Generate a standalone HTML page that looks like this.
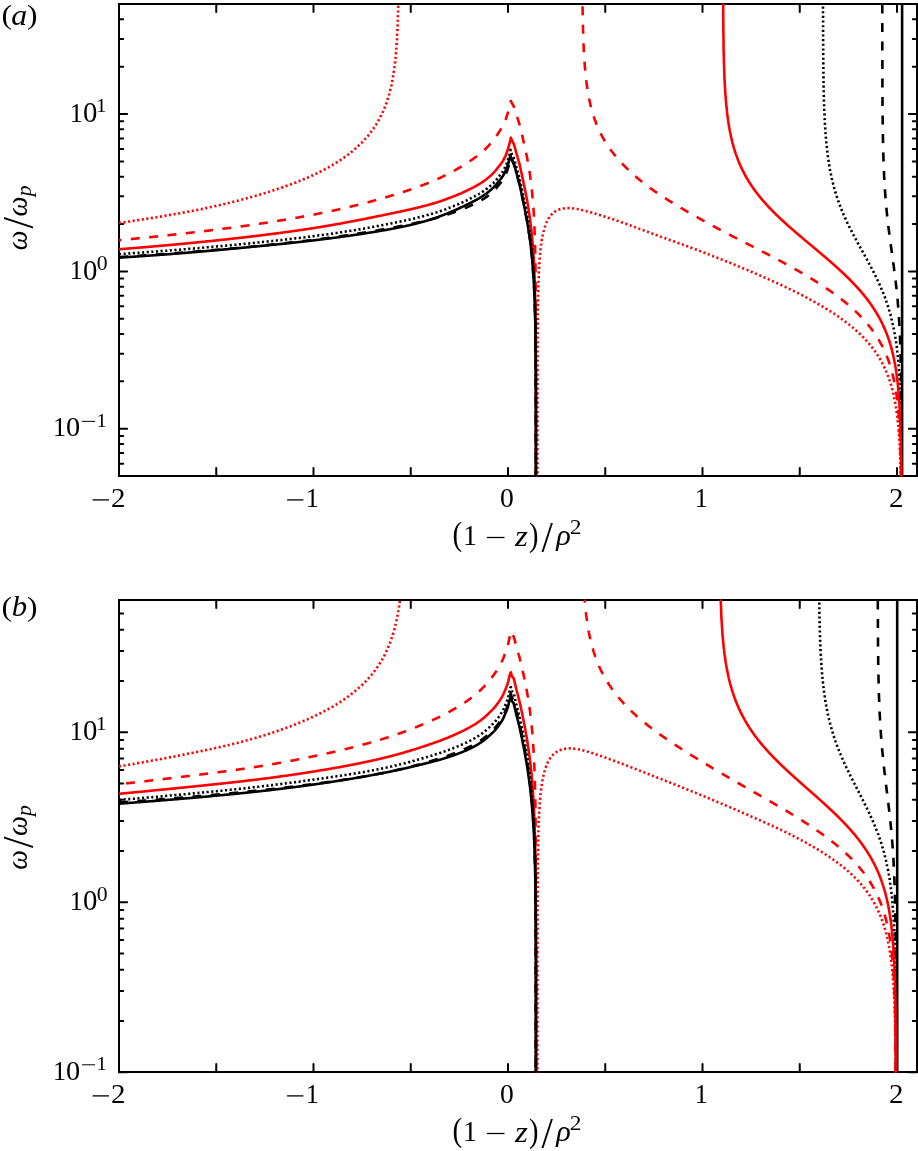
<!DOCTYPE html>
<html><head><meta charset="utf-8"><style>
html,body{margin:0;padding:0;background:#fff;}
svg{display:block;}
.g{font-family:"Liberation Serif",serif;font-size:100px;fill:#000;}
svg text{filter:grayscale(1);}
</style></head><body>
<svg width="918" height="1151" viewBox="0 0 918 1151">
<rect width="918" height="1151" fill="#fff"/>
<path d="M119.00,476v-8.1 M119.00,4v8.1 M216.25,476v-8.1 M216.25,4v8.1 M313.50,476v-8.1 M313.50,4v8.1 M410.75,476v-8.1 M410.75,4v8.1 M508.00,476v-8.1 M508.00,4v8.1 M605.25,476v-8.1 M605.25,4v8.1 M702.50,476v-8.1 M702.50,4v8.1 M799.75,476v-8.1 M799.75,4v8.1 M897.00,476v-8.1 M897.00,4v8.1 M119,476.09h4.2 M917,476.09h-4.2 M119,463.63h4.2 M917,463.63h-4.2 M119,453.10h4.2 M917,453.10h-4.2 M119,443.98h4.2 M917,443.98h-4.2 M119,435.93h4.2 M917,435.93h-4.2 M119,428.73h8.1 M917,428.73h-8.1 M119,381.37h4.2 M917,381.37h-4.2 M119,353.66h4.2 M917,353.66h-4.2 M119,334.01h4.2 M917,334.01h-4.2 M119,318.76h4.2 M917,318.76h-4.2 M119,306.30h4.2 M917,306.30h-4.2 M119,295.77h4.2 M917,295.77h-4.2 M119,286.65h4.2 M917,286.65h-4.2 M119,278.60h4.2 M917,278.60h-4.2 M119,271.40h8.1 M917,271.40h-8.1 M119,224.04h4.2 M917,224.04h-4.2 M119,196.33h4.2 M917,196.33h-4.2 M119,176.68h4.2 M917,176.68h-4.2 M119,161.43h4.2 M917,161.43h-4.2 M119,148.97h4.2 M917,148.97h-4.2 M119,138.44h4.2 M917,138.44h-4.2 M119,129.32h4.2 M917,129.32h-4.2 M119,121.27h4.2 M917,121.27h-4.2 M119,114.07h8.1 M917,114.07h-8.1 M119,66.71h4.2 M917,66.71h-4.2 M119,39.00h4.2 M917,39.00h-4.2 M119,19.35h4.2 M917,19.35h-4.2 M119,4.10h4.2 M917,4.10h-4.2" stroke="#000" stroke-width="2" stroke-linecap="round" fill="none"/>
<rect x="119" y="4" width="798" height="472" fill="none" stroke="#000" stroke-width="2"/>
<clipPath id="clipa"><rect x="119" y="3.6" width="798" height="472.8"/></clipPath>
<g clip-path="url(#clipa)" fill="none" stroke-linejoin="round">
<path d="M119.0,249.2 119.3,249.2 119.7,249.2 120.0,249.2 120.6,249.1 121.1,249.1 121.5,249.0 122.0,249.0 122.5,249.0 123.2,248.9 123.7,248.9 124.2,248.8 124.7,248.8 125.3,248.7 125.8,248.7 126.3,248.7 126.8,248.6 127.3,248.6 127.9,248.5 128.4,248.5 128.9,248.5 129.4,248.4 130.0,248.4 130.5,248.3 131.0,248.3 131.5,248.3 132.0,248.2 132.6,248.2 133.1,248.1 133.6,248.1 134.1,248.0 134.5,248.0 135.2,248.0 135.7,247.9 136.2,247.9 136.7,247.8 137.3,247.8 137.8,247.8 138.3,247.7 138.8,247.7 139.4,247.6 139.9,247.6 140.4,247.5 140.9,247.5 141.4,247.5 142.0,247.4 142.5,247.4 143.0,247.3 143.5,247.3 144.0,247.2 144.5,247.2 145.1,247.1 145.6,247.1 146.1,247.1 146.7,247.0 147.2,247.0 147.7,246.9 148.2,246.9 148.7,246.8 149.3,246.8 149.8,246.8 150.3,246.7 150.8,246.7 151.4,246.6 151.9,246.6 152.4,246.5 152.9,246.5 153.4,246.4 154.0,246.4 154.4,246.4 155.0,246.3 155.5,246.3 156.1,246.2 156.6,246.2 157.1,246.1 157.6,246.1 158.1,246.0 158.7,246.0 159.2,245.9 159.7,245.9 160.2,245.9 160.7,245.8 161.3,245.8 161.8,245.7 162.3,245.7 162.8,245.6 163.4,245.6 163.9,245.5 164.4,245.5 164.9,245.4 165.4,245.4 166.0,245.3 166.5,245.3 167.0,245.2 167.5,245.2 168.1,245.2 168.6,245.1 169.1,245.1 169.6,245.0 170.1,245.0 170.7,244.9 171.2,244.9 171.7,244.8 172.2,244.8 172.7,244.7 173.3,244.7 173.8,244.6 174.3,244.6 174.8,244.5 175.4,244.5 175.9,244.4 176.4,244.4 176.9,244.3 177.4,244.3 178.0,244.2 178.5,244.2 179.0,244.1 179.5,244.1 180.1,244.1 180.6,244.0 181.1,244.0 181.6,243.9 182.1,243.9 182.7,243.8 183.2,243.8 183.7,243.7 184.2,243.7 184.8,243.6 185.3,243.6 185.8,243.5 186.3,243.5 186.8,243.4 187.3,243.4 187.9,243.3 188.4,243.3 188.9,243.2 189.4,243.2 190.0,243.1 190.5,243.1 191.0,243.0 191.5,243.0 192.1,242.9 192.6,242.9 193.1,242.8 193.6,242.7 194.1,242.7 194.7,242.6 195.2,242.6 195.7,242.5 196.2,242.5 196.8,242.4 197.3,242.4 197.8,242.3 198.3,242.3 198.8,242.2 199.4,242.2 199.9,242.1 200.4,242.1 200.9,242.0 201.5,242.0 202.0,241.9 202.5,241.9 203.0,241.8 203.5,241.8 204.1,241.7 204.6,241.7 205.1,241.6 205.6,241.5 206.1,241.5 206.7,241.4 207.2,241.4 207.7,241.3 208.2,241.3 208.8,241.2 209.3,241.2 209.8,241.1 210.3,241.1 210.8,241.0 211.4,241.0 211.9,240.9 212.4,240.8 212.9,240.8 213.5,240.7 213.9,240.7 214.5,240.6 215.0,240.6 215.5,240.5 216.1,240.5 216.6,240.4 217.1,240.4 217.6,240.3 218.1,240.2 218.7,240.2 219.2,240.1 219.7,240.1 220.2,240.0 220.8,240.0 221.3,239.9 221.8,239.9 222.3,239.8 222.8,239.7 223.4,239.7 223.9,239.6 224.4,239.6 224.9,239.5 225.5,239.5 226.0,239.4 226.5,239.3 227.0,239.3 227.5,239.2 228.1,239.2 228.6,239.1 229.1,239.1 229.6,239.0 230.2,238.9 230.7,238.9 231.2,238.8 231.7,238.8 232.2,238.7 232.8,238.6 233.3,238.6 233.8,238.5 234.3,238.5 234.8,238.4 235.4,238.4 235.9,238.3 236.4,238.2 236.9,238.2 237.5,238.1 238.0,238.1 238.5,238.0 239.0,237.9 239.5,237.9 240.1,237.8 240.6,237.8 241.1,237.7 241.6,237.6 242.2,237.6 242.7,237.5 243.2,237.5 243.7,237.4 244.2,237.3 244.8,237.3 245.3,237.2 245.8,237.2 246.3,237.1 246.9,237.0 247.4,237.0 247.9,236.9 248.4,236.9 248.9,236.8 249.5,236.7 250.0,236.7 250.5,236.6 250.9,236.6 251.5,236.5 252.1,236.4 252.6,236.4 253.1,236.3 253.6,236.2 254.2,236.2 254.7,236.1 255.2,236.0 255.7,236.0 256.2,235.9 256.8,235.9 257.3,235.8 257.8,235.7 258.3,235.7 258.9,235.6 259.4,235.5 259.9,235.5 260.4,235.4 260.9,235.3 261.5,235.3 262.0,235.2 262.5,235.2 263.0,235.1 263.5,235.0 264.1,235.0 264.6,234.9 265.1,234.8 265.6,234.8 266.2,234.7 266.7,234.6 267.2,234.6 267.7,234.5 268.2,234.4 268.8,234.4 269.3,234.3 269.8,234.2 270.3,234.2 270.9,234.1 271.4,234.0 271.9,234.0 272.4,233.9 272.9,233.8 273.5,233.8 274.0,233.7 274.5,233.6 275.0,233.6 275.6,233.5 276.1,233.4 276.6,233.4 277.1,233.3 277.6,233.2 278.2,233.2 278.7,233.1 279.2,233.0 279.7,233.0 280.2,232.9 280.8,232.8 281.3,232.7 281.8,232.7 282.3,232.6 282.9,232.5 283.4,232.5 283.9,232.4 284.4,232.3 284.9,232.3 285.5,232.2 286.0,232.1 286.5,232.0 287.0,232.0 287.6,231.9 288.1,231.8 288.6,231.8 289.1,231.7 289.6,231.6 290.2,231.5 290.7,231.5 291.2,231.4 291.7,231.3 292.3,231.2 292.8,231.2 293.3,231.1 293.8,231.0 294.3,231.0 294.9,230.9 295.4,230.8 295.9,230.7 296.4,230.7 296.9,230.6 297.5,230.5 298.0,230.4 298.5,230.4 299.0,230.3 299.6,230.2 300.1,230.1 300.6,230.0 301.1,230.0 301.6,229.9 302.2,229.8 302.7,229.7 303.2,229.7 303.7,229.6 304.3,229.5 304.8,229.4 305.3,229.4 305.8,229.3 306.3,229.2 306.9,229.1 307.4,229.0 307.9,229.0 308.4,228.9 308.9,228.8 309.5,228.7 310.0,228.6 310.5,228.6 311.0,228.5 311.6,228.4 312.1,228.3 312.6,228.2 313.1,228.2 313.6,228.1 314.2,228.0 314.7,227.9 315.2,227.8 315.7,227.7 316.3,227.7 316.8,227.6 317.3,227.5 317.8,227.4 318.3,227.3 318.9,227.2 319.4,227.2 319.9,227.1 320.4,227.0 321.0,226.9 321.5,226.8 322.0,226.7 322.5,226.6 323.0,226.6 323.6,226.5 324.1,226.4 324.6,226.3 325.1,226.2 325.6,226.1 326.2,226.0 326.7,225.9 327.2,225.9 327.7,225.8 328.3,225.7 328.8,225.6 329.3,225.5 329.8,225.4 330.3,225.3 330.9,225.2 331.4,225.1 331.9,225.1 332.4,225.0 333.0,224.9 333.5,224.8 334.0,224.7 334.5,224.6 335.0,224.5 335.6,224.4 336.1,224.3 336.6,224.2 337.1,224.1 337.7,224.0 338.2,223.9 338.7,223.9 339.2,223.8 339.7,223.7 340.3,223.6 340.8,223.5 341.3,223.4 341.8,223.3 342.3,223.2 342.9,223.1 343.4,223.0 343.9,222.9 344.4,222.8 345.0,222.7 345.5,222.6 346.0,222.5 346.5,222.4 347.0,222.3 347.6,222.2 348.1,222.1 348.6,222.0 349.1,221.9 349.7,221.8 350.2,221.7 350.7,221.6 351.2,221.5 351.7,221.4 352.3,221.3 352.8,221.2 353.3,221.1 353.8,221.0 354.3,220.9 354.9,220.8 355.4,220.7 355.9,220.6 356.4,220.5 357.0,220.4 357.5,220.3 358.0,220.2 358.5,220.1 359.0,220.0 359.6,219.9 360.1,219.8 360.6,219.7 361.1,219.6 361.7,219.5 362.2,219.4 362.7,219.3 363.2,219.2 363.7,219.1 364.3,219.0 364.8,218.9 365.3,218.8 365.8,218.7 366.4,218.6 366.9,218.5 367.4,218.3 367.9,218.2 368.4,218.1 369.0,218.0 369.5,217.9 370.0,217.8 370.5,217.7 371.0,217.6 371.6,217.5 372.1,217.4 372.6,217.3 373.1,217.2 373.7,217.1 374.2,217.0 374.7,216.9 375.2,216.8 375.7,216.7 376.3,216.5 376.8,216.4 377.3,216.3 377.8,216.2 378.4,216.1 378.9,216.0 379.4,215.9 379.9,215.8 380.4,215.7 381.0,215.6 381.5,215.5 382.0,215.4 382.5,215.3 383.1,215.2 383.6,215.1 384.1,214.9 384.6,214.8 385.1,214.7 385.7,214.6 386.2,214.5 386.7,214.4 387.2,214.3 387.7,214.2 388.3,214.1 388.8,214.0 389.3,213.9 389.8,213.8 390.4,213.6 390.9,213.5 391.4,213.4 391.9,213.3 392.4,213.2 393.0,213.1 393.5,213.0 394.0,212.9 394.5,212.8 395.1,212.7 395.6,212.6 396.1,212.4 396.6,212.3 397.1,212.2 397.7,212.1 398.2,212.0 398.7,211.9 399.2,211.8 399.7,211.7 400.3,211.6 400.8,211.4 401.3,211.3 401.8,211.2 402.4,211.1 402.9,211.0 403.4,210.9 403.9,210.8 404.4,210.7 405.0,210.5 405.5,210.4 406.0,210.3 406.5,210.2 407.1,210.1 407.6,210.0 408.1,209.8 408.6,209.7 409.1,209.6 409.7,209.5 410.2,209.4 410.7,209.3 411.2,209.1 411.8,209.0 412.3,208.9 412.8,208.8 413.3,208.7 413.8,208.5 414.4,208.4 414.9,208.3 415.4,208.2 415.9,208.0 416.4,207.9 417.0,207.8 417.5,207.7 418.0,207.5 418.5,207.4 419.1,207.3 419.6,207.2 420.1,207.0 420.6,206.9 421.1,206.8 421.7,206.6 422.2,206.5 422.7,206.4 423.2,206.2 423.8,206.1 424.1,206.0 424.8,205.8 425.3,205.7 425.8,205.6 426.4,205.4 426.9,205.3 427.4,205.1 427.9,205.0 428.5,204.8 429.0,204.7 429.5,204.6 430.0,204.4 430.5,204.3 431.1,204.1 431.6,204.0 432.1,203.8 432.6,203.7 433.1,203.5 433.7,203.4 434.2,203.2 434.7,203.0 435.2,202.9 435.8,202.7 436.3,202.6 436.8,202.4 437.3,202.2 437.8,202.1 438.4,201.9 438.9,201.7 439.4,201.6 439.9,201.4 440.5,201.2 441.0,201.0 441.5,200.9 442.0,200.7 442.5,200.5 443.1,200.3 443.6,200.1 444.1,200.0 444.6,199.8 445.1,199.6 445.7,199.4 446.2,199.2 446.7,199.0 447.2,198.8 447.8,198.6 448.3,198.4 448.8,198.2 449.3,198.0 449.8,197.8 450.4,197.6 450.9,197.4 451.4,197.2 451.9,197.0 452.5,196.8 453.0,196.6 453.5,196.4 454.0,196.2 454.5,196.0 455.1,195.8 455.4,195.6 456.1,195.4 456.6,195.2 457.2,194.9 457.7,194.7 458.2,194.5 458.7,194.3 459.2,194.1 459.8,193.8 460.3,193.6 460.8,193.4 461.3,193.2 461.8,192.9 462.4,192.7 462.9,192.5 463.4,192.2 463.9,192.0 464.5,191.7 465.0,191.5 465.5,191.3 466.0,191.0 466.5,190.8 467.1,190.5 467.6,190.3 468.1,190.0 468.6,189.7 469.2,189.5 469.7,189.2 470.2,189.0 470.7,188.7 471.2,188.4 471.8,188.2 472.3,187.9 472.8,187.6 473.3,187.4 473.9,187.1 474.4,186.8 474.9,186.5 475.4,186.3 475.9,186.0 476.5,185.7 477.0,185.4 477.5,185.1 478.0,184.8 478.5,184.5 479.1,184.2 479.6,183.9 480.1,183.6 480.6,183.2 481.2,182.9 481.7,182.6 482.2,182.2 482.7,181.9 483.2,181.5 483.8,181.2 484.3,180.8 484.8,180.4 485.3,180.0 485.9,179.6 486.4,179.2 486.8,178.9 487.4,178.4 487.9,177.9 488.5,177.5 489.0,177.1 489.5,176.6 490.0,176.2 490.5,175.7 491.1,175.2 491.6,174.7 492.1,174.3 492.6,173.8 493.2,173.2 493.7,172.7 494.2,172.1 494.7,171.6 495.2,171.0 495.8,170.3 496.3,169.7 496.8,169.0 497.3,168.4 497.9,167.7 498.4,167.0 498.9,166.4 499.4,165.7 499.9,165.0 500.5,164.4 501.0,163.7 501.5,163.0 502.0,162.2 502.6,161.5 503.1,160.6 503.6,159.7 504.1,158.7 504.6,157.7 505.2,156.6 505.7,155.4 505.9,154.8 506.2,154.1 506.7,152.8 507.2,151.4 507.8,149.8 508.3,148.0 508.8,146.2 509.3,144.2 509.9,142.2 510.4,139.8 510.5,139.2 510.9,137.7 511.4,139.0 511.9,140.2 512.5,141.3 513.0,142.3 513.5,143.3 514.0,144.7 514.4,145.8 514.6,146.5 515.1,148.3 515.6,150.2 516.1,152.1 516.6,153.9 517.2,155.7 517.6,157.3 518.2,159.3 518.7,161.3 519.3,163.3 519.8,165.5 520.3,167.7 520.4,168.2 520.8,170.0 521.3,172.4 521.9,174.8 522.4,177.2 522.8,179.0 522.9,179.6 523.4,182.1 523.9,184.6 524.5,187.1 524.8,188.5 525.0,189.6 525.5,192.3 526.0,194.9 526.5,197.2 526.6,197.7 527.1,200.5 527.6,203.5 527.9,205.2 528.1,206.5 528.6,209.7 529.1,212.8 529.2,213.1 529.7,216.7 530.2,220.2 530.2,220.6 530.7,224.7 531.0,227.3 531.3,229.2 531.8,234.1 532.3,239.6 532.4,240.9 532.8,245.7 532.9,247.4 533.3,252.9 533.4,253.8 533.8,260.1 533.9,261.4 534.1,266.3 534.4,272.1 534.6,278.4 534.8,284.4 534.9,286.9 535.0,290.3 535.1,296.1 535.3,302.0 535.4,307.8 535.4,311.4 535.5,313.5 535.5,319.3 535.6,325.0 535.6,330.7 535.7,336.4 535.7,342.1 535.8,347.7 535.8,353.4 535.8,359.1 535.8,364.7 535.9,370.4 535.9,376.0 535.9,381.6 535.9,387.3 535.9,392.9 535.9,398.5 535.9,404.2 535.9,409.8 535.9,415.4 535.9,421.1 535.9,426.7 535.9,432.3 535.9,437.9 535.9,443.5 535.9,449.2 535.9,454.8 535.9,460.4 535.9,466.0 535.9,471.7 535.9,477.3 535.9,482.9 535.9,488.5 535.9,494.1 535.9,499.8 535.9,505.4 535.9,506.0" stroke="#ff0000" stroke-width="2.6" stroke-linecap="round"/>
<path d="M119.0,240.2 119.3,240.2 119.7,240.1 120.0,240.1 120.6,240.1 121.1,240.0 121.5,240.0 122.0,239.9 122.5,239.9 123.2,239.8 123.7,239.8 124.2,239.7 124.7,239.7 125.3,239.6 125.8,239.6 126.3,239.5 126.8,239.5 127.3,239.4 127.9,239.4 128.4,239.3 128.9,239.3 129.4,239.2 130.0,239.2 130.5,239.1 131.0,239.1 131.5,239.0 132.0,239.0 132.6,238.9 133.1,238.9 133.6,238.8 134.1,238.8 134.5,238.7 135.2,238.7 135.7,238.6 136.2,238.5 136.7,238.5 137.3,238.4 137.8,238.4 138.3,238.3 138.8,238.3 139.4,238.2 139.9,238.2 140.4,238.1 140.9,238.1 141.4,238.0 142.0,238.0 142.5,237.9 143.0,237.9 143.5,237.8 144.0,237.8 144.5,237.7 145.1,237.7 145.6,237.6 146.1,237.5 146.7,237.5 147.2,237.4 147.7,237.4 148.2,237.3 148.7,237.3 149.3,237.2 149.8,237.2 150.3,237.1 150.8,237.1 151.4,237.0 151.9,237.0 152.4,236.9 152.9,236.8 153.4,236.8 154.0,236.7 154.4,236.7 155.0,236.6 155.5,236.6 156.1,236.5 156.6,236.5 157.1,236.4 157.6,236.4 158.1,236.3 158.7,236.2 159.2,236.2 159.7,236.1 160.2,236.1 160.7,236.0 161.3,236.0 161.8,235.9 162.3,235.9 162.8,235.8 163.4,235.7 163.9,235.7 164.4,235.6 164.9,235.6 165.4,235.5 166.0,235.5 166.5,235.4 167.0,235.3 167.5,235.3 168.1,235.2 168.6,235.2 169.1,235.1 169.6,235.1 170.1,235.0 170.7,234.9 171.2,234.9 171.7,234.8 172.2,234.8 172.7,234.7 173.3,234.7 173.8,234.6 174.3,234.5 174.8,234.5 175.4,234.4 175.9,234.4 176.4,234.3 176.9,234.3 177.4,234.2 178.0,234.1 178.5,234.1 179.0,234.0 179.5,234.0 180.1,233.9 180.6,233.8 181.1,233.8 181.6,233.7 182.1,233.7 182.7,233.6 183.2,233.5 183.7,233.5 184.2,233.4 184.8,233.4 185.3,233.3 185.8,233.3 186.3,233.2 186.8,233.1 187.3,233.1 187.9,233.0 188.4,233.0 188.9,232.9 189.4,232.8 190.0,232.8 190.5,232.7 191.0,232.7 191.5,232.6 192.1,232.5 192.6,232.5 193.1,232.4 193.6,232.3 194.1,232.3 194.7,232.2 195.2,232.2 195.7,232.1 196.2,232.0 196.8,232.0 197.3,231.9 197.8,231.9 198.3,231.8 198.8,231.7 199.4,231.7 199.9,231.6 200.4,231.6 200.9,231.5 201.5,231.4 202.0,231.4 202.5,231.3 203.0,231.2 203.5,231.2 204.1,231.1 204.6,231.1 205.1,231.0 205.6,230.9 206.1,230.9 206.7,230.8 207.2,230.7 207.7,230.7 208.2,230.6 208.8,230.6 209.3,230.5 209.8,230.4 210.3,230.4 210.8,230.3 211.4,230.2 211.9,230.2 212.4,230.1 212.9,230.0 213.5,230.0 213.9,229.9 214.5,229.8 215.0,229.8 215.5,229.7 216.1,229.7 216.6,229.6 217.1,229.5 217.6,229.5 218.1,229.4 218.7,229.3 219.2,229.3 219.7,229.2 220.2,229.1 220.8,229.1 221.3,229.0 221.8,228.9 222.3,228.9 222.8,228.8 223.4,228.7 223.9,228.7 224.4,228.6 224.9,228.5 225.5,228.5 226.0,228.4 226.5,228.3 227.0,228.3 227.5,228.2 228.1,228.1 228.6,228.1 229.1,228.0 229.6,227.9 230.2,227.9 230.7,227.8 231.2,227.7 231.7,227.6 232.2,227.6 232.8,227.5 233.3,227.4 233.8,227.4 234.3,227.3 234.8,227.2 235.4,227.2 235.9,227.1 236.4,227.0 236.9,227.0 237.5,226.9 238.0,226.8 238.5,226.7 239.0,226.7 239.5,226.6 240.1,226.5 240.6,226.5 241.1,226.4 241.6,226.3 242.2,226.2 242.7,226.2 243.2,226.1 243.7,226.0 244.2,226.0 244.8,225.9 245.3,225.8 245.8,225.7 246.3,225.7 246.9,225.6 247.4,225.5 247.9,225.4 248.4,225.4 248.9,225.3 249.5,225.2 250.0,225.1 250.5,225.1 250.9,225.0 251.5,224.9 252.1,224.8 252.6,224.8 253.1,224.7 253.6,224.6 254.2,224.5 254.7,224.5 255.2,224.4 255.7,224.3 256.2,224.2 256.8,224.2 257.3,224.1 257.8,224.0 258.3,223.9 258.9,223.8 259.4,223.8 259.9,223.7 260.4,223.6 260.9,223.5 261.5,223.5 262.0,223.4 262.5,223.3 263.0,223.2 263.5,223.1 264.1,223.1 264.6,223.0 265.1,222.9 265.6,222.8 266.2,222.7 266.7,222.7 267.2,222.6 267.7,222.5 268.2,222.4 268.8,222.3 269.3,222.3 269.8,222.2 270.3,222.1 270.9,222.0 271.4,221.9 271.9,221.8 272.4,221.8 272.9,221.7 273.5,221.6 274.0,221.5 274.5,221.4 275.0,221.4 275.6,221.3 276.1,221.2 276.6,221.1 277.1,221.0 277.6,220.9 278.2,220.8 278.7,220.8 279.2,220.7 279.7,220.6 280.2,220.5 280.8,220.4 281.3,220.3 281.8,220.2 282.3,220.2 282.9,220.1 283.4,220.0 283.9,219.9 284.4,219.8 284.9,219.7 285.5,219.6 286.0,219.5 286.5,219.5 287.0,219.4 287.6,219.3 288.1,219.2 288.6,219.1 289.1,219.0 289.6,218.9 290.2,218.8 290.7,218.7 291.2,218.7 291.7,218.6 292.3,218.5 292.8,218.4 293.3,218.3 293.8,218.2 294.3,218.1 294.9,218.0 295.4,217.9 295.9,217.8 296.4,217.7 296.9,217.7 297.5,217.6 298.0,217.5 298.5,217.4 299.0,217.3 299.6,217.2 300.1,217.1 300.6,217.0 301.1,216.9 301.6,216.8 302.2,216.7 302.7,216.6 303.2,216.5 303.7,216.4 304.3,216.3 304.8,216.2 305.3,216.1 305.8,216.0 306.3,215.9 306.9,215.9 307.4,215.8 307.9,215.7 308.4,215.6 308.9,215.5 309.5,215.4 310.0,215.3 310.5,215.2 311.0,215.1 311.6,215.0 312.1,214.9 312.6,214.8 313.1,214.7 313.6,214.6 314.2,214.5 314.7,214.4 315.2,214.3 315.7,214.2 316.3,214.1 316.8,214.0 317.3,213.9 317.8,213.8 318.3,213.6 318.9,213.5 319.4,213.4 319.9,213.3 320.4,213.2 321.0,213.1 321.5,213.0 322.0,212.9 322.5,212.8 323.0,212.7 323.6,212.6 324.1,212.5 324.6,212.4 325.1,212.3 325.6,212.2 326.2,212.1 326.7,212.0 327.2,211.9 327.7,211.7 328.3,211.6 328.8,211.5 329.3,211.4 329.8,211.3 330.3,211.2 330.9,211.1 331.4,211.0 331.9,210.9 332.4,210.7 333.0,210.6 333.5,210.5 334.0,210.4 334.5,210.3 335.0,210.2 335.6,210.1 336.1,210.0 336.6,209.8 337.1,209.7 337.7,209.6 338.2,209.5 338.7,209.4 339.2,209.3 339.7,209.1 340.3,209.0 340.8,208.9 341.3,208.8 341.8,208.7 342.3,208.6 342.9,208.4 343.4,208.3 343.9,208.2 344.4,208.1 345.0,208.0 345.5,207.8 346.0,207.7 346.5,207.6 347.0,207.5 347.6,207.4 348.1,207.2 348.6,207.1 349.1,207.0 349.7,206.9 350.2,206.7 350.7,206.6 351.2,206.5 351.7,206.4 352.3,206.2 352.8,206.1 353.3,206.0 353.8,205.9 354.3,205.7 354.9,205.6 355.4,205.5 355.9,205.3 356.4,205.2 357.0,205.1 357.5,205.0 358.0,204.8 358.5,204.7 359.0,204.6 359.6,204.4 360.1,204.3 360.6,204.2 361.1,204.0 361.7,203.9 362.2,203.8 362.7,203.6 363.2,203.5 363.7,203.4 364.3,203.2 364.8,203.1 365.3,203.0 365.8,202.8 366.4,202.7 366.9,202.5 367.4,202.4 367.9,202.3 368.4,202.1 369.0,202.0 369.5,201.9 370.0,201.7 370.5,201.6 371.0,201.4 371.6,201.3 372.1,201.2 372.6,201.0 373.1,200.9 373.7,200.7 374.2,200.6 374.7,200.4 375.2,200.3 375.7,200.2 376.3,200.0 376.8,199.9 377.3,199.7 377.8,199.6 378.4,199.4 378.9,199.3 379.4,199.1 379.9,199.0 380.4,198.8 381.0,198.7 381.5,198.5 382.0,198.4 382.5,198.2 383.1,198.1 383.6,197.9 384.1,197.8 384.6,197.6 385.1,197.5 385.7,197.3 386.2,197.2 386.7,197.0 387.2,196.9 387.7,196.7 388.3,196.6 388.8,196.4 389.3,196.3 389.8,196.1 390.4,195.9 390.9,195.8 391.4,195.6 391.9,195.5 392.4,195.3 393.0,195.2 393.5,195.0 394.0,194.8 394.5,194.7 395.1,194.5 395.6,194.4 396.1,194.2 396.6,194.0 397.1,193.9 397.7,193.7 398.2,193.5 398.7,193.4 399.2,193.2 399.7,193.1 400.3,192.9 400.8,192.7 401.3,192.6 401.8,192.4 402.4,192.2 402.9,192.1 403.4,191.9 403.9,191.7 404.4,191.5 405.0,191.4 405.5,191.2 406.0,191.0 406.5,190.9 407.1,190.7 407.6,190.5 408.1,190.3 408.6,190.2 409.1,190.0 409.7,189.8 410.2,189.6 410.7,189.4 411.2,189.3 411.8,189.1 412.3,188.9 412.8,188.7 413.3,188.5 413.8,188.4 414.4,188.2 414.9,188.0 415.4,187.8 415.9,187.6 416.4,187.4 417.0,187.2 417.5,187.1 418.0,186.9 418.5,186.7 419.1,186.5 419.6,186.3 420.1,186.1 420.6,185.9 421.1,185.7 421.7,185.5 422.2,185.3 422.7,185.1 423.2,184.9 423.8,184.7 424.1,184.6 424.8,184.3 425.3,184.1 425.8,183.9 426.4,183.7 426.9,183.5 427.4,183.3 427.9,183.1 428.5,182.9 429.0,182.7 429.5,182.5 430.0,182.2 430.5,182.0 431.1,181.8 431.6,181.6 432.1,181.4 432.6,181.2 433.1,180.9 433.7,180.7 434.2,180.5 434.7,180.3 435.2,180.0 435.8,179.8 436.3,179.6 436.8,179.3 437.3,179.1 437.8,178.9 438.4,178.6 438.9,178.4 439.4,178.1 439.9,177.9 440.5,177.7 441.0,177.4 441.5,177.2 442.0,176.9 442.5,176.7 443.1,176.4 443.6,176.2 444.1,175.9 444.6,175.6 445.1,175.4 445.7,175.1 446.2,174.9 446.7,174.6 447.2,174.3 447.8,174.1 448.3,173.8 448.8,173.5 449.3,173.3 449.8,173.0 450.4,172.7 450.9,172.4 451.4,172.2 451.9,171.9 452.5,171.6 453.0,171.3 453.5,171.0 454.0,170.7 454.5,170.5 455.1,170.2 455.4,170.0 456.1,169.6 456.6,169.3 457.2,169.0 457.7,168.7 458.2,168.4 458.7,168.1 459.2,167.8 459.8,167.5 460.3,167.2 460.8,166.9 461.3,166.6 461.8,166.2 462.4,165.9 462.9,165.6 463.4,165.3 463.9,165.0 464.5,164.6 465.0,164.3 465.5,164.0 466.0,163.6 466.5,163.3 467.1,163.0 467.6,162.6 468.1,162.3 468.6,161.9 469.2,161.6 469.7,161.2 470.2,160.9 470.7,160.5 471.2,160.2 471.8,159.8 472.3,159.5 472.8,159.1 473.3,158.7 473.9,158.4 474.4,158.0 474.9,157.6 475.4,157.2 475.9,156.9 476.5,156.5 477.0,156.1 477.5,155.7 478.0,155.3 478.5,154.9 479.1,154.5 479.6,154.1 480.1,153.7 480.6,153.2 481.2,152.8 481.7,152.4 482.2,151.9 482.7,151.5 483.2,151.0 483.8,150.5 484.3,150.0 484.8,149.5 485.3,149.0 485.9,148.5 486.4,148.0 486.8,147.6 487.4,147.0 487.9,146.4 488.5,145.9 489.0,145.3 489.5,144.7 490.0,144.2 490.5,143.6 491.1,143.0 491.6,142.4 492.1,141.8 492.6,141.2 493.2,140.5 493.7,139.9 494.2,139.2 494.7,138.5 495.2,137.8 495.8,137.0 496.3,136.2 496.8,135.4 497.3,134.7 497.9,133.8 498.4,133.0 498.9,132.2 499.4,131.4 499.9,130.6 500.5,129.8 501.0,129.0 501.5,128.2 502.0,127.3 502.6,126.3 503.1,125.4 503.6,124.3 504.1,123.2 504.6,122.0 505.2,120.8 505.7,119.4 505.9,118.7 506.2,118.0 506.7,116.5 507.2,114.9 507.8,113.2 508.3,111.2 508.8,109.2 509.3,107.2 509.9,105.0 510.4,102.4 510.5,101.7 510.9,101.0 511.4,102.1 511.9,103.1 512.5,104.1 513.0,105.0 513.5,105.8 514.0,107.0 514.4,108.0 514.6,108.6 515.1,110.3 515.6,112.0 516.1,113.6 516.6,115.3 517.2,116.9 517.6,118.4 518.2,120.2 518.7,121.9 519.3,123.8 519.8,125.7 520.3,127.8 520.4,128.2 520.8,129.9 521.3,132.1 521.9,134.2 522.4,136.4 522.8,138.1 522.9,138.7 523.4,140.9 523.9,143.2 524.5,145.5 524.8,146.8 525.0,147.8 525.5,150.2 526.0,152.7 526.5,154.7 526.6,155.2 527.1,157.8 527.6,160.5 527.9,162.1 528.1,163.3 528.6,166.3 529.1,169.2 529.7,172.8 530.2,176.0 530.2,176.4 530.7,180.3 531.0,182.7 531.3,184.5 531.8,189.1 532.3,194.3 532.4,195.6 532.8,200.3 532.9,201.9 533.3,207.1 533.4,208.0 533.8,214.1 533.9,215.4 534.1,220.1 534.4,225.8 534.6,232.0 534.8,237.8 534.9,240.3 535.0,243.6 535.1,249.4 535.3,255.2 535.4,260.9 535.4,264.6 535.5,266.6 535.5,272.3 535.6,278.0 535.6,283.7 535.7,289.4 535.7,295.0 535.8,300.7 535.8,306.3 535.8,312.0 535.8,317.6 535.9,323.3 535.9,328.9 535.9,334.5 535.9,340.2 535.9,345.8 535.9,351.4 535.9,357.0 535.9,362.7 535.9,368.3 535.9,373.9 535.9,379.5 535.9,385.2 535.9,390.8 535.9,396.4 535.9,402.0 535.9,407.6 535.9,413.3 535.9,418.9 535.9,424.5 535.9,430.1 535.9,435.7 535.9,441.4 535.9,447.0 535.9,452.6 535.9,458.2 535.9,463.8 535.9,469.5 535.9,475.1 535.9,480.7 535.9,486.3 535.9,491.9 535.9,497.6 535.9,503.2 535.9,506.0" stroke="#ff0000" stroke-width="2.6" stroke-dasharray="9 9.5" stroke-dashoffset="6.54"/>
<path d="M119.0,223.0 119.3,222.9 119.6,222.9 120.0,222.8 120.4,222.8 120.7,222.7 121.0,222.7 121.4,222.6 121.8,222.6 122.2,222.5 122.5,222.5 122.9,222.4 123.2,222.4 123.6,222.3 123.9,222.3 124.3,222.2 124.6,222.2 125.0,222.1 125.3,222.1 125.7,222.0 126.0,222.0 126.4,221.9 126.7,221.9 127.1,221.8 127.4,221.8 127.8,221.7 128.1,221.7 128.5,221.6 128.8,221.6 129.2,221.5 129.5,221.5 129.9,221.4 130.2,221.3 130.6,221.3 130.9,221.2 131.3,221.2 131.6,221.1 132.0,221.1 132.3,221.0 132.7,221.0 133.0,220.9 133.4,220.9 133.7,220.8 134.1,220.8 134.4,220.7 134.8,220.7 135.1,220.6 135.5,220.6 135.8,220.5 136.2,220.5 136.5,220.4 136.9,220.3 137.2,220.3 137.6,220.2 137.9,220.2 138.3,220.1 138.6,220.1 139.0,220.0 139.3,220.0 139.7,219.9 140.0,219.9 140.4,219.8 140.7,219.8 141.1,219.7 141.4,219.7 141.8,219.6 142.1,219.5 142.5,219.5 142.8,219.4 143.2,219.4 143.5,219.3 143.9,219.3 144.2,219.2 144.6,219.2 144.9,219.1 145.3,219.1 145.6,219.0 146.0,218.9 146.3,218.9 146.7,218.8 147.0,218.8 147.4,218.7 147.7,218.7 148.1,218.6 148.4,218.6 148.8,218.5 149.1,218.4 149.5,218.4 149.8,218.3 150.2,218.3 150.5,218.2 150.9,218.2 151.2,218.1 151.6,218.0 151.9,218.0 152.3,217.9 152.6,217.9 153.0,217.8 153.3,217.8 153.7,217.7 154.0,217.7 154.4,217.6 154.7,217.5 155.1,217.5 155.4,217.4 155.8,217.4 156.1,217.3 156.5,217.3 156.8,217.2 157.2,217.1 157.5,217.1 157.9,217.0 158.2,217.0 158.6,216.9 158.9,216.8 159.3,216.8 159.6,216.7 160.0,216.7 160.3,216.6 160.7,216.6 161.0,216.5 161.4,216.4 161.8,216.4 162.1,216.3 162.5,216.3 162.8,216.2 163.2,216.1 163.5,216.1 163.9,216.0 164.2,216.0 164.6,215.9 164.9,215.9 165.3,215.8 165.6,215.7 166.0,215.7 166.3,215.6 166.7,215.6 167.0,215.5 167.4,215.4 167.7,215.4 168.1,215.3 168.4,215.3 168.8,215.2 169.1,215.1 169.5,215.1 169.8,215.0 170.2,214.9 170.5,214.9 170.9,214.8 171.2,214.8 171.6,214.7 171.9,214.6 172.3,214.6 172.6,214.5 173.0,214.5 173.3,214.4 173.7,214.3 174.0,214.3 174.4,214.2 174.7,214.1 175.1,214.1 175.4,214.0 175.8,214.0 176.1,213.9 176.5,213.8 176.8,213.8 177.2,213.7 177.5,213.6 177.9,213.6 178.2,213.5 178.6,213.5 178.9,213.4 179.3,213.3 179.6,213.3 180.0,213.2 180.3,213.1 180.7,213.1 181.0,213.0 181.4,212.9 181.7,212.9 182.1,212.8 182.4,212.8 182.8,212.7 183.1,212.6 183.5,212.6 183.8,212.5 184.2,212.4 184.5,212.4 184.9,212.3 185.2,212.2 185.6,212.2 185.9,212.1 186.3,212.0 186.6,212.0 187.0,211.9 187.3,211.8 187.7,211.8 188.0,211.7 188.4,211.6 188.7,211.6 189.1,211.5 189.4,211.4 189.8,211.4 190.1,211.3 190.5,211.2 190.8,211.2 191.2,211.1 191.5,211.0 191.9,211.0 192.2,210.9 192.6,210.8 192.9,210.8 193.3,210.7 193.6,210.6 194.0,210.6 194.3,210.5 194.7,210.4 195.0,210.3 195.4,210.3 195.7,210.2 196.1,210.1 196.4,210.1 196.8,210.0 197.1,209.9 197.5,209.9 197.8,209.8 198.2,209.7 198.5,209.6 198.9,209.6 199.2,209.5 199.6,209.4 199.9,209.4 200.3,209.3 200.6,209.2 201.0,209.2 201.3,209.1 201.7,209.0 202.0,208.9 202.4,208.9 202.7,208.8 203.1,208.7 203.4,208.6 203.8,208.6 204.2,208.5 204.5,208.4 204.9,208.4 205.2,208.3 205.6,208.2 205.9,208.1 206.3,208.1 206.6,208.0 207.0,207.9 207.3,207.8 207.7,207.8 208.0,207.7 208.4,207.6 208.7,207.5 209.1,207.5 209.4,207.4 209.8,207.3 210.1,207.2 210.5,207.2 210.8,207.1 211.2,207.0 211.5,206.9 211.9,206.9 212.2,206.8 212.6,206.7 212.9,206.6 213.3,206.5 213.6,206.5 214.0,206.4 214.3,206.3 214.7,206.2 215.0,206.2 215.4,206.1 215.7,206.0 216.1,205.9 216.4,205.8 216.8,205.8 217.1,205.7 217.5,205.6 217.8,205.5 218.2,205.4 218.5,205.4 218.9,205.3 219.2,205.2 219.6,205.1 219.9,205.0 220.3,205.0 220.6,204.9 221.0,204.8 221.3,204.7 221.7,204.6 222.0,204.6 222.4,204.5 222.7,204.4 223.1,204.3 223.4,204.2 223.8,204.1 224.1,204.1 224.5,204.0 224.8,203.9 225.2,203.8 225.5,203.7 225.9,203.6 226.2,203.6 226.6,203.5 226.9,203.4 227.3,203.3 227.6,203.2 228.0,203.1 228.3,203.1 228.7,203.0 229.0,202.9 229.4,202.8 229.7,202.7 230.1,202.6 230.4,202.5 230.8,202.5 231.1,202.4 231.5,202.3 231.8,202.2 232.2,202.1 232.5,202.0 232.9,201.9 233.2,201.8 233.6,201.8 233.9,201.7 234.3,201.6 234.6,201.5 235.0,201.4 235.3,201.3 235.7,201.2 236.0,201.1 236.4,201.0 236.7,201.0 237.1,200.9 237.4,200.8 237.8,200.7 238.1,200.6 238.5,200.5 238.8,200.4 239.2,200.3 239.5,200.2 239.9,200.1 240.2,200.0 240.6,199.9 240.9,199.9 241.3,199.8 241.6,199.7 242.0,199.6 242.3,199.5 242.7,199.4 243.0,199.3 243.4,199.2 243.7,199.1 244.1,199.0 244.4,198.9 244.8,198.8 245.1,198.7 245.5,198.6 245.8,198.5 246.2,198.4 246.6,198.3 246.9,198.3 247.3,198.2 247.6,198.1 248.0,198.0 248.3,197.9 248.7,197.8 249.0,197.7 249.4,197.6 249.7,197.5 250.1,197.4 250.4,197.3 250.8,197.2 251.1,197.1 251.5,197.0 251.8,196.9 252.2,196.8 252.5,196.7 252.9,196.6 253.2,196.5 253.6,196.4 253.9,196.3 254.3,196.2 254.6,196.1 255.0,196.0 255.3,195.9 255.7,195.8 256.0,195.7 256.4,195.6 256.7,195.5 257.1,195.4 257.4,195.3 257.8,195.2 258.1,195.1 258.5,195.0 258.8,194.9 259.2,194.8 259.5,194.7 259.9,194.6 260.2,194.5 260.6,194.3 260.9,194.2 261.3,194.1 261.6,194.0 262.0,193.9 262.3,193.8 262.7,193.7 263.0,193.6 263.4,193.5 263.7,193.4 264.1,193.3 264.4,193.2 264.8,193.1 265.1,193.0 265.5,192.9 265.8,192.8 266.2,192.6 266.5,192.5 266.9,192.4 267.2,192.3 267.6,192.2 267.9,192.1 268.3,192.0 268.6,191.9 269.0,191.8 269.3,191.7 269.7,191.5 270.0,191.4 270.4,191.3 270.7,191.2 271.1,191.1 271.4,191.0 271.8,190.9 272.1,190.8 272.5,190.7 272.8,190.5 273.2,190.4 273.5,190.3 273.9,190.2 274.2,190.1 274.6,190.0 274.9,189.9 275.3,189.7 275.6,189.6 276.0,189.5 276.3,189.4 276.7,189.3 277.0,189.2 277.4,189.0 277.7,188.9 278.1,188.8 278.4,188.7 278.8,188.6 279.1,188.5 279.5,188.3 279.8,188.2 280.2,188.1 280.5,188.0 280.9,187.9 281.2,187.7 281.6,187.6 281.9,187.5 282.3,187.4 282.6,187.3 283.0,187.1 283.3,187.0 283.7,186.9 284.0,186.8 284.4,186.6 284.7,186.5 285.1,186.4 285.4,186.3 285.8,186.1 286.1,186.0 286.5,185.9 286.8,185.8 287.2,185.6 287.5,185.5 287.9,185.4 288.2,185.3 288.6,185.1 289.0,185.0 289.3,184.9 289.7,184.7 290.0,184.6 290.4,184.5 290.7,184.4 291.1,184.2 291.4,184.1 291.8,184.0 292.1,183.8 292.5,183.7 292.8,183.6 293.2,183.4 293.5,183.3 293.9,183.2 294.2,183.0 294.6,182.9 294.9,182.8 295.3,182.6 295.6,182.5 296.0,182.4 296.3,182.2 296.7,182.1 297.0,182.0 297.4,181.8 297.7,181.7 298.1,181.5 298.4,181.4 298.8,181.3 299.1,181.1 299.5,181.0 299.8,180.8 300.2,180.7 300.5,180.6 300.9,180.4 301.2,180.3 301.6,180.1 301.9,180.0 302.3,179.8 302.6,179.7 303.0,179.5 303.3,179.4 303.7,179.3 304.0,179.1 304.4,179.0 304.7,178.8 305.1,178.7 305.4,178.5 305.8,178.4 306.1,178.2 306.5,178.1 306.8,177.9 307.2,177.8 307.5,177.6 307.9,177.5 308.2,177.3 308.6,177.1 308.9,177.0 309.3,176.8 309.6,176.7 310.0,176.5 310.3,176.4 310.7,176.2 311.0,176.1 311.4,175.9 311.7,175.7 312.1,175.6 312.4,175.4 312.8,175.3 313.1,175.1 313.5,174.9 313.8,174.8 314.2,174.6 314.5,174.4 314.9,174.3 315.2,174.1 315.6,173.9 315.9,173.8 316.3,173.6 316.6,173.4 317.0,173.3 317.3,173.1 317.7,172.9 318.0,172.8 318.4,172.6 318.7,172.4 319.1,172.2 319.4,172.1 319.8,171.9 320.1,171.7 320.5,171.5 320.8,171.4 321.2,171.2 321.5,171.0 321.9,170.8 322.2,170.6 322.6,170.5 322.9,170.3 323.3,170.1 323.6,169.9 324.0,169.7 324.3,169.5 324.7,169.4 325.0,169.2 325.4,169.0 325.7,168.8 326.1,168.6 326.4,168.4 326.8,168.2 327.1,168.0 327.5,167.8 327.8,167.7 328.2,167.5 328.5,167.3 328.9,167.1 329.2,166.9 329.6,166.7 329.9,166.5 330.3,166.3 330.6,166.1 331.0,165.9 331.4,165.7 331.7,165.5 332.1,165.3 332.4,165.1 332.8,164.8 333.1,164.6 333.5,164.4 333.8,164.2 334.2,164.0 334.5,163.8 334.9,163.6 335.2,163.4 335.6,163.1 335.9,162.9 336.3,162.7 336.6,162.5 337.0,162.3 337.3,162.1 337.7,161.8 338.0,161.6 338.4,161.4 338.7,161.2 339.1,160.9 339.4,160.7 339.8,160.5 340.1,160.2 340.5,160.0 340.8,159.8 341.2,159.5 341.5,159.3 341.9,159.1 342.2,158.8 342.6,158.6 342.9,158.3 343.3,158.1 343.6,157.8 344.0,157.6 344.3,157.4 344.7,157.1 344.9,156.9 345.4,156.6 345.7,156.3 346.1,156.1 346.4,155.8 346.8,155.6 347.1,155.3 347.5,155.0 347.8,154.8 348.2,154.5 348.5,154.3 348.9,154.0 349.2,153.7 349.6,153.4 349.9,153.2 350.3,152.9 350.6,152.6 351.0,152.3 351.3,152.0 351.7,151.8 352.0,151.5 352.4,151.2 352.7,150.9 353.1,150.6 353.4,150.3 353.8,150.0 354.1,149.7 354.5,149.4 354.8,149.1 355.2,148.8 355.5,148.5 355.9,148.2 356.2,147.9 356.6,147.6 356.9,147.2 357.3,146.9 357.6,146.6 358.0,146.3 358.3,146.0 358.7,145.6 359.0,145.3 359.4,145.0 359.7,144.6 360.1,144.3 360.4,143.9 360.8,143.6 361.1,143.2 361.5,142.9 361.8,142.5 362.2,142.2 362.5,141.8 362.9,141.4 363.2,141.1 363.6,140.7 363.9,140.3 364.3,140.0 364.6,139.6 365.0,139.2 365.3,138.8 365.7,138.4 366.0,138.1 366.4,137.6 366.7,137.2 367.1,136.8 367.4,136.4 367.8,136.0 368.1,135.5 368.5,135.1 368.8,134.7 369.2,134.2 369.5,133.8 369.9,133.4 370.2,132.9 370.6,132.4 370.9,132.0 371.3,131.5 371.6,131.0 372.0,130.6 372.3,130.1 372.7,129.6 373.0,129.1 373.4,128.6 373.8,128.1 374.1,127.6 374.5,127.0 374.8,126.5 375.2,126.0 375.5,125.4 375.9,124.9 376.2,124.3 376.6,123.8 376.9,123.2 377.3,122.6 377.6,122.0 378.0,121.4 378.3,120.8 378.7,120.2 378.8,119.8 379.0,119.5 379.4,118.9 379.7,118.2 380.1,117.6 380.4,116.9 380.8,116.2 381.1,115.5 381.5,114.8 381.8,114.0 382.2,113.3 382.5,112.5 382.9,111.8 383.2,111.0 383.6,110.2 383.9,109.3 384.3,108.5 384.5,108.0 384.6,107.6 385.0,106.8 385.3,105.9 385.7,104.9 386.0,104.0 386.4,103.0 386.7,102.1 387.1,101.0 387.4,99.9 387.8,98.8 388.1,97.7 388.5,96.5 388.8,95.3 389.2,94.1 389.5,92.8 389.9,91.5 390.1,90.5 390.2,90.1 390.6,88.7 390.9,87.2 391.3,85.6 391.5,84.7 391.6,84.0 392.0,82.3 392.3,80.5 392.6,78.9 392.7,78.6 393.0,76.6 393.4,74.5 393.6,73.2 393.7,72.2 394.1,69.8 394.4,67.5 394.8,64.5 395.1,61.8 395.1,61.5 395.5,58.2 395.7,56.1 395.8,54.5 396.2,50.4 396.5,45.8 396.6,44.7 396.9,40.5 397.0,39.1 397.2,34.3 397.3,33.4 397.5,27.8 397.6,26.6 397.8,22.1 397.9,16.7 398.1,10.8 398.2,5.2 398.3,2.8 398.3,-0.4 398.4,-6.1 398.5,-11.7 398.6,-17.3 398.6,-20.9 398.7,-22.9 398.7,-26.0" stroke="#ff0000" stroke-width="2.6" stroke-dasharray="2.1 2.55"/>
<path d="M537.4,506.0 537.4,502.5 537.4,496.9 537.4,491.3 537.4,485.6 537.4,480.0 537.4,474.4 537.4,468.8 537.4,463.2 537.4,457.6 537.4,451.9 537.4,446.3 537.4,440.7 537.4,435.1 537.4,429.5 537.4,423.9 537.4,418.2 537.4,412.6 537.4,407.0 537.4,401.4 537.4,395.8 537.5,390.2 537.5,384.6 537.5,379.0 537.5,373.4 537.5,367.8 537.5,362.2 537.5,356.6 537.5,351.0 537.6,345.5 537.6,339.9 537.6,334.4 537.7,328.8 537.7,323.3 537.8,317.8 537.8,312.3 537.9,310.3 537.9,306.8 538.0,301.4 538.1,296.0 538.2,290.6 538.3,287.5 538.4,285.3 538.6,280.0 538.8,274.8 539.0,269.6 539.2,265.6 539.3,264.5 539.6,259.5 539.7,258.8 540.0,254.6 540.1,253.4 540.5,249.8 540.6,248.9 541.0,245.2 541.5,241.9 541.7,240.7 542.0,239.1 542.4,236.6 542.9,234.4 543.3,232.4 543.8,230.6 544.2,228.9 544.4,228.2 544.7,227.4 545.2,226.0 545.6,224.7 546.1,223.6 546.5,222.5 547.0,221.5 547.2,221.1 547.4,220.5 547.9,219.7 548.3,218.9 548.8,218.1 549.3,217.4 549.7,216.7 550.2,216.1 550.6,215.5 551.0,215.1 551.5,214.5 552.0,214.0 552.4,213.6 552.9,213.2 553.4,212.8 553.8,212.4 554.3,212.1 554.7,211.7 555.2,211.4 555.6,211.2 556.1,210.9 556.5,210.6 557.0,210.4 557.5,210.2 557.9,210.0 558.4,209.8 558.8,209.6 559.3,209.5 559.6,209.3 560.2,209.2 560.6,209.0 561.1,208.9 561.6,208.8 562.0,208.7 562.5,208.6 562.9,208.5 563.4,208.5 563.8,208.4 564.3,208.3 564.7,208.3 565.2,208.2 565.7,208.2 566.1,208.2 566.6,208.1 567.0,208.1 567.5,208.1 567.9,208.1 568.3,208.1 568.8,208.1 569.3,208.1 569.8,208.2 570.2,208.2 570.7,208.2 571.1,208.2 571.6,208.3 572.0,208.3 572.5,208.4 572.9,208.4 573.4,208.5 573.8,208.5 574.3,208.6 574.8,208.7 575.2,208.7 575.7,208.8 576.1,208.9 576.6,209.0 577.1,209.0 577.5,209.1 578.0,209.2 578.4,209.3 578.9,209.4 579.3,209.5 579.8,209.6 580.2,209.7 580.7,209.8 581.2,209.9 581.6,210.0 582.1,210.1 582.5,210.2 583.0,210.3 583.4,210.4 583.9,210.5 584.3,210.6 584.8,210.7 585.3,210.9 585.7,211.0 586.2,211.1 586.6,211.2 587.1,211.3 587.5,211.5 588.0,211.6 588.4,211.7 588.9,211.8 589.4,212.0 589.8,212.1 590.3,212.2 590.7,212.3 591.2,212.5 591.6,212.6 592.1,212.7 592.5,212.9 593.0,213.0 593.5,213.1 593.9,213.3 594.4,213.4 594.8,213.5 595.3,213.7 595.7,213.8 596.2,213.9 596.6,214.1 597.0,214.2 597.6,214.3 598.0,214.5 598.5,214.6 598.9,214.8 599.4,214.9 599.8,215.0 600.3,215.2 600.7,215.3 601.2,215.5 601.7,215.6 602.1,215.8 602.6,215.9 603.0,216.0 603.5,216.2 603.9,216.3 604.4,216.5 604.8,216.6 605.3,216.8 605.8,216.9 606.2,217.1 606.7,217.2 607.1,217.4 607.6,217.5 608.0,217.7 608.5,217.8 608.9,218.0 609.4,218.1 609.9,218.3 610.3,218.4 610.8,218.6 611.2,218.7 611.7,218.9 612.1,219.0 612.6,219.2 613.0,219.3 613.5,219.5 614.0,219.6 614.4,219.8 614.9,219.9 615.3,220.1 615.8,220.3 616.2,220.4 616.7,220.6 617.1,220.7 617.6,220.9 618.1,221.1 618.5,221.2 619.0,221.4 619.4,221.5 619.9,221.7 620.3,221.8 620.8,222.0 621.2,222.2 621.7,222.3 622.2,222.5 622.6,222.7 623.1,222.8 623.5,223.0 624.0,223.2 624.4,223.3 624.9,223.5 625.3,223.7 625.8,223.8 626.3,224.0 626.7,224.2 627.2,224.3 627.6,224.5 628.1,224.7 628.5,224.8 629.0,225.0 629.4,225.2 629.9,225.3 630.4,225.5 630.8,225.7 631.3,225.8 631.7,226.0 632.2,226.2 632.6,226.3 633.1,226.5 633.6,226.7 634.0,226.9 634.5,227.0 634.9,227.2 635.4,227.4 635.8,227.5 636.3,227.7 636.7,227.9 637.2,228.0 637.7,228.2 638.1,228.4 638.6,228.5 639.0,228.7 639.5,228.9 639.9,229.1 640.4,229.2 640.8,229.4 641.3,229.6 641.8,229.7 642.2,229.9 642.7,230.1 643.1,230.2 643.6,230.4 644.0,230.6 644.5,230.7 644.9,230.9 645.4,231.1 645.9,231.2 646.3,231.4 646.8,231.6 647.2,231.7 647.7,231.9 648.1,232.1 648.6,232.2 649.0,232.4 649.5,232.6 650.0,232.7 650.4,232.9 650.9,233.1 651.3,233.3 651.8,233.4 652.2,233.6 652.5,233.7 653.1,233.9 653.6,234.1 654.1,234.2 654.5,234.4 655.0,234.6 655.4,234.7 655.9,234.9 656.3,235.1 656.8,235.2 657.2,235.4 657.7,235.6 658.2,235.7 658.6,235.9 659.1,236.1 659.5,236.2 660.0,236.4 660.4,236.6 660.9,236.7 661.3,236.9 661.8,237.1 662.3,237.2 662.7,237.4 663.2,237.5 663.6,237.7 664.1,237.9 664.5,238.0 665.0,238.2 665.4,238.4 665.9,238.5 666.4,238.7 666.8,238.9 667.3,239.0 667.7,239.2 668.2,239.4 668.6,239.5 669.1,239.7 669.5,239.8 670.0,240.0 670.5,240.2 670.9,240.3 671.4,240.5 671.8,240.7 672.3,240.8 672.7,241.0 673.2,241.2 673.6,241.3 674.1,241.5 674.6,241.6 675.0,241.8 675.5,242.0 675.9,242.1 676.4,242.3 676.8,242.5 677.3,242.6 677.7,242.8 678.2,243.0 678.7,243.1 679.1,243.3 679.6,243.4 680.0,243.6 680.5,243.8 680.9,243.9 681.4,244.1 681.8,244.3 682.3,244.4 682.8,244.6 683.2,244.8 683.7,244.9 684.1,245.1 684.6,245.3 685.0,245.4 685.5,245.6 686.0,245.8 686.4,245.9 686.9,246.1 687.3,246.3 687.8,246.4 688.2,246.6 688.7,246.8 689.1,246.9 689.6,247.1 690.1,247.3 690.5,247.5 691.0,247.6 691.4,247.8 691.9,248.0 692.3,248.1 692.8,248.3 693.2,248.5 693.7,248.6 694.2,248.8 694.6,249.0 695.1,249.2 695.5,249.3 696.0,249.5 696.4,249.7 696.9,249.8 697.3,250.0 697.8,250.2 698.3,250.4 698.7,250.5 699.2,250.7 699.6,250.9 700.1,251.1 700.5,251.2 701.0,251.4 701.4,251.6 701.9,251.8 702.4,251.9 702.8,252.1 703.3,252.3 703.7,252.5 704.2,252.6 704.6,252.8 705.1,253.0 705.5,253.2 706.0,253.3 706.5,253.5 706.9,253.7 707.4,253.9 707.8,254.0 708.3,254.2 708.7,254.4 709.2,254.6 709.6,254.7 710.1,254.9 710.6,255.1 711.0,255.3 711.5,255.5 711.9,255.6 712.4,255.8 712.8,256.0 713.3,256.2 713.7,256.4 714.2,256.5 714.7,256.7 715.1,256.9 715.6,257.1 716.0,257.3 716.5,257.4 716.9,257.6 717.4,257.8 717.8,258.0 718.3,258.2 718.8,258.3 719.2,258.5 719.7,258.7 720.1,258.9 720.6,259.1 721.0,259.3 721.5,259.4 721.9,259.6 722.4,259.8 722.9,260.0 723.3,260.2 723.8,260.4 724.2,260.5 724.7,260.7 725.1,260.9 725.6,261.1 726.0,261.3 726.5,261.5 727.0,261.6 727.4,261.8 727.9,262.0 728.3,262.2 728.8,262.4 729.2,262.6 729.7,262.7 730.1,262.9 730.6,263.1 731.1,263.3 731.5,263.5 732.0,263.7 732.4,263.9 732.9,264.1 733.3,264.2 733.8,264.4 734.2,264.6 734.7,264.8 735.2,265.0 735.6,265.2 736.1,265.4 736.5,265.6 737.0,265.7 737.4,265.9 737.9,266.1 738.4,266.3 738.8,266.5 739.3,266.7 739.7,266.9 740.2,267.1 740.6,267.3 741.1,267.4 741.5,267.6 742.0,267.8 742.5,268.0 742.9,268.2 743.4,268.4 743.8,268.6 744.3,268.8 744.7,269.0 745.2,269.2 745.6,269.4 746.1,269.6 746.6,269.7 747.0,269.9 747.5,270.1 747.9,270.3 748.4,270.5 748.8,270.7 749.3,270.9 749.7,271.1 750.2,271.3 750.7,271.5 751.1,271.7 751.6,271.9 752.0,272.1 752.5,272.3 752.9,272.5 753.4,272.7 753.8,272.9 754.3,273.0 754.8,273.2 755.2,273.4 755.7,273.6 756.1,273.8 756.6,274.0 757.0,274.2 757.5,274.4 757.9,274.6 758.4,274.8 758.9,275.0 759.3,275.2 759.8,275.4 760.2,275.6 760.7,275.8 761.1,276.0 761.6,276.2 762.0,276.4 762.5,276.6 763.0,276.8 763.4,277.0 763.9,277.2 764.3,277.4 764.8,277.6 765.2,277.8 765.7,278.0 766.1,278.2 766.6,278.4 767.1,278.6 767.5,278.8 768.0,279.0 768.4,279.2 768.9,279.4 769.3,279.6 769.8,279.8 770.2,280.0 770.7,280.2 771.2,280.4 771.6,280.7 772.1,280.9 772.5,281.1 773.0,281.3 773.4,281.5 773.9,281.7 774.3,281.9 774.8,282.1 775.3,282.3 775.7,282.5 776.2,282.7 776.6,282.9 777.1,283.1 777.5,283.3 778.0,283.6 778.4,283.8 778.9,284.0 779.4,284.2 779.8,284.4 780.3,284.6 780.7,284.8 781.2,285.0 781.6,285.2 782.1,285.5 782.5,285.7 783.0,285.9 783.5,286.1 783.9,286.3 784.4,286.5 784.8,286.7 785.3,287.0 785.7,287.2 786.2,287.4 786.6,287.6 787.1,287.8 787.6,288.0 788.0,288.3 788.5,288.5 788.9,288.7 789.4,288.9 789.8,289.1 790.3,289.4 790.8,289.6 791.2,289.8 791.7,290.0 792.1,290.2 792.6,290.5 793.0,290.7 793.5,290.9 793.9,291.1 794.4,291.4 794.9,291.6 795.3,291.8 795.8,292.0 796.2,292.3 796.7,292.5 797.1,292.7 797.6,292.9 798.0,293.2 798.5,293.4 799.0,293.6 799.4,293.9 799.9,294.1 800.3,294.3 800.8,294.6 801.2,294.8 801.7,295.0 802.1,295.3 802.6,295.5 803.1,295.7 803.5,296.0 803.8,296.1 804.4,296.4 804.9,296.7 805.3,296.9 805.8,297.2 806.2,297.4 806.7,297.6 807.2,297.9 807.6,298.1 808.1,298.4 808.5,298.6 809.0,298.9 809.4,299.1 809.9,299.4 810.3,299.6 810.8,299.8 811.3,300.1 811.7,300.3 812.2,300.6 812.6,300.8 813.1,301.1 813.5,301.4 814.0,301.6 814.4,301.9 814.9,302.1 815.4,302.4 815.8,302.6 816.3,302.9 816.7,303.1 817.2,303.4 817.6,303.7 818.1,303.9 818.5,304.2 819.0,304.4 819.5,304.7 819.9,305.0 820.4,305.2 820.8,305.5 821.3,305.8 821.7,306.0 822.2,306.3 822.6,306.6 823.1,306.8 823.6,307.1 824.0,307.4 824.5,307.7 824.9,307.9 825.4,308.2 825.8,308.5 826.3,308.8 826.7,309.1 827.2,309.3 827.7,309.6 828.1,309.9 828.6,310.2 829.0,310.5 829.5,310.8 829.9,311.0 830.4,311.3 830.8,311.6 831.2,311.8 831.8,312.2 832.2,312.5 832.7,312.8 833.1,313.1 833.6,313.4 834.0,313.7 834.5,314.0 834.9,314.3 835.4,314.6 835.9,314.9 836.3,315.2 836.8,315.5 837.2,315.8 837.7,316.1 838.1,316.5 838.6,316.8 839.0,317.1 839.5,317.4 840.0,317.7 840.4,318.1 840.9,318.4 841.3,318.7 841.8,319.0 842.2,319.4 842.7,319.7 843.2,320.0 843.6,320.4 844.1,320.7 844.5,321.0 845.0,321.4 845.4,321.7 845.9,322.1 846.3,322.4 846.8,322.8 847.3,323.1 847.7,323.5 848.2,323.8 848.6,324.2 849.1,324.5 849.5,324.9 850.0,325.3 850.4,325.6 850.9,326.0 851.4,326.4 851.8,326.7 852.3,327.1 852.7,327.5 853.2,327.9 853.6,328.3 854.1,328.7 854.5,329.1 855.0,329.5 855.5,329.9 855.9,330.3 856.4,330.7 856.8,331.1 857.3,331.5 857.7,331.9 858.2,332.3 858.6,332.7 859.1,333.2 859.6,333.6 860.0,334.0 860.5,334.5 860.9,334.9 861.4,335.4 861.8,335.8 862.3,336.3 862.7,336.7 863.2,337.2 863.7,337.7 864.1,338.1 864.6,338.6 865.0,339.1 865.5,339.6 865.9,340.1 866.4,340.6 866.8,341.1 867.3,341.6 867.8,342.1 868.2,342.6 868.7,343.2 869.1,343.7 869.6,344.3 870.0,344.8 870.5,345.4 870.9,345.9 871.4,346.5 871.9,347.1 872.3,347.7 872.8,348.3 873.2,348.9 873.7,349.5 874.1,350.1 874.6,350.7 875.0,351.4 875.3,351.7 875.5,352.0 876.0,352.7 876.4,353.3 876.9,354.0 877.3,354.7 877.8,355.4 878.2,356.2 878.7,356.9 879.1,357.6 879.6,358.4 880.1,359.2 880.5,360.0 881.0,360.8 881.4,361.6 881.9,362.4 882.3,363.3 882.6,363.8 882.8,364.2 883.2,365.1 883.7,366.0 884.2,366.9 884.6,367.9 885.1,368.9 885.5,369.8 886.0,370.9 886.4,372.0 886.9,373.1 887.3,374.2 887.8,375.4 888.3,376.6 888.7,377.9 889.2,379.2 889.6,380.5 890.0,381.5 890.1,381.9 890.5,383.4 891.0,384.9 891.4,386.4 891.7,387.4 891.9,388.1 892.4,389.8 892.8,391.6 893.2,393.2 893.3,393.5 893.7,395.5 894.2,397.6 894.4,398.9 894.6,399.9 895.1,402.3 895.5,404.7 896.0,407.7 896.4,410.4 896.5,410.7 896.9,414.0 897.2,416.1 897.4,417.7 897.8,421.7 898.3,426.3 898.4,427.5 898.7,431.7 898.9,433.1 899.2,437.9 899.3,438.8 899.6,444.5 899.7,445.6 899.9,450.1 900.1,455.5 900.3,461.4 900.5,467.0 900.6,469.4 900.6,472.7 900.8,478.3 900.9,483.9 901.0,489.6 901.0,493.1 901.0,495.2 901.1,500.8 901.2,506.0" stroke="#ff0000" stroke-width="2.6" stroke-dasharray="2.1 2.55"/>
<path d="M119.0,257.6 119.3,257.6 119.7,257.6 120.0,257.6 120.6,257.5 121.1,257.5 121.5,257.5 122.0,257.5 122.5,257.4 123.2,257.4 123.7,257.3 124.2,257.3 124.7,257.3 125.3,257.2 125.8,257.2 126.3,257.2 126.8,257.1 127.3,257.1 127.9,257.1 128.4,257.0 128.9,257.0 129.4,257.0 130.0,256.9 130.5,256.9 131.0,256.9 131.5,256.8 132.0,256.8 132.6,256.8 133.1,256.7 133.6,256.7 134.1,256.7 134.5,256.6 135.2,256.6 135.7,256.6 136.2,256.5 136.7,256.5 137.3,256.5 137.8,256.4 138.3,256.4 138.8,256.3 139.4,256.3 139.9,256.3 140.4,256.2 140.9,256.2 141.4,256.2 142.0,256.1 142.5,256.1 143.0,256.1 143.5,256.0 144.0,256.0 144.5,256.0 145.1,255.9 145.6,255.9 146.1,255.8 146.7,255.8 147.2,255.8 147.7,255.7 148.2,255.7 148.7,255.7 149.3,255.6 149.8,255.6 150.3,255.5 150.8,255.5 151.4,255.5 151.9,255.4 152.4,255.4 152.9,255.4 153.4,255.3 154.0,255.3 154.4,255.3 155.0,255.2 155.5,255.2 156.1,255.1 156.6,255.1 157.1,255.1 157.6,255.0 158.1,255.0 158.7,254.9 159.2,254.9 159.7,254.9 160.2,254.8 160.7,254.8 161.3,254.8 161.8,254.7 162.3,254.7 162.8,254.6 163.4,254.6 163.9,254.6 164.4,254.5 164.9,254.5 165.4,254.4 166.0,254.4 166.5,254.4 167.0,254.3 167.5,254.3 168.1,254.2 168.6,254.2 169.1,254.2 169.6,254.1 170.1,254.1 170.7,254.0 171.2,254.0 171.7,254.0 172.2,253.9 172.7,253.9 173.3,253.8 173.8,253.8 174.3,253.8 174.8,253.7 175.4,253.7 175.9,253.6 176.4,253.6 176.9,253.5 177.4,253.5 178.0,253.5 178.5,253.4 179.0,253.4 179.5,253.3 180.1,253.3 180.6,253.2 181.1,253.2 181.6,253.2 182.1,253.1 182.7,253.1 183.2,253.0 183.7,253.0 184.2,252.9 184.8,252.9 185.3,252.9 185.8,252.8 186.3,252.8 186.8,252.7 187.3,252.7 187.9,252.6 188.4,252.6 188.9,252.6 189.4,252.5 190.0,252.5 190.5,252.4 191.0,252.4 191.5,252.3 192.1,252.3 192.6,252.3 193.1,252.2 193.6,252.2 194.1,252.1 194.7,252.1 195.2,252.0 195.7,252.0 196.2,251.9 196.8,251.9 197.3,251.9 197.8,251.8 198.3,251.8 198.8,251.7 199.4,251.7 199.9,251.6 200.4,251.6 200.9,251.5 201.5,251.5 202.0,251.4 202.5,251.4 203.0,251.4 203.5,251.3 204.1,251.3 204.6,251.2 205.1,251.2 205.6,251.1 206.1,251.1 206.7,251.0 207.2,251.0 207.7,250.9 208.2,250.9 208.8,250.9 209.3,250.8 209.8,250.8 210.3,250.7 210.8,250.7 211.4,250.6 211.9,250.6 212.4,250.5 212.9,250.5 213.5,250.4 213.9,250.4 214.5,250.3 215.0,250.3 215.5,250.3 216.1,250.2 216.6,250.2 217.1,250.1 217.6,250.1 218.1,250.0 218.7,250.0 219.2,249.9 219.7,249.9 220.2,249.8 220.8,249.8 221.3,249.7 221.8,249.7 222.3,249.6 222.8,249.6 223.4,249.5 223.9,249.5 224.4,249.4 224.9,249.4 225.5,249.4 226.0,249.3 226.5,249.3 227.0,249.2 227.5,249.2 228.1,249.1 228.6,249.1 229.1,249.0 229.6,249.0 230.2,248.9 230.7,248.9 231.2,248.8 231.7,248.8 232.2,248.7 232.8,248.7 233.3,248.6 233.8,248.6 234.3,248.5 234.8,248.5 235.4,248.4 235.9,248.4 236.4,248.3 236.9,248.3 237.5,248.2 238.0,248.2 238.5,248.1 239.0,248.1 239.5,248.0 240.1,248.0 240.6,247.9 241.1,247.9 241.6,247.8 242.2,247.8 242.7,247.7 243.2,247.7 243.7,247.6 244.2,247.6 244.8,247.5 245.3,247.5 245.8,247.4 246.3,247.4 246.9,247.3 247.4,247.3 247.9,247.2 248.4,247.2 248.9,247.1 249.5,247.1 250.0,247.0 250.5,247.0 250.9,247.0 251.5,246.9 252.1,246.8 252.6,246.8 253.1,246.7 253.6,246.7 254.2,246.6 254.7,246.6 255.2,246.5 255.7,246.5 256.2,246.4 256.8,246.4 257.3,246.3 257.8,246.3 258.3,246.2 258.9,246.2 259.4,246.1 259.9,246.1 260.4,246.0 260.9,246.0 261.5,245.9 262.0,245.9 262.5,245.8 263.0,245.8 263.5,245.7 264.1,245.7 264.6,245.6 265.1,245.6 265.6,245.5 266.2,245.5 266.7,245.4 267.2,245.4 267.7,245.3 268.2,245.3 268.8,245.2 269.3,245.2 269.8,245.1 270.3,245.0 270.9,245.0 271.4,244.9 271.9,244.9 272.4,244.8 272.9,244.8 273.5,244.7 274.0,244.7 274.5,244.6 275.0,244.6 275.6,244.5 276.1,244.5 276.6,244.4 277.1,244.4 277.6,244.3 278.2,244.3 278.7,244.2 279.2,244.1 279.7,244.1 280.2,244.0 280.8,244.0 281.3,243.9 281.8,243.9 282.3,243.8 282.9,243.8 283.4,243.7 283.9,243.7 284.4,243.6 284.9,243.6 285.5,243.5 286.0,243.4 286.5,243.4 287.0,243.3 287.6,243.3 288.1,243.2 288.6,243.2 289.1,243.1 289.6,243.1 290.2,243.0 290.7,242.9 291.2,242.9 291.7,242.8 292.3,242.8 292.8,242.7 293.3,242.7 293.8,242.6 294.3,242.5 294.9,242.5 295.4,242.4 295.9,242.4 296.4,242.3 296.9,242.3 297.5,242.2 298.0,242.2 298.5,242.1 299.0,242.0 299.6,242.0 300.1,241.9 300.6,241.9 301.1,241.8 301.6,241.7 302.2,241.7 302.7,241.6 303.2,241.6 303.7,241.5 304.3,241.5 304.8,241.4 305.3,241.3 305.8,241.3 306.3,241.2 306.9,241.2 307.4,241.1 307.9,241.0 308.4,241.0 308.9,240.9 309.5,240.9 310.0,240.8 310.5,240.7 311.0,240.7 311.6,240.6 312.1,240.5 312.6,240.5 313.1,240.4 313.6,240.4 314.2,240.3 314.7,240.2 315.2,240.2 315.7,240.1 316.3,240.1 316.8,240.0 317.3,239.9 317.8,239.9 318.3,239.8 318.9,239.7 319.4,239.7 319.9,239.6 320.4,239.5 321.0,239.5 321.5,239.4 322.0,239.4 322.5,239.3 323.0,239.2 323.6,239.2 324.1,239.1 324.6,239.0 325.1,239.0 325.6,238.9 326.2,238.8 326.7,238.8 327.2,238.7 327.7,238.6 328.3,238.6 328.8,238.5 329.3,238.4 329.8,238.4 330.3,238.3 330.9,238.2 331.4,238.2 331.9,238.1 332.4,238.0 333.0,238.0 333.5,237.9 334.0,237.8 334.5,237.7 335.0,237.7 335.6,237.6 336.1,237.5 336.6,237.5 337.1,237.4 337.7,237.3 338.2,237.3 338.7,237.2 339.2,237.1 339.7,237.1 340.3,237.0 340.8,236.9 341.3,236.8 341.8,236.8 342.3,236.7 342.9,236.6 343.4,236.5 343.9,236.5 344.4,236.4 345.0,236.3 345.5,236.3 346.0,236.2 346.5,236.1 347.0,236.0 347.6,236.0 348.1,235.9 348.6,235.8 349.1,235.7 349.7,235.7 350.2,235.6 350.7,235.5 351.2,235.4 351.7,235.4 352.3,235.3 352.8,235.2 353.3,235.1 353.8,235.1 354.3,235.0 354.9,234.9 355.4,234.8 355.9,234.8 356.4,234.7 357.0,234.6 357.5,234.5 358.0,234.4 358.5,234.4 359.0,234.3 359.6,234.2 360.1,234.1 360.6,234.1 361.1,234.0 361.7,233.9 362.2,233.8 362.7,233.7 363.2,233.7 363.7,233.6 364.3,233.5 364.8,233.4 365.3,233.3 365.8,233.3 366.4,233.2 366.9,233.1 367.4,233.0 367.9,232.9 368.4,232.8 369.0,232.8 369.5,232.7 370.0,232.6 370.5,232.5 371.0,232.4 371.6,232.3 372.1,232.3 372.6,232.2 373.1,232.1 373.7,232.0 374.2,231.9 374.7,231.8 375.2,231.7 375.7,231.7 376.3,231.6 376.8,231.5 377.3,231.4 377.8,231.3 378.4,231.2 378.9,231.1 379.4,231.0 379.9,231.0 380.4,230.9 381.0,230.8 381.5,230.7 382.0,230.6 382.5,230.5 383.1,230.4 383.6,230.3 384.1,230.2 384.6,230.1 385.1,230.1 385.7,230.0 386.2,229.9 386.7,229.8 387.2,229.7 387.7,229.6 388.3,229.5 388.8,229.4 389.3,229.3 389.8,229.2 390.4,229.1 390.9,229.0 391.4,228.9 391.9,228.8 392.4,228.7 393.0,228.6 393.5,228.5 394.0,228.4 394.5,228.3 395.1,228.2 395.6,228.1 396.1,228.0 396.6,227.9 397.1,227.8 397.7,227.7 398.2,227.6 398.7,227.5 399.2,227.4 399.7,227.3 400.3,227.2 400.8,227.1 401.3,227.0 401.8,226.8 402.4,226.7 402.9,226.6 403.4,226.5 403.9,226.4 404.4,226.3 405.0,226.2 405.5,226.1 406.0,226.0 406.5,225.8 407.1,225.7 407.6,225.6 408.1,225.5 408.6,225.4 409.1,225.3 409.7,225.1 410.2,225.0 410.7,224.9 411.2,224.8 411.8,224.6 412.3,224.5 412.8,224.4 413.3,224.3 413.8,224.1 414.4,224.0 414.9,223.9 415.4,223.8 415.9,223.6 416.4,223.5 417.0,223.4 417.5,223.2 418.0,223.1 418.5,223.0 419.1,222.8 419.6,222.7 420.1,222.6 420.6,222.4 421.1,222.3 421.7,222.1 422.2,222.0 422.7,221.8 423.2,221.7 423.8,221.6 424.1,221.5 424.8,221.3 425.3,221.1 425.8,221.0 426.4,220.8 426.9,220.6 427.4,220.5 427.9,220.3 428.5,220.2 429.0,220.0 429.5,219.9 430.0,219.7 430.5,219.5 431.1,219.4 431.6,219.2 432.1,219.0 432.6,218.9 433.1,218.7 433.7,218.5 434.2,218.3 434.7,218.2 435.2,218.0 435.8,217.8 436.3,217.6 436.8,217.4 437.3,217.2 437.8,217.1 438.4,216.9 438.9,216.7 439.4,216.5 439.9,216.3 440.5,216.1 441.0,215.9 441.5,215.7 442.0,215.5 442.5,215.3 443.1,215.1 443.6,214.9 444.1,214.7 444.6,214.5 445.1,214.3 445.7,214.1 446.2,213.9 446.7,213.7 447.2,213.5 447.8,213.2 448.3,213.0 448.8,212.8 449.3,212.6 449.8,212.4 450.4,212.2 450.9,211.9 451.4,211.7 451.9,211.5 452.5,211.3 453.0,211.0 453.5,210.8 454.0,210.6 454.5,210.4 455.1,210.1 455.4,210.0 456.1,209.7 456.6,209.5 457.2,209.2 457.7,209.0 458.2,208.8 458.7,208.5 459.2,208.3 459.8,208.0 460.3,207.8 460.8,207.6 461.3,207.3 461.8,207.1 462.4,206.8 462.9,206.6 463.4,206.3 463.9,206.1 464.5,205.8 465.0,205.6 465.5,205.3 466.0,205.1 466.5,204.8 467.1,204.6 467.6,204.3 468.1,204.1 468.6,203.8 469.2,203.5 469.7,203.3 470.2,203.0 470.7,202.8 471.2,202.5 471.8,202.2 472.3,202.0 472.8,201.7 473.3,201.4 473.9,201.1 474.4,200.9 474.9,200.6 475.4,200.3 475.9,200.1 476.5,199.8 477.0,199.5 477.5,199.2 478.0,198.9 478.5,198.6 479.1,198.3 479.6,198.0 480.1,197.7 480.6,197.4 481.2,197.1 481.7,196.7 482.2,196.4 482.7,196.1 483.2,195.7 483.8,195.4 484.3,195.0 484.8,194.6 485.3,194.3 485.9,193.9 486.4,193.5 486.8,193.2 487.4,192.7 487.9,192.3 488.5,191.9 489.0,191.4 489.5,191.0 490.0,190.6 490.5,190.1 491.1,189.7 491.6,189.2 492.1,188.8 492.6,188.3 493.2,187.8 493.7,187.3 494.2,186.7 494.7,186.2 495.2,185.6 495.8,185.0 496.3,184.4 496.8,183.8 497.3,183.1 497.9,182.5 498.4,181.8 498.9,181.2 499.4,180.6 499.9,179.9 500.5,179.3 501.0,178.7 501.5,178.0 502.0,177.3 502.6,176.5 503.1,175.7 503.6,174.8 504.1,173.9 504.6,172.9 505.2,171.8 505.7,170.6 505.9,170.0 506.2,169.4 506.7,168.1 507.2,166.7 507.8,165.1 508.3,163.4 508.8,161.6 509.3,159.7 509.9,157.7 510.4,155.3 510.5,154.7 510.9,157.0 511.4,158.3 511.9,159.6 512.5,160.8 513.0,161.8 513.5,162.9 514.0,164.3 514.4,165.4 514.6,166.1 515.1,168.0 515.6,169.9 516.1,171.8 516.6,173.7 517.2,175.5 517.6,177.2 518.2,179.3 518.7,181.2 519.3,183.3 519.8,185.5 520.3,187.8 520.4,188.3 520.8,190.2 521.3,192.6 521.9,195.0 522.4,197.5 522.8,199.3 522.9,200.0 523.4,202.4 523.9,205.0 524.5,207.5 524.8,209.0 525.0,210.2 525.5,212.8 526.0,215.6 526.5,217.8 526.6,218.4 527.1,221.2 527.6,224.2 527.9,226.0 528.1,227.3 528.6,230.6 529.1,233.7 529.2,234.0 529.7,237.7 530.2,241.2 530.2,241.6 530.7,245.7 531.0,248.3 531.3,250.3 531.8,255.2 532.3,260.8 532.4,262.1 532.8,267.0 532.9,268.7 533.3,274.2 533.4,275.1 533.8,281.4 533.9,282.7 534.1,287.6 534.4,293.5 534.6,299.8 534.8,305.8 534.9,308.3 535.0,311.7 535.1,317.6 535.3,323.4 535.4,329.2 535.4,332.9 535.5,335.0 535.5,340.8 535.6,346.5 535.6,352.2 535.7,357.9 535.7,363.6 535.8,369.3 535.8,374.9 535.8,380.6 535.8,386.3 535.9,391.9 535.9,397.5 535.9,403.2 535.9,408.8 535.9,414.5 535.9,420.1 535.9,425.7 535.9,431.3 535.9,437.0 535.9,442.6 535.9,448.2 535.9,453.8 535.9,459.5 535.9,465.1 535.9,470.7 535.9,476.3 535.9,482.0 535.9,487.6 535.9,493.2 535.9,498.8 535.9,504.4 535.9,506.0" stroke="#000" stroke-width="2.6" stroke-linecap="round"/>
<path d="M902.1,-26.0 902.1,506.0" stroke="#000" stroke-width="2.6" stroke-linecap="round"/>
<path d="M119.0,257.1 119.3,257.1 119.7,257.1 120.0,257.0 120.6,257.0 121.1,257.0 121.5,256.9 122.0,256.9 122.5,256.9 123.2,256.8 123.7,256.8 124.2,256.8 124.7,256.7 125.3,256.7 125.8,256.7 126.3,256.6 126.8,256.6 127.3,256.6 127.9,256.5 128.4,256.5 128.9,256.5 129.4,256.4 130.0,256.4 130.5,256.3 131.0,256.3 131.5,256.3 132.0,256.2 132.6,256.2 133.1,256.2 133.6,256.1 134.1,256.1 134.5,256.1 135.2,256.0 135.7,256.0 136.2,256.0 136.7,255.9 137.3,255.9 137.8,255.9 138.3,255.8 138.8,255.8 139.4,255.7 139.9,255.7 140.4,255.7 140.9,255.6 141.4,255.6 142.0,255.6 142.5,255.5 143.0,255.5 143.5,255.5 144.0,255.4 144.5,255.4 145.1,255.4 145.6,255.3 146.1,255.3 146.7,255.2 147.2,255.2 147.7,255.2 148.2,255.1 148.7,255.1 149.3,255.1 149.8,255.0 150.3,255.0 150.8,255.0 151.4,254.9 151.9,254.9 152.4,254.8 152.9,254.8 153.4,254.8 154.0,254.7 154.4,254.7 155.0,254.7 155.5,254.6 156.1,254.6 156.6,254.5 157.1,254.5 157.6,254.5 158.1,254.4 158.7,254.4 159.2,254.4 159.7,254.3 160.2,254.3 160.7,254.2 161.3,254.2 161.8,254.2 162.3,254.1 162.8,254.1 163.4,254.1 163.9,254.0 164.4,254.0 164.9,253.9 165.4,253.9 166.0,253.9 166.5,253.8 167.0,253.8 167.5,253.7 168.1,253.7 168.6,253.7 169.1,253.6 169.6,253.6 170.1,253.6 170.7,253.5 171.2,253.5 171.7,253.4 172.2,253.4 172.7,253.4 173.3,253.3 173.8,253.3 174.3,253.2 174.8,253.2 175.4,253.2 175.9,253.1 176.4,253.1 176.9,253.0 177.4,253.0 178.0,253.0 178.5,252.9 179.0,252.9 179.5,252.8 180.1,252.8 180.6,252.8 181.1,252.7 181.6,252.7 182.1,252.6 182.7,252.6 183.2,252.6 183.7,252.5 184.2,252.5 184.8,252.4 185.3,252.4 185.8,252.4 186.3,252.3 186.8,252.3 187.3,252.2 187.9,252.2 188.4,252.1 188.9,252.1 189.4,252.1 190.0,252.0 190.5,252.0 191.0,251.9 191.5,251.9 192.1,251.9 192.6,251.8 193.1,251.8 193.6,251.7 194.1,251.7 194.7,251.7 195.2,251.6 195.7,251.6 196.2,251.5 196.8,251.5 197.3,251.4 197.8,251.4 198.3,251.4 198.8,251.3 199.4,251.3 199.9,251.2 200.4,251.2 200.9,251.1 201.5,251.1 202.0,251.1 202.5,251.0 203.0,251.0 203.5,250.9 204.1,250.9 204.6,250.8 205.1,250.8 205.6,250.8 206.1,250.7 206.7,250.7 207.2,250.6 207.7,250.6 208.2,250.5 208.8,250.5 209.3,250.4 209.8,250.4 210.3,250.4 210.8,250.3 211.4,250.3 211.9,250.2 212.4,250.2 212.9,250.1 213.5,250.1 213.9,250.1 214.5,250.0 215.0,250.0 215.5,249.9 216.1,249.9 216.6,249.8 217.1,249.8 217.6,249.7 218.1,249.7 218.7,249.6 219.2,249.6 219.7,249.5 220.2,249.5 220.8,249.5 221.3,249.4 221.8,249.4 222.3,249.3 222.8,249.3 223.4,249.2 223.9,249.2 224.4,249.1 224.9,249.1 225.5,249.0 226.0,249.0 226.5,248.9 227.0,248.9 227.5,248.9 228.1,248.8 228.6,248.8 229.1,248.7 229.6,248.7 230.2,248.6 230.7,248.6 231.2,248.5 231.7,248.5 232.2,248.4 232.8,248.4 233.3,248.3 233.8,248.3 234.3,248.2 234.8,248.2 235.4,248.1 235.9,248.1 236.4,248.0 236.9,248.0 237.5,248.0 238.0,247.9 238.5,247.9 239.0,247.8 239.5,247.8 240.1,247.7 240.6,247.7 241.1,247.6 241.6,247.6 242.2,247.5 242.7,247.5 243.2,247.4 243.7,247.4 244.2,247.3 244.8,247.3 245.3,247.2 245.8,247.2 246.3,247.1 246.9,247.1 247.4,247.0 247.9,247.0 248.4,246.9 248.9,246.9 249.5,246.8 250.0,246.8 250.5,246.7 250.9,246.7 251.5,246.6 252.1,246.6 252.6,246.5 253.1,246.5 253.6,246.4 254.2,246.4 254.7,246.3 255.2,246.3 255.7,246.2 256.2,246.2 256.8,246.1 257.3,246.1 257.8,246.0 258.3,245.9 258.9,245.9 259.4,245.8 259.9,245.8 260.4,245.7 260.9,245.7 261.5,245.6 262.0,245.6 262.5,245.5 263.0,245.5 263.5,245.4 264.1,245.4 264.6,245.3 265.1,245.3 265.6,245.2 266.2,245.2 266.7,245.1 267.2,245.0 267.7,245.0 268.2,244.9 268.8,244.9 269.3,244.8 269.8,244.8 270.3,244.7 270.9,244.7 271.4,244.6 271.9,244.6 272.4,244.5 272.9,244.5 273.5,244.4 274.0,244.3 274.5,244.3 275.0,244.2 275.6,244.2 276.1,244.1 276.6,244.1 277.1,244.0 277.6,244.0 278.2,243.9 278.7,243.8 279.2,243.8 279.7,243.7 280.2,243.7 280.8,243.6 281.3,243.6 281.8,243.5 282.3,243.5 282.9,243.4 283.4,243.3 283.9,243.3 284.4,243.2 284.9,243.2 285.5,243.1 286.0,243.1 286.5,243.0 287.0,242.9 287.6,242.9 288.1,242.8 288.6,242.8 289.1,242.7 289.6,242.6 290.2,242.6 290.7,242.5 291.2,242.5 291.7,242.4 292.3,242.4 292.8,242.3 293.3,242.2 293.8,242.2 294.3,242.1 294.9,242.1 295.4,242.0 295.9,241.9 296.4,241.9 296.9,241.8 297.5,241.8 298.0,241.7 298.5,241.6 299.0,241.6 299.6,241.5 300.1,241.5 300.6,241.4 301.1,241.3 301.6,241.3 302.2,241.2 302.7,241.1 303.2,241.1 303.7,241.0 304.3,241.0 304.8,240.9 305.3,240.8 305.8,240.8 306.3,240.7 306.9,240.6 307.4,240.6 307.9,240.5 308.4,240.5 308.9,240.4 309.5,240.3 310.0,240.3 310.5,240.2 311.0,240.1 311.6,240.1 312.1,240.0 312.6,239.9 313.1,239.9 313.6,239.8 314.2,239.8 314.7,239.7 315.2,239.6 315.7,239.6 316.3,239.5 316.8,239.4 317.3,239.4 317.8,239.3 318.3,239.2 318.9,239.2 319.4,239.1 319.9,239.0 320.4,239.0 321.0,238.9 321.5,238.8 322.0,238.8 322.5,238.7 323.0,238.6 323.6,238.6 324.1,238.5 324.6,238.4 325.1,238.3 325.6,238.3 326.2,238.2 326.7,238.1 327.2,238.1 327.7,238.0 328.3,237.9 328.8,237.9 329.3,237.8 329.8,237.7 330.3,237.6 330.9,237.6 331.4,237.5 331.9,237.4 332.4,237.4 333.0,237.3 333.5,237.2 334.0,237.1 334.5,237.1 335.0,237.0 335.6,236.9 336.1,236.9 336.6,236.8 337.1,236.7 337.7,236.6 338.2,236.6 338.7,236.5 339.2,236.4 339.7,236.3 340.3,236.3 340.8,236.2 341.3,236.1 341.8,236.0 342.3,236.0 342.9,235.9 343.4,235.8 343.9,235.7 344.4,235.6 345.0,235.6 345.5,235.5 346.0,235.4 346.5,235.3 347.0,235.3 347.6,235.2 348.1,235.1 348.6,235.0 349.1,234.9 349.7,234.9 350.2,234.8 350.7,234.7 351.2,234.6 351.7,234.5 352.3,234.5 352.8,234.4 353.3,234.3 353.8,234.2 354.3,234.1 354.9,234.1 355.4,234.0 355.9,233.9 356.4,233.8 357.0,233.7 357.5,233.6 358.0,233.6 358.5,233.5 359.0,233.4 359.6,233.3 360.1,233.2 360.6,233.1 361.1,233.1 361.7,233.0 362.2,232.9 362.7,232.8 363.2,232.7 363.7,232.6 364.3,232.5 364.8,232.5 365.3,232.4 365.8,232.3 366.4,232.2 366.9,232.1 367.4,232.0 367.9,231.9 368.4,231.8 369.0,231.8 369.5,231.7 370.0,231.6 370.5,231.5 371.0,231.4 371.6,231.3 372.1,231.2 372.6,231.1 373.1,231.0 373.7,231.0 374.2,230.9 374.7,230.8 375.2,230.7 375.7,230.6 376.3,230.5 376.8,230.4 377.3,230.3 377.8,230.2 378.4,230.1 378.9,230.0 379.4,230.0 379.9,229.9 380.4,229.8 381.0,229.7 381.5,229.6 382.0,229.5 382.5,229.4 383.1,229.3 383.6,229.2 384.1,229.1 384.6,229.0 385.1,228.9 385.7,228.8 386.2,228.7 386.7,228.6 387.2,228.5 387.7,228.5 388.3,228.4 388.8,228.3 389.3,228.2 389.8,228.1 390.4,228.0 390.9,227.9 391.4,227.8 391.9,227.7 392.4,227.6 393.0,227.5 393.5,227.4 394.0,227.3 394.5,227.2 395.1,227.1 395.6,227.0 396.1,226.9 396.6,226.8 397.1,226.7 397.7,226.6 398.2,226.5 398.7,226.4 399.2,226.3 399.7,226.2 400.3,226.1 400.8,226.0 401.3,225.9 401.8,225.8 402.4,225.7 402.9,225.6 403.4,225.5 403.9,225.4 404.4,225.3 405.0,225.2 405.5,225.1 406.0,225.0 406.5,224.9 407.1,224.8 407.6,224.7 408.1,224.5 408.6,224.4 409.1,224.3 409.7,224.2 410.2,224.1 410.7,224.0 411.2,223.9 411.8,223.8 412.3,223.7 412.8,223.6 413.3,223.5 413.8,223.4 414.4,223.2 414.9,223.1 415.4,223.0 415.9,222.9 416.4,222.8 417.0,222.7 417.5,222.6 418.0,222.5 418.5,222.3 419.1,222.2 419.6,222.1 420.1,222.0 420.6,221.9 421.1,221.8 421.7,221.6 422.2,221.5 422.7,221.4 423.2,221.3 423.8,221.2 424.1,221.1 424.8,220.9 425.3,220.8 425.8,220.7 426.4,220.5 426.9,220.4 427.4,220.3 427.9,220.2 428.5,220.0 429.0,219.9 429.5,219.8 430.0,219.6 430.5,219.5 431.1,219.4 431.6,219.2 432.1,219.1 432.6,219.0 433.1,218.8 433.7,218.7 434.2,218.5 434.7,218.4 435.2,218.3 435.8,218.1 436.3,218.0 436.8,217.8 437.3,217.7 437.8,217.5 438.4,217.4 438.9,217.2 439.4,217.1 439.9,216.9 440.5,216.8 441.0,216.6 441.5,216.4 442.0,216.3 442.5,216.1 443.1,216.0 443.6,215.8 444.1,215.6 444.6,215.5 445.1,215.3 445.7,215.1 446.2,215.0 446.7,214.8 447.2,214.6 447.8,214.5 448.3,214.3 448.8,214.1 449.3,213.9 449.8,213.8 450.4,213.6 450.9,213.4 451.4,213.2 451.9,213.0 452.5,212.9 453.0,212.7 453.5,212.5 454.0,212.3 454.5,212.1 455.1,211.9 455.4,211.8 456.1,211.6 456.6,211.4 457.2,211.2 457.7,211.0 458.2,210.8 458.7,210.6 459.2,210.4 459.8,210.2 460.3,210.0 460.8,209.8 461.3,209.6 461.8,209.4 462.4,209.2 462.9,209.0 463.4,208.7 463.9,208.5 464.5,208.3 465.0,208.1 465.5,207.9 466.0,207.7 466.5,207.4 467.1,207.2 467.6,207.0 468.1,206.8 468.6,206.5 469.2,206.3 469.7,206.1 470.2,205.8 470.7,205.6 471.2,205.4 471.8,205.1 472.3,204.9 472.8,204.6 473.3,204.4 473.9,204.2 474.4,203.9 474.9,203.7 475.4,203.4 475.9,203.2 476.5,202.9 477.0,202.6 477.5,202.4 478.0,202.1 478.5,201.8 479.1,201.6 479.6,201.3 480.1,201.0 480.6,200.7 481.2,200.4 481.7,200.1 482.2,199.8 482.7,199.4 483.2,199.1 483.8,198.8 484.3,198.4 484.8,198.1 485.3,197.7 485.9,197.4 486.4,197.0 486.8,196.7 487.4,196.2 487.9,195.8 488.5,195.4 489.0,195.0 489.5,194.6 490.0,194.1 490.5,193.7 491.1,193.3 491.6,192.8 492.1,192.4 492.6,191.9 493.2,191.4 493.7,190.9 494.2,190.4 494.7,189.8 495.2,189.3 495.8,188.7 496.3,188.1 496.8,187.5 497.3,186.8 497.9,186.2 498.4,185.5 498.9,184.9 499.4,184.3 499.9,183.6 500.5,183.0 501.0,182.4 501.5,181.7 502.0,181.0 502.6,180.2 503.1,179.4 503.6,178.5 504.1,177.6 504.6,176.6 505.2,175.5 505.7,174.4 505.9,173.8 506.2,173.2 506.7,171.9 507.2,170.5 507.8,168.9 508.3,167.2 508.8,165.4 509.3,163.5 509.9,161.5 510.4,159.1 510.5,158.5 510.9,157.4 511.4,158.7 511.9,159.9 512.5,161.1 513.0,162.2 513.5,163.2 514.0,164.7 514.4,165.7 514.6,166.4 515.1,168.3 515.6,170.2 516.1,172.1 516.6,174.0 517.2,175.9 517.6,177.5 518.2,179.6 518.7,181.5 519.3,183.6 519.8,185.8 520.3,188.1 520.4,188.6 520.8,190.5 521.3,192.9 521.9,195.3 522.4,197.7 522.8,199.5 522.9,200.2 523.4,202.7 523.9,205.2 524.5,207.8 524.8,209.3 525.0,210.4 525.5,213.1 526.0,215.8 526.5,218.0 526.6,218.6 527.1,221.4 527.6,224.4 527.9,226.2 528.1,227.5 528.6,230.8 529.1,233.9 529.2,234.2 529.7,237.9 530.2,241.3 530.2,241.7 530.7,245.9 531.0,248.5 531.3,250.4 531.8,255.4 532.3,260.9 532.4,262.2 532.8,267.1 532.9,268.8 533.3,274.3 533.4,275.2 533.8,281.6 533.9,282.8 534.1,287.8 534.4,293.6 534.6,299.9 534.8,305.9 534.9,308.4 535.0,311.8 535.1,317.7 535.3,323.5 535.4,329.3 535.4,333.0 535.5,335.1 535.5,340.9 535.6,346.6 535.6,352.3 535.7,358.0 535.7,363.7 535.8,369.4 535.8,375.0 535.8,380.7 535.8,386.3 535.9,392.0 535.9,397.6 535.9,403.3 535.9,408.9 535.9,414.5 535.9,420.2 535.9,425.8 535.9,431.4 535.9,437.1 535.9,442.7 535.9,448.3 535.9,453.9 535.9,459.6 535.9,465.2 535.9,470.8 535.9,476.4 535.9,482.0 535.9,487.7 535.9,493.3 535.9,498.9 535.9,504.5 535.9,506.0" stroke="#000" stroke-width="2.6" stroke-dasharray="9 9.5"/>
<path d="M882.3,-26.0 882.3,-23.2 882.3,-17.5 882.3,-11.9 882.3,-6.3 882.3,-0.7 882.3,4.9 882.3,10.6 882.3,16.2 882.3,21.8 882.3,23.9 882.3,27.4 882.3,33.1 882.3,38.7 882.3,44.3 882.3,47.6 882.3,50.0 882.3,55.6 882.4,61.2 882.4,66.9 882.4,71.4 882.4,72.5 882.4,78.2 882.4,79.0 882.4,83.8 882.4,85.3 882.4,89.5 882.5,90.6 882.5,95.2 882.5,99.3 882.5,100.9 882.5,102.9 882.5,106.2 882.5,106.6 882.6,109.3 882.6,112.0 882.6,114.6 882.6,117.0 882.7,118.0 882.7,119.3 882.7,121.4 882.7,123.4 882.7,123.7 882.7,125.3 882.8,127.1 882.8,128.8 882.8,129.5 882.8,130.4 882.8,132.0 882.9,133.5 882.9,134.9 882.9,135.3 882.9,136.3 882.9,137.6 883.0,138.9 883.0,140.2 883.0,141.1 883.0,142.5 883.1,143.7 883.1,144.8 883.1,145.8 883.1,146.9 883.1,147.9 883.2,148.9 883.2,149.8 883.2,150.8 883.2,151.7 883.3,152.6 883.3,152.9 883.3,153.4 883.3,154.3 883.3,155.1 883.4,155.9 883.4,156.7 883.4,157.5 883.4,158.3 883.5,158.9 883.5,159.8 883.5,160.5 883.5,161.2 883.6,161.9 883.6,162.6 883.6,163.3 883.6,163.9 883.7,164.6 883.7,164.9 883.7,165.2 883.7,165.8 883.7,166.5 883.7,167.1 883.8,167.7 883.8,168.3 883.8,168.9 883.8,169.4 883.9,170.0 883.9,170.6 883.9,171.0 883.9,171.7 884.0,172.2 884.0,172.7 884.0,173.3 884.0,173.8 884.1,174.3 884.1,174.8 884.1,175.3 884.1,175.8 884.2,176.3 884.2,176.8 884.2,177.2 884.2,177.7 884.3,178.2 884.3,178.7 884.3,179.1 884.3,179.6 884.3,180.0 884.4,180.5 884.4,180.9 884.4,181.3 884.4,181.8 884.5,182.2 884.5,182.6 884.5,183.0 884.5,183.5 884.6,183.9 884.6,184.3 884.6,184.7 884.6,185.1 884.7,185.5 884.7,185.9 884.7,186.3 884.7,186.7 884.8,187.0 884.8,187.4 884.8,187.8 884.8,188.2 884.9,188.5 884.9,188.9 884.9,189.3 884.9,189.6 884.9,190.0 885.0,190.4 885.0,190.7 885.0,191.1 885.0,191.4 885.1,191.8 885.1,192.1 885.1,192.4 885.1,192.8 885.2,193.1 885.2,193.5 885.2,193.8 885.2,194.1 885.3,194.5 885.3,194.8 885.3,195.1 885.3,195.4 885.4,195.7 885.4,196.1 885.4,196.4 885.4,196.7 885.5,197.0 885.5,197.3 885.5,197.6 885.5,197.9 885.5,198.2 885.6,198.5 885.6,198.8 885.6,199.1 885.7,199.7 885.7,200.3 885.8,200.9 885.8,201.5 885.9,202.1 885.9,202.6 886.0,203.2 886.0,203.5 886.0,204.0 886.1,204.5 886.1,205.1 886.2,205.6 886.2,206.2 886.3,206.7 886.3,207.2 886.4,207.7 886.4,208.2 886.5,208.7 886.5,209.2 886.6,209.7 886.6,210.2 886.6,210.7 886.7,211.2 886.7,211.7 886.8,212.2 886.8,212.6 886.9,213.1 886.9,213.6 887.0,214.1 887.0,214.5 887.1,215.0 887.1,215.4 887.2,215.9 887.2,216.3 887.3,216.8 887.3,217.2 887.4,217.7 887.4,218.1 887.5,218.6 887.5,219.0 887.6,219.4 887.6,219.9 887.7,220.3 887.7,220.7 887.8,221.1 887.8,221.6 887.9,222.0 887.9,222.4 888.0,222.8 888.0,223.2 888.0,223.6 888.1,224.0 888.1,224.4 888.2,224.9 888.2,225.3 888.3,225.7 888.3,226.1 888.4,226.5 888.4,226.9 888.5,227.2 888.5,227.6 888.6,228.0 888.6,228.4 888.7,228.8 888.7,229.2 888.8,229.6 888.8,230.0 888.9,230.4 888.9,230.7 889.0,231.1 889.0,231.5 889.1,231.9 889.1,232.2 889.2,232.6 889.2,233.0 889.2,233.4 889.3,233.7 889.3,234.1 889.4,234.5 889.4,234.9 889.5,235.2 889.5,235.6 889.6,236.0 889.6,236.3 889.7,236.7 889.7,237.0 889.8,237.4 889.8,237.8 889.9,238.1 889.9,238.5 890.0,238.9 890.0,239.2 890.1,239.6 890.1,239.9 890.2,240.3 890.2,240.6 890.3,241.0 890.3,241.3 890.4,241.7 890.4,242.1 890.4,242.4 890.5,242.8 890.5,243.1 890.6,243.5 890.6,243.8 890.7,244.2 890.7,244.5 890.8,244.9 890.8,245.2 890.9,245.6 890.9,245.9 891.0,246.3 891.0,246.6 891.1,247.0 891.1,247.3 891.2,247.7 891.2,248.0 891.3,248.3 891.3,248.7 891.4,249.0 891.4,249.4 891.5,249.7 891.5,250.1 891.6,250.4 891.6,250.8 891.6,251.1 891.7,251.5 891.7,251.8 891.8,252.1 891.8,252.5 891.9,252.8 891.9,253.2 892.0,253.5 892.0,253.9 892.1,254.2 892.1,254.6 892.2,254.9 892.2,255.3 892.3,255.6 892.3,255.9 892.4,256.3 892.4,256.6 892.5,257.0 892.5,257.3 892.6,257.7 892.6,258.0 892.7,258.4 892.7,258.7 892.8,259.1 892.8,259.4 892.9,259.8 892.9,260.1 892.9,260.5 893.0,260.8 893.0,261.2 893.1,261.5 893.1,261.9 893.2,262.2 893.2,262.6 893.3,262.9 893.3,263.3 893.4,263.6 893.4,264.0 893.5,264.3 893.5,264.7 893.6,265.0 893.6,265.4 893.7,265.8 893.7,266.1 893.8,266.5 893.8,266.8 893.9,267.2 893.9,267.5 894.0,267.9 894.0,268.3 894.1,268.6 894.1,269.0 894.1,269.4 894.2,269.7 894.2,270.1 894.3,270.5 894.3,270.8 894.4,271.2 894.4,271.6 894.5,271.9 894.5,272.3 894.6,272.7 894.6,273.1 894.7,273.4 894.7,273.8 894.8,274.2 894.8,274.6 894.9,275.0 894.9,275.3 895.0,275.7 895.0,276.1 895.1,276.5 895.1,276.9 895.2,277.3 895.2,277.7 895.3,278.1 895.3,278.5 895.3,278.8 895.4,279.2 895.4,279.6 895.5,280.0 895.5,280.4 895.6,280.9 895.6,281.3 895.7,281.7 895.7,282.1 895.8,282.5 895.8,282.9 895.9,283.3 895.9,283.7 896.0,284.2 896.0,284.6 896.1,285.0 896.1,285.4 896.2,285.9 896.2,286.3 896.3,286.7 896.3,287.2 896.4,287.6 896.4,288.0 896.5,288.5 896.5,288.9 896.5,289.4 896.6,289.8 896.6,290.3 896.7,290.7 896.7,291.2 896.8,291.7 896.8,292.1 896.9,292.6 896.9,293.1 897.0,293.6 897.0,294.0 897.1,294.5 897.1,295.0 897.2,295.5 897.2,296.0 897.3,296.5 897.3,297.0 897.4,297.5 897.4,298.0 897.5,298.6 897.5,299.1 897.6,299.6 897.6,300.1 897.7,300.7 897.7,301.2 897.8,301.8 897.8,302.3 897.8,302.9 897.9,303.4 897.9,304.0 898.0,304.6 898.0,305.2 898.1,305.8 898.1,306.3 898.2,306.6 898.2,306.9 898.2,307.3 898.2,307.6 898.3,307.9 898.3,308.2 898.3,308.5 898.3,308.8 898.4,309.1 898.4,309.4 898.4,309.7 898.4,310.1 898.4,310.4 898.5,310.7 898.5,311.0 898.5,311.4 898.5,311.7 898.6,312.0 898.6,312.4 898.6,312.7 898.6,313.0 898.7,313.4 898.7,313.7 898.7,314.1 898.7,314.4 898.8,314.8 898.8,315.1 898.8,315.5 898.8,315.9 898.9,316.2 898.9,316.6 898.9,317.0 898.9,317.3 899.0,317.7 899.0,318.1 899.0,318.5 899.0,318.8 899.0,319.2 899.1,319.6 899.1,320.0 899.1,320.4 899.1,320.8 899.2,321.2 899.2,321.6 899.2,322.0 899.2,322.4 899.3,322.9 899.3,323.3 899.3,323.7 899.3,324.1 899.4,324.6 899.4,325.0 899.4,325.5 899.4,325.9 899.5,326.4 899.5,326.8 899.5,327.3 899.5,327.8 899.6,328.2 899.6,328.7 899.6,329.2 899.6,329.7 899.6,330.2 899.7,330.7 899.7,331.2 899.7,331.7 899.7,332.2 899.8,332.7 899.8,333.3 899.8,333.8 899.8,334.4 899.9,334.9 899.9,335.5 899.9,336.1 899.9,336.6 900.0,337.2 900.0,337.8 900.0,338.4 900.0,339.0 900.1,339.6 900.1,340.3 900.1,340.6 900.1,340.9 900.1,341.6 900.2,342.2 900.2,342.9 900.2,343.6 900.2,344.3 900.2,345.0 900.3,345.7 900.3,346.5 900.3,347.2 900.3,348.0 900.4,348.8 900.4,349.6 900.4,350.4 900.4,351.2 900.5,352.1 900.5,352.6 900.5,352.9 900.5,353.8 900.5,354.7 900.6,355.7 900.6,356.6 900.6,357.6 900.6,358.5 900.7,359.6 900.7,360.7 900.7,361.8 900.7,362.9 900.8,364.1 900.8,365.3 900.8,366.6 900.8,367.8 900.8,369.2 900.9,370.2 900.9,370.6 900.9,372.0 900.9,373.5 900.9,375.1 901.0,376.0 901.0,376.7 901.0,378.4 901.0,380.2 901.0,381.8 901.0,382.1 901.1,384.1 901.1,386.2 901.1,387.5 901.1,388.5 901.1,390.9 901.2,393.2 901.2,396.2 901.2,398.9 901.2,399.2 901.2,402.5 901.2,404.6 901.3,406.2 901.3,410.3 901.3,414.9 901.3,416.0 901.3,420.2 901.3,421.6 901.4,426.5 901.4,427.3 901.4,433.0 901.4,434.1 901.4,438.6 901.4,444.0 901.4,449.9 901.4,455.5 901.4,457.9 901.4,461.1 901.4,466.8 901.4,472.4 901.4,478.0 901.4,481.6 901.5,483.7 901.5,489.3 901.5,494.9 901.5,500.5 901.5,506.0" stroke="#000" stroke-width="2.6" stroke-dasharray="9 9.5" stroke-dashoffset="6.45"/>
<path d="M119.0,254.1 119.3,254.1 119.7,254.1 120.0,254.0 120.6,254.0 121.1,254.0 121.5,253.9 122.0,253.9 122.5,253.9 123.2,253.8 123.7,253.8 124.2,253.8 124.7,253.7 125.3,253.7 125.8,253.6 126.3,253.6 126.8,253.6 127.3,253.5 127.9,253.5 128.4,253.5 128.9,253.4 129.4,253.4 130.0,253.4 130.5,253.3 131.0,253.3 131.5,253.2 132.0,253.2 132.6,253.2 133.1,253.1 133.6,253.1 134.1,253.1 134.5,253.0 135.2,253.0 135.7,253.0 136.2,252.9 136.7,252.9 137.3,252.8 137.8,252.8 138.3,252.8 138.8,252.7 139.4,252.7 139.9,252.7 140.4,252.6 140.9,252.6 141.4,252.5 142.0,252.5 142.5,252.5 143.0,252.4 143.5,252.4 144.0,252.4 144.5,252.3 145.1,252.3 145.6,252.2 146.1,252.2 146.7,252.2 147.2,252.1 147.7,252.1 148.2,252.1 148.7,252.0 149.3,252.0 149.8,251.9 150.3,251.9 150.8,251.9 151.4,251.8 151.9,251.8 152.4,251.8 152.9,251.7 153.4,251.7 154.0,251.6 154.4,251.6 155.0,251.6 155.5,251.5 156.1,251.5 156.6,251.4 157.1,251.4 157.6,251.4 158.1,251.3 158.7,251.3 159.2,251.2 159.7,251.2 160.2,251.2 160.7,251.1 161.3,251.1 161.8,251.0 162.3,251.0 162.8,251.0 163.4,250.9 163.9,250.9 164.4,250.9 164.9,250.8 165.4,250.8 166.0,250.7 166.5,250.7 167.0,250.7 167.5,250.6 168.1,250.6 168.6,250.5 169.1,250.5 169.6,250.5 170.1,250.4 170.7,250.4 171.2,250.3 171.7,250.3 172.2,250.2 172.7,250.2 173.3,250.2 173.8,250.1 174.3,250.1 174.8,250.0 175.4,250.0 175.9,250.0 176.4,249.9 176.9,249.9 177.4,249.8 178.0,249.8 178.5,249.8 179.0,249.7 179.5,249.7 180.1,249.6 180.6,249.6 181.1,249.5 181.6,249.5 182.1,249.5 182.7,249.4 183.2,249.4 183.7,249.3 184.2,249.3 184.8,249.2 185.3,249.2 185.8,249.2 186.3,249.1 186.8,249.1 187.3,249.0 187.9,249.0 188.4,248.9 188.9,248.9 189.4,248.9 190.0,248.8 190.5,248.8 191.0,248.7 191.5,248.7 192.1,248.6 192.6,248.6 193.1,248.6 193.6,248.5 194.1,248.5 194.7,248.4 195.2,248.4 195.7,248.3 196.2,248.3 196.8,248.2 197.3,248.2 197.8,248.2 198.3,248.1 198.8,248.1 199.4,248.0 199.9,248.0 200.4,247.9 200.9,247.9 201.5,247.8 202.0,247.8 202.5,247.7 203.0,247.7 203.5,247.7 204.1,247.6 204.6,247.6 205.1,247.5 205.6,247.5 206.1,247.4 206.7,247.4 207.2,247.3 207.7,247.3 208.2,247.2 208.8,247.2 209.3,247.2 209.8,247.1 210.3,247.1 210.8,247.0 211.4,247.0 211.9,246.9 212.4,246.9 212.9,246.8 213.5,246.8 213.9,246.7 214.5,246.7 215.0,246.6 215.5,246.6 216.1,246.5 216.6,246.5 217.1,246.4 217.6,246.4 218.1,246.4 218.7,246.3 219.2,246.3 219.7,246.2 220.2,246.2 220.8,246.1 221.3,246.1 221.8,246.0 222.3,246.0 222.8,245.9 223.4,245.9 223.9,245.8 224.4,245.8 224.9,245.7 225.5,245.7 226.0,245.6 226.5,245.6 227.0,245.5 227.5,245.5 228.1,245.4 228.6,245.4 229.1,245.3 229.6,245.3 230.2,245.2 230.7,245.2 231.2,245.1 231.7,245.1 232.2,245.0 232.8,245.0 233.3,244.9 233.8,244.9 234.3,244.8 234.8,244.8 235.4,244.7 235.9,244.7 236.4,244.6 236.9,244.6 237.5,244.5 238.0,244.5 238.5,244.4 239.0,244.4 239.5,244.3 240.1,244.3 240.6,244.2 241.1,244.2 241.6,244.1 242.2,244.1 242.7,244.0 243.2,244.0 243.7,243.9 244.2,243.9 244.8,243.8 245.3,243.8 245.8,243.7 246.3,243.7 246.9,243.6 247.4,243.6 247.9,243.5 248.4,243.5 248.9,243.4 249.5,243.4 250.0,243.3 250.5,243.3 250.9,243.2 251.5,243.2 252.1,243.1 252.6,243.0 253.1,243.0 253.6,242.9 254.2,242.9 254.7,242.8 255.2,242.8 255.7,242.7 256.2,242.7 256.8,242.6 257.3,242.6 257.8,242.5 258.3,242.5 258.9,242.4 259.4,242.4 259.9,242.3 260.4,242.2 260.9,242.2 261.5,242.1 262.0,242.1 262.5,242.0 263.0,242.0 263.5,241.9 264.1,241.9 264.6,241.8 265.1,241.8 265.6,241.7 266.2,241.6 266.7,241.6 267.2,241.5 267.7,241.5 268.2,241.4 268.8,241.4 269.3,241.3 269.8,241.3 270.3,241.2 270.9,241.1 271.4,241.1 271.9,241.0 272.4,241.0 272.9,240.9 273.5,240.9 274.0,240.8 274.5,240.8 275.0,240.7 275.6,240.6 276.1,240.6 276.6,240.5 277.1,240.5 277.6,240.4 278.2,240.4 278.7,240.3 279.2,240.2 279.7,240.2 280.2,240.1 280.8,240.1 281.3,240.0 281.8,239.9 282.3,239.9 282.9,239.8 283.4,239.8 283.9,239.7 284.4,239.7 284.9,239.6 285.5,239.5 286.0,239.5 286.5,239.4 287.0,239.4 287.6,239.3 288.1,239.2 288.6,239.2 289.1,239.1 289.6,239.1 290.2,239.0 290.7,238.9 291.2,238.9 291.7,238.8 292.3,238.8 292.8,238.7 293.3,238.6 293.8,238.6 294.3,238.5 294.9,238.4 295.4,238.4 295.9,238.3 296.4,238.3 296.9,238.2 297.5,238.1 298.0,238.1 298.5,238.0 299.0,238.0 299.6,237.9 300.1,237.8 300.6,237.8 301.1,237.7 301.6,237.6 302.2,237.6 302.7,237.5 303.2,237.4 303.7,237.4 304.3,237.3 304.8,237.3 305.3,237.2 305.8,237.1 306.3,237.1 306.9,237.0 307.4,236.9 307.9,236.9 308.4,236.8 308.9,236.7 309.5,236.7 310.0,236.6 310.5,236.5 311.0,236.5 311.6,236.4 312.1,236.3 312.6,236.3 313.1,236.2 313.6,236.1 314.2,236.1 314.7,236.0 315.2,235.9 315.7,235.9 316.3,235.8 316.8,235.7 317.3,235.7 317.8,235.6 318.3,235.5 318.9,235.4 319.4,235.4 319.9,235.3 320.4,235.2 321.0,235.2 321.5,235.1 322.0,235.0 322.5,235.0 323.0,234.9 323.6,234.8 324.1,234.7 324.6,234.7 325.1,234.6 325.6,234.5 326.2,234.4 326.7,234.4 327.2,234.3 327.7,234.2 328.3,234.2 328.8,234.1 329.3,234.0 329.8,233.9 330.3,233.9 330.9,233.8 331.4,233.7 331.9,233.6 332.4,233.6 333.0,233.5 333.5,233.4 334.0,233.3 334.5,233.3 335.0,233.2 335.6,233.1 336.1,233.0 336.6,233.0 337.1,232.9 337.7,232.8 338.2,232.7 338.7,232.6 339.2,232.6 339.7,232.5 340.3,232.4 340.8,232.3 341.3,232.2 341.8,232.2 342.3,232.1 342.9,232.0 343.4,231.9 343.9,231.8 344.4,231.8 345.0,231.7 345.5,231.6 346.0,231.5 346.5,231.4 347.0,231.4 347.6,231.3 348.1,231.2 348.6,231.1 349.1,231.0 349.7,230.9 350.2,230.9 350.7,230.8 351.2,230.7 351.7,230.6 352.3,230.5 352.8,230.4 353.3,230.3 353.8,230.3 354.3,230.2 354.9,230.1 355.4,230.0 355.9,229.9 356.4,229.8 357.0,229.7 357.5,229.6 358.0,229.6 358.5,229.5 359.0,229.4 359.6,229.3 360.1,229.2 360.6,229.1 361.1,229.0 361.7,228.9 362.2,228.8 362.7,228.7 363.2,228.7 363.7,228.6 364.3,228.5 364.8,228.4 365.3,228.3 365.8,228.2 366.4,228.1 366.9,228.0 367.4,227.9 367.9,227.8 368.4,227.7 369.0,227.6 369.5,227.5 370.0,227.4 370.5,227.4 371.0,227.3 371.6,227.2 372.1,227.1 372.6,227.0 373.1,226.9 373.7,226.8 374.2,226.7 374.7,226.6 375.2,226.5 375.7,226.4 376.3,226.3 376.8,226.2 377.3,226.1 377.8,226.0 378.4,225.9 378.9,225.8 379.4,225.7 379.9,225.6 380.4,225.5 381.0,225.4 381.5,225.3 382.0,225.2 382.5,225.1 383.1,225.0 383.6,224.9 384.1,224.8 384.6,224.7 385.1,224.6 385.7,224.5 386.2,224.4 386.7,224.3 387.2,224.2 387.7,224.1 388.3,224.0 388.8,223.9 389.3,223.8 389.8,223.7 390.4,223.6 390.9,223.5 391.4,223.4 391.9,223.3 392.4,223.2 393.0,223.1 393.5,222.9 394.0,222.8 394.5,222.7 395.1,222.6 395.6,222.5 396.1,222.4 396.6,222.3 397.1,222.2 397.7,222.1 398.2,222.0 398.7,221.9 399.2,221.8 399.7,221.7 400.3,221.5 400.8,221.4 401.3,221.3 401.8,221.2 402.4,221.1 402.9,221.0 403.4,220.9 403.9,220.8 404.4,220.7 405.0,220.5 405.5,220.4 406.0,220.3 406.5,220.2 407.1,220.1 407.6,220.0 408.1,219.8 408.6,219.7 409.1,219.6 409.7,219.5 410.2,219.4 410.7,219.3 411.2,219.1 411.8,219.0 412.3,218.9 412.8,218.8 413.3,218.7 413.8,218.5 414.4,218.4 414.9,218.3 415.4,218.2 415.9,218.0 416.4,217.9 417.0,217.8 417.5,217.7 418.0,217.5 418.5,217.4 419.1,217.3 419.6,217.1 420.1,217.0 420.6,216.9 421.1,216.7 421.7,216.6 422.2,216.5 422.7,216.3 423.2,216.2 423.8,216.1 424.1,216.0 424.8,215.8 425.3,215.7 425.8,215.5 426.4,215.4 426.9,215.2 427.4,215.1 427.9,214.9 428.5,214.8 429.0,214.6 429.5,214.5 430.0,214.3 430.5,214.2 431.1,214.0 431.6,213.9 432.1,213.7 432.6,213.6 433.1,213.4 433.7,213.3 434.2,213.1 434.7,212.9 435.2,212.8 435.8,212.6 436.3,212.4 436.8,212.3 437.3,212.1 437.8,211.9 438.4,211.8 438.9,211.6 439.4,211.4 439.9,211.2 440.5,211.1 441.0,210.9 441.5,210.7 442.0,210.5 442.5,210.3 443.1,210.1 443.6,210.0 444.1,209.8 444.6,209.6 445.1,209.4 445.7,209.2 446.2,209.0 446.7,208.8 447.2,208.6 447.8,208.4 448.3,208.2 448.8,208.0 449.3,207.8 449.8,207.6 450.4,207.4 450.9,207.2 451.4,207.0 451.9,206.8 452.5,206.6 453.0,206.4 453.5,206.2 454.0,205.9 454.5,205.7 455.1,205.5 455.4,205.4 456.1,205.1 456.6,204.9 457.2,204.6 457.7,204.4 458.2,204.2 458.7,204.0 459.2,203.7 459.8,203.5 460.3,203.3 460.8,203.1 461.3,202.8 461.8,202.6 462.4,202.4 462.9,202.1 463.4,201.9 463.9,201.6 464.5,201.4 465.0,201.2 465.5,200.9 466.0,200.7 466.5,200.4 467.1,200.2 467.6,199.9 468.1,199.7 468.6,199.4 469.2,199.1 469.7,198.9 470.2,198.6 470.7,198.4 471.2,198.1 471.8,197.8 472.3,197.6 472.8,197.3 473.3,197.0 473.9,196.8 474.4,196.5 474.9,196.2 475.4,196.0 475.9,195.7 476.5,195.4 477.0,195.1 477.5,194.8 478.0,194.5 478.5,194.2 479.1,193.9 479.6,193.6 480.1,193.3 480.6,193.0 481.2,192.7 481.7,192.4 482.2,192.0 482.7,191.7 483.2,191.3 483.8,191.0 484.3,190.6 484.8,190.2 485.3,189.9 485.9,189.5 486.4,189.1 486.8,188.7 487.4,188.3 487.9,187.8 488.5,187.4 489.0,187.0 489.5,186.6 490.0,186.1 490.5,185.7 491.1,185.2 491.6,184.7 492.1,184.3 492.6,183.8 493.2,183.3 493.7,182.8 494.2,182.2 494.7,181.7 495.2,181.1 495.8,180.5 496.3,179.9 496.8,179.2 497.3,178.6 497.9,177.9 498.4,177.2 498.9,176.6 499.4,176.0 499.9,175.3 500.5,174.7 501.0,174.0 501.5,173.3 502.0,172.6 502.6,171.8 503.1,171.0 503.6,170.1 504.1,169.2 504.6,168.2 505.2,167.1 505.7,165.9 505.9,165.3 506.2,164.7 506.7,163.4 507.2,161.9 507.8,160.4 508.3,158.6 508.8,156.8 509.3,154.9 509.9,152.9 510.4,150.5 510.5,149.9 510.9,151.5 511.4,152.7 511.9,154.0 512.5,155.2 513.0,156.2 513.5,157.2 514.0,158.7 514.4,159.7 514.6,160.4 515.1,162.3 515.6,164.2 516.1,166.1 516.6,168.0 517.2,169.8 517.6,171.4 518.2,173.5 518.7,175.4 519.3,177.5 519.8,179.7 520.3,182.0 520.4,182.5 520.8,184.4 521.3,186.7 521.9,189.2 522.4,191.6 522.8,193.4 522.9,194.0 523.4,196.5 523.9,199.0 524.5,201.6 524.8,203.1 525.0,204.2 525.5,206.8 526.0,209.6 526.5,211.8 526.6,212.3 527.1,215.2 527.6,218.2 527.9,219.9 528.1,221.3 528.6,224.5 529.1,227.6 529.2,227.9 529.7,231.6 530.2,235.0 530.2,235.4 530.7,239.6 531.0,242.2 531.3,244.1 531.8,249.1 532.3,254.5 532.4,255.9 532.8,260.8 532.9,262.4 533.3,267.9 533.4,268.9 533.8,275.2 533.9,276.5 534.1,281.4 534.4,287.2 534.6,293.5 534.8,299.5 534.9,302.0 535.0,305.4 535.1,311.3 535.3,317.1 535.4,322.9 535.4,326.6 535.5,328.7 535.5,334.5 535.6,340.2 535.6,345.9 535.7,351.6 535.7,357.3 535.8,363.0 535.8,368.6 535.8,374.3 535.8,379.9 535.9,385.6 535.9,391.2 535.9,396.9 535.9,402.5 535.9,408.1 535.9,413.8 535.9,419.4 535.9,425.0 535.9,430.6 535.9,436.3 535.9,441.9 535.9,447.5 535.9,453.1 535.9,458.8 535.9,464.4 535.9,470.0 535.9,475.6 535.9,481.3 535.9,486.9 535.9,492.5 535.9,498.1 535.9,503.7 535.9,506.0" stroke="#000" stroke-width="2.6" stroke-dasharray="2.1 2.55"/>
<path d="M823.0,-26.0 823.0,-21.3 823.0,-15.7 823.0,-10.1 823.0,-4.5 823.0,1.1 823.0,6.8 823.0,12.4 823.1,18.0 823.1,20.1 823.1,23.6 823.1,29.3 823.1,34.9 823.1,40.5 823.2,43.8 823.2,46.2 823.2,51.8 823.3,57.5 823.3,63.1 823.4,67.6 823.4,68.7 823.4,74.4 823.5,75.3 823.5,80.1 823.5,81.5 823.6,85.7 823.6,86.8 823.7,91.4 823.8,95.5 823.9,97.1 823.9,99.2 824.0,102.5 824.1,102.8 824.1,105.5 824.2,108.3 824.3,110.9 824.4,113.3 824.5,114.3 824.5,115.5 824.6,117.7 824.7,119.7 824.7,120.0 824.8,121.6 824.9,123.4 825.0,125.1 825.1,125.8 825.1,126.7 825.2,128.3 825.3,129.8 825.4,131.2 825.4,131.6 825.5,132.6 825.6,134.0 825.7,135.3 825.8,136.5 825.9,137.5 826.0,138.9 826.1,140.0 826.2,141.1 826.3,142.2 826.4,143.3 826.5,144.3 826.6,145.3 826.7,146.2 826.8,147.2 826.9,148.1 827.0,149.0 827.0,149.3 827.1,149.8 827.2,150.7 827.3,151.5 827.4,152.4 827.5,153.2 827.6,154.0 827.7,154.7 827.8,155.3 827.9,156.2 828.0,157.0 828.1,157.7 828.2,158.4 828.3,159.1 828.4,159.7 828.5,160.4 828.6,161.1 828.6,161.4 828.7,161.7 828.8,162.4 828.9,163.0 829.0,163.6 829.1,164.2 829.2,164.8 829.2,165.4 829.3,166.0 829.4,166.6 829.5,167.1 829.6,167.6 829.7,168.2 829.8,168.8 829.9,169.3 830.0,169.9 830.1,170.4 830.2,170.9 830.3,171.4 830.4,171.9 830.5,172.4 830.6,172.9 830.7,173.4 830.8,173.8 830.9,174.4 831.0,174.8 831.1,175.3 831.2,175.8 831.3,176.2 831.4,176.7 831.5,177.1 831.6,177.6 831.7,178.0 831.8,178.5 831.9,178.9 832.0,179.3 832.1,179.7 832.2,180.2 832.3,180.6 832.4,181.0 832.5,181.4 832.6,181.8 832.7,182.2 832.8,182.6 832.9,183.0 833.0,183.4 833.1,183.8 833.2,184.2 833.3,184.6 833.4,184.9 833.5,185.3 833.6,185.7 833.7,186.1 833.8,186.4 833.9,186.8 834.0,187.2 834.1,187.5 834.2,187.9 834.3,188.2 834.4,188.6 834.5,188.9 834.6,189.3 834.7,189.6 834.8,190.0 834.8,190.3 834.9,190.6 835.0,191.0 835.1,191.3 835.2,191.6 835.3,192.0 835.4,192.3 835.5,192.6 835.6,193.0 835.7,193.3 835.8,193.6 835.9,193.9 836.0,194.2 836.1,194.5 836.2,194.9 836.3,195.2 836.4,195.5 836.5,195.8 836.6,196.1 836.7,196.4 836.8,196.7 836.9,197.0 837.0,197.3 837.1,197.6 837.2,197.9 837.3,198.2 837.4,198.5 837.5,198.8 837.6,199.0 837.7,199.3 837.8,199.6 837.9,199.9 838.0,200.2 838.1,200.5 838.3,201.0 838.5,201.6 838.7,202.1 838.9,202.7 839.1,203.2 839.3,203.8 839.5,204.3 839.7,204.8 839.9,205.3 840.1,205.9 840.3,206.4 840.5,206.9 840.6,207.4 840.8,207.8 840.9,208.1 841.1,208.6 841.3,209.1 841.5,209.6 841.7,210.1 841.9,210.6 842.1,211.1 842.3,211.5 842.5,212.0 842.7,212.5 842.9,212.9 843.1,213.4 843.3,213.9 843.5,214.3 843.7,214.8 843.9,215.2 844.0,215.5 844.2,215.9 844.4,216.3 844.6,216.8 844.8,217.2 845.0,217.7 845.2,218.1 845.4,218.5 845.6,219.0 845.8,219.4 846.0,219.8 846.2,220.2 846.3,220.7 846.5,221.1 846.7,221.5 846.9,221.9 847.1,222.3 847.3,222.8 847.5,223.2 847.7,223.6 847.9,224.0 848.1,224.4 848.3,224.8 848.5,225.2 848.7,225.6 848.9,226.0 849.1,226.4 849.3,226.8 849.5,227.2 849.7,227.6 849.9,228.0 850.1,228.4 850.3,228.8 850.5,229.2 850.7,229.5 850.9,229.9 851.1,230.3 851.3,230.7 851.5,231.1 851.7,231.5 851.8,231.8 852.0,232.2 852.2,232.6 852.4,233.0 852.6,233.4 852.8,233.7 853.0,234.1 853.2,234.5 853.4,234.9 853.6,235.2 853.8,235.6 854.0,236.0 854.2,236.3 854.4,236.7 854.6,237.1 854.8,237.4 855.0,237.8 855.2,238.2 855.4,238.5 855.6,238.9 855.8,239.3 856.0,239.6 856.2,240.0 856.4,240.4 856.6,240.7 856.8,241.1 857.0,241.5 857.2,241.8 857.4,242.2 857.5,242.5 857.7,242.9 857.9,243.3 858.1,243.6 858.3,244.0 858.5,244.3 858.7,244.7 858.9,245.0 859.1,245.4 859.3,245.8 859.5,246.1 859.7,246.5 859.9,246.8 860.1,247.2 860.3,247.5 860.5,247.9 860.7,248.2 860.9,248.6 861.1,249.0 861.3,249.3 861.5,249.7 861.7,250.0 861.9,250.4 862.1,250.7 862.3,251.1 862.5,251.4 862.7,251.8 862.9,252.1 863.1,252.5 863.2,252.9 863.4,253.2 863.6,253.6 863.8,253.9 864.0,254.3 864.2,254.6 864.4,255.0 864.6,255.3 864.8,255.7 865.0,256.1 865.2,256.4 865.4,256.8 865.6,257.1 865.8,257.5 866.0,257.8 866.2,258.2 866.4,258.6 866.6,258.9 866.8,259.3 867.0,259.6 867.2,260.0 867.4,260.4 867.6,260.7 867.8,261.1 868.0,261.4 868.2,261.8 868.4,262.2 868.6,262.5 868.8,262.9 868.9,263.3 869.1,263.6 869.3,264.0 869.5,264.4 869.7,264.7 869.9,265.1 870.1,265.5 870.3,265.8 870.5,266.2 870.7,266.6 870.9,266.9 871.1,267.3 871.3,267.7 871.5,268.1 871.7,268.4 871.9,268.8 872.1,269.2 872.3,269.6 872.5,269.9 872.7,270.3 872.9,270.7 873.1,271.1 873.3,271.5 873.5,271.8 873.7,272.2 873.9,272.6 874.1,273.0 874.3,273.4 874.5,273.8 874.6,274.2 874.8,274.6 875.0,275.0 875.2,275.4 875.4,275.8 875.6,276.2 875.8,276.6 876.0,277.0 876.2,277.4 876.4,277.8 876.6,278.2 876.8,278.6 877.0,279.0 877.2,279.4 877.4,279.8 877.6,280.2 877.8,280.6 878.0,281.1 878.2,281.5 878.4,281.9 878.6,282.3 878.8,282.8 879.0,283.2 879.2,283.6 879.4,284.1 879.6,284.5 879.8,284.9 880.0,285.4 880.1,285.8 880.3,286.3 880.5,286.7 880.7,287.2 880.9,287.6 881.1,288.1 881.3,288.5 881.5,289.0 881.7,289.4 881.9,289.9 882.1,290.4 882.3,290.9 882.5,291.3 882.7,291.8 882.9,292.3 883.1,292.8 883.3,293.3 883.5,293.8 883.6,294.1 883.8,294.5 884.0,295.0 884.2,295.5 884.4,296.0 884.6,296.6 884.8,297.1 885.0,297.6 885.2,298.1 885.4,298.7 885.6,299.2 885.8,299.7 885.9,300.3 886.1,300.8 886.3,301.3 886.4,301.7 886.6,302.2 886.7,302.5 886.8,302.8 886.9,303.1 887.0,303.4 887.1,303.7 887.2,304.0 887.3,304.3 887.4,304.6 887.5,304.9 887.6,305.2 887.7,305.5 887.8,305.8 887.9,306.1 888.0,306.4 888.1,306.7 888.2,307.0 888.3,307.3 888.4,307.6 888.5,307.9 888.6,308.3 888.7,308.6 888.8,308.9 888.9,309.2 889.0,309.5 889.1,309.9 889.2,310.2 889.3,310.5 889.4,310.9 889.5,311.2 889.6,311.5 889.7,311.9 889.8,312.2 889.9,312.6 890.0,312.9 890.1,313.3 890.2,313.6 890.3,314.0 890.4,314.3 890.5,314.7 890.6,315.0 890.7,315.4 890.8,315.8 890.9,316.1 891.0,316.5 891.1,316.9 891.2,317.3 891.3,317.6 891.4,318.0 891.5,318.4 891.5,318.8 891.6,319.2 891.7,319.6 891.8,320.0 891.9,320.4 892.0,320.8 892.1,321.2 892.2,321.6 892.3,322.1 892.4,322.5 892.5,322.9 892.6,323.3 892.7,323.8 892.8,324.2 892.9,324.7 893.0,325.1 893.1,325.6 893.2,326.0 893.3,326.5 893.4,327.0 893.5,327.4 893.6,327.9 893.7,328.4 893.8,328.9 893.9,329.4 894.0,329.9 894.1,330.4 894.2,330.9 894.3,331.4 894.4,331.9 894.5,332.5 894.6,333.0 894.7,333.5 894.8,334.1 894.9,334.7 895.0,335.2 895.1,335.8 895.2,336.4 895.3,337.0 895.4,337.6 895.5,338.2 895.6,338.8 895.7,339.4 895.8,340.0 895.8,340.4 895.9,340.7 896.0,341.3 896.1,342.0 896.2,342.7 896.3,343.4 896.4,344.1 896.5,344.8 896.6,345.5 896.7,346.3 896.8,347.0 896.9,347.8 897.0,348.6 897.1,349.4 897.1,350.2 897.2,351.0 897.3,351.9 897.4,352.4 897.4,352.8 897.5,353.7 897.6,354.6 897.7,355.5 897.8,356.5 897.9,357.5 898.0,358.4 898.1,359.5 898.2,360.6 898.3,361.7 898.4,362.8 898.5,364.0 898.6,365.2 898.7,366.4 898.8,367.7 898.9,369.1 899.0,370.1 899.0,370.5 899.1,371.9 899.2,373.4 899.3,375.0 899.4,375.9 899.4,376.6 899.5,378.3 899.6,380.1 899.7,381.7 899.7,382.0 899.8,384.0 899.9,386.2 900.0,387.4 900.0,388.4 900.1,390.8 900.2,393.2 900.3,396.2 900.4,398.9 900.4,399.2 900.5,402.5 900.5,404.6 900.6,406.2 900.7,410.2 900.8,414.8 900.8,416.0 900.9,420.2 900.9,421.6 901.0,426.4 901.0,427.3 901.1,432.9 901.1,434.1 901.1,438.6 901.2,444.0 901.2,449.9 901.3,455.5 901.3,457.9 901.3,461.1 901.3,466.8 901.3,472.4 901.4,478.0 901.4,481.6 901.4,483.7 901.4,489.3 901.4,494.9 901.4,500.5 901.4,506.0" stroke="#000" stroke-width="2.6" stroke-dasharray="2.1 2.55"/>
<path d="M723.1,-26.0 723.1,-23.8 723.1,-18.2 723.1,-12.6 723.1,-7.0 723.1,-1.3 723.2,4.3 723.2,9.9 723.2,12.0 723.2,15.6 723.3,21.2 723.3,26.8 723.4,32.5 723.4,35.7 723.5,38.1 723.5,43.7 723.6,49.4 723.8,55.0 723.9,59.5 723.9,60.7 724.1,66.4 724.1,67.2 724.3,72.0 724.3,73.5 724.5,77.7 724.5,78.8 724.8,83.4 725.0,87.5 725.1,89.1 725.2,91.2 725.4,94.5 725.5,94.8 725.7,97.5 725.9,100.3 726.1,102.9 726.3,105.3 726.4,106.3 726.6,107.6 726.8,109.7 727.0,111.8 727.0,112.1 727.2,113.7 727.4,115.5 727.7,117.2 727.8,117.9 727.9,118.9 728.1,120.4 728.3,122.0 728.6,123.4 728.6,123.8 728.8,124.8 729.0,126.2 729.2,127.5 729.5,128.7 729.6,129.7 729.9,131.1 730.1,132.3 730.4,133.4 730.6,134.5 730.8,135.5 731.0,136.5 731.2,137.5 731.5,138.5 731.7,139.5 731.9,140.4 732.1,141.3 732.2,141.6 732.4,142.2 732.6,143.1 732.8,143.9 733.0,144.7 733.3,145.5 733.5,146.3 733.7,147.1 733.9,147.7 734.1,148.6 734.4,149.4 734.6,150.1 734.8,150.8 735.0,151.5 735.3,152.2 735.5,152.9 735.7,153.6 735.8,153.9 735.9,154.2 736.2,154.9 736.4,155.5 736.6,156.1 736.8,156.7 737.1,157.3 737.3,157.9 737.5,158.5 737.7,159.1 737.9,159.7 738.1,160.1 738.4,160.8 738.6,161.4 738.8,161.9 739.1,162.5 739.3,163.0 739.5,163.5 739.7,164.1 740.0,164.6 740.2,165.1 740.4,165.6 740.6,166.1 740.8,166.5 741.1,167.1 741.3,167.5 741.5,168.0 741.7,168.5 742.0,169.0 742.2,169.4 742.4,169.9 742.6,170.3 742.9,170.8 743.1,171.2 743.3,171.7 743.5,172.1 743.8,172.5 744.0,173.0 744.2,173.4 744.4,173.8 744.6,174.2 744.9,174.7 745.1,175.1 745.3,175.5 745.5,175.9 745.8,176.3 746.0,176.7 746.2,177.1 746.4,177.5 746.7,177.9 746.9,178.2 747.1,178.6 747.3,179.0 747.6,179.4 747.8,179.7 748.0,180.1 748.2,180.5 748.4,180.9 748.7,181.2 748.9,181.6 749.1,181.9 749.3,182.3 749.6,182.6 749.8,183.0 750.0,183.3 750.2,183.7 750.5,184.0 750.7,184.4 750.9,184.7 751.1,185.1 751.4,185.4 751.6,185.7 751.8,186.1 752.0,186.4 752.2,186.7 752.5,187.0 752.7,187.4 752.9,187.7 753.1,188.0 753.4,188.3 753.6,188.6 753.8,188.9 754.0,189.3 754.3,189.6 754.5,189.9 754.7,190.2 754.9,190.5 755.1,190.8 755.4,191.1 755.6,191.4 755.8,191.7 756.0,192.0 756.3,192.3 756.5,192.6 756.7,192.9 756.9,193.2 757.2,193.5 757.4,193.8 757.6,194.0 757.8,194.3 758.1,194.6 758.3,194.9 758.5,195.2 758.7,195.5 758.9,195.8 759.2,196.0 759.4,196.3 759.6,196.6 759.8,196.9 760.1,197.1 760.3,197.4 760.5,197.7 760.7,198.0 761.0,198.2 761.2,198.5 761.4,198.8 761.6,199.0 761.8,199.3 762.1,199.6 762.3,199.8 762.5,200.1 762.7,200.3 763.0,200.6 763.2,200.9 763.4,201.1 763.6,201.4 763.9,201.6 764.1,201.9 764.3,202.1 764.5,202.4 764.8,202.6 765.0,202.9 765.2,203.2 765.4,203.4 765.6,203.7 765.9,203.9 766.1,204.1 766.3,204.4 766.5,204.6 766.8,204.9 767.0,205.1 767.2,205.4 767.4,205.6 767.7,205.9 767.9,206.1 768.1,206.3 768.3,206.6 768.6,206.8 768.8,207.1 769.0,207.3 769.2,207.5 769.4,207.8 769.7,208.0 769.9,208.2 770.1,208.5 770.3,208.7 770.6,208.9 770.8,209.2 771.0,209.4 771.2,209.6 771.5,209.9 771.7,210.1 771.9,210.3 772.1,210.6 772.3,210.8 772.6,211.0 772.8,211.2 773.0,211.5 773.2,211.7 773.5,211.9 773.7,212.1 773.9,212.4 774.1,212.6 774.4,212.8 774.6,213.0 774.8,213.2 775.0,213.5 775.3,213.7 775.5,213.9 775.7,214.1 775.9,214.3 776.1,214.6 776.4,214.8 776.6,215.0 776.8,215.2 777.0,215.4 777.3,215.6 777.5,215.9 777.7,216.1 777.9,216.3 778.2,216.5 778.4,216.7 778.6,216.9 778.8,217.1 779.1,217.4 779.3,217.6 779.5,217.8 779.7,218.0 779.9,218.2 780.2,218.4 780.4,218.6 780.6,218.8 780.8,219.0 781.1,219.3 781.3,219.5 781.5,219.7 781.7,219.9 782.0,220.1 782.2,220.3 782.4,220.5 782.6,220.7 782.8,220.9 783.1,221.1 783.3,221.3 783.5,221.5 783.7,221.7 784.0,221.9 784.2,222.1 784.4,222.3 784.6,222.5 784.9,222.7 785.1,223.0 785.3,223.2 785.5,223.4 785.8,223.6 786.0,223.8 786.2,224.0 786.4,224.2 786.6,224.4 786.9,224.6 787.3,225.0 787.8,225.4 788.2,225.8 788.7,226.2 789.1,226.6 789.6,226.9 790.0,227.3 790.4,227.7 790.9,228.1 791.3,228.5 791.8,228.9 792.2,229.3 792.7,229.7 793.1,230.1 793.6,230.5 794.0,230.8 794.5,231.2 794.9,231.6 795.4,232.0 795.8,232.4 796.3,232.8 796.7,233.2 797.1,233.5 797.6,233.9 798.0,234.3 798.5,234.7 798.9,235.1 799.4,235.4 799.8,235.8 800.3,236.2 800.7,236.6 801.2,236.9 801.6,237.3 802.1,237.7 802.5,238.1 803.0,238.5 803.4,238.8 803.8,239.2 804.3,239.6 804.7,240.0 805.2,240.3 805.6,240.7 806.1,241.1 806.5,241.5 807.0,241.8 807.4,242.2 807.9,242.6 808.3,242.9 808.8,243.3 809.2,243.7 809.7,244.1 810.1,244.4 810.6,244.8 811.0,245.2 811.4,245.6 811.9,245.9 812.3,246.3 812.8,246.7 813.2,247.1 813.7,247.4 814.1,247.8 814.6,248.2 815.0,248.6 815.5,248.9 815.9,249.3 816.4,249.7 816.8,250.1 817.3,250.4 817.7,250.8 818.1,251.2 818.6,251.6 819.0,251.9 819.5,252.3 819.9,252.7 820.4,253.1 820.8,253.4 821.3,253.8 821.7,254.2 822.2,254.6 822.6,255.0 823.1,255.3 823.5,255.7 824.0,256.1 824.4,256.5 824.8,256.9 825.3,257.2 825.7,257.6 826.2,258.0 826.6,258.4 827.1,258.8 827.5,259.2 828.0,259.5 828.4,259.9 828.9,260.3 829.3,260.7 829.8,261.1 830.2,261.5 830.7,261.9 831.1,262.3 831.6,262.7 832.0,263.0 832.4,263.4 832.9,263.8 833.3,264.2 833.8,264.6 834.2,265.0 834.7,265.4 835.1,265.8 835.6,266.2 835.8,266.4 836.0,266.6 836.2,266.8 836.5,267.0 836.7,267.2 836.9,267.4 837.1,267.6 837.4,267.8 837.6,268.0 837.8,268.2 838.0,268.4 838.3,268.6 838.5,268.8 838.7,269.0 838.9,269.3 839.1,269.5 839.4,269.7 839.6,269.9 839.8,270.1 840.0,270.3 840.3,270.5 840.5,270.7 840.7,270.9 840.9,271.1 841.2,271.3 841.4,271.5 841.6,271.7 841.8,271.9 842.0,272.1 842.3,272.4 842.5,272.6 842.7,272.8 842.9,273.0 843.2,273.2 843.4,273.4 843.6,273.6 843.8,273.8 844.1,274.0 844.3,274.3 844.5,274.5 844.7,274.7 845.0,274.9 845.2,275.1 845.4,275.3 845.6,275.5 845.8,275.8 846.1,276.0 846.3,276.2 846.5,276.4 846.7,276.6 847.0,276.8 847.2,277.1 847.4,277.3 847.6,277.5 847.9,277.7 848.1,277.9 848.3,278.2 848.5,278.4 848.8,278.6 849.0,278.8 849.2,279.0 849.4,279.3 849.6,279.5 849.9,279.7 850.1,279.9 850.3,280.2 850.5,280.4 850.8,280.6 851.0,280.8 851.2,281.1 851.4,281.3 851.7,281.5 851.9,281.8 852.1,282.0 852.3,282.2 852.5,282.5 852.8,282.7 853.0,282.9 853.2,283.1 853.4,283.4 853.7,283.6 853.9,283.9 854.1,284.1 854.3,284.3 854.6,284.6 854.8,284.8 855.0,285.0 855.2,285.3 855.5,285.5 855.7,285.8 855.9,286.0 856.1,286.2 856.3,286.5 856.6,286.7 856.8,287.0 857.0,287.2 857.2,287.5 857.5,287.7 857.7,287.9 857.9,288.2 858.1,288.4 858.4,288.7 858.6,288.9 858.8,289.2 859.0,289.4 859.3,289.7 859.5,290.0 859.7,290.2 859.9,290.5 860.1,290.7 860.4,291.0 860.6,291.2 860.8,291.5 861.0,291.7 861.3,292.0 861.5,292.3 861.7,292.5 861.9,292.8 862.2,293.1 862.4,293.3 862.6,293.6 862.8,293.9 863.0,294.1 863.3,294.4 863.5,294.7 863.7,294.9 863.9,295.2 864.2,295.5 864.4,295.8 864.6,296.0 864.8,296.3 865.1,296.6 865.3,296.9 865.5,297.2 865.7,297.4 866.0,297.7 866.2,298.0 866.4,298.3 866.6,298.6 866.8,298.9 867.1,299.2 867.3,299.5 867.5,299.7 867.7,300.0 868.0,300.3 868.2,300.6 868.4,300.9 868.6,301.2 868.9,301.5 869.1,301.8 869.3,302.1 869.5,302.4 869.8,302.8 870.0,303.1 870.2,303.4 870.4,303.7 870.6,304.0 870.9,304.3 871.1,304.6 871.3,304.9 871.5,305.3 871.8,305.6 872.0,305.9 872.2,306.2 872.4,306.6 872.7,306.9 872.9,307.2 873.1,307.6 873.3,307.9 873.5,308.2 873.8,308.6 874.0,308.9 874.2,309.3 874.4,309.6 874.7,310.0 874.9,310.3 875.1,310.7 875.3,311.0 875.6,311.4 875.8,311.7 876.0,312.1 876.2,312.5 876.5,312.8 876.7,313.2 876.9,313.6 877.1,314.0 877.3,314.3 877.6,314.7 877.8,315.1 878.0,315.5 878.2,315.9 878.5,316.3 878.7,316.7 878.9,317.1 879.1,317.5 879.4,317.9 879.6,318.3 879.8,318.7 880.0,319.1 880.3,319.6 880.4,319.9 880.7,320.4 880.9,320.8 881.1,321.3 881.4,321.7 881.6,322.2 881.8,322.6 882.0,323.1 882.3,323.5 882.5,324.0 882.7,324.5 882.9,324.9 883.2,325.4 883.4,325.9 883.6,326.4 883.8,326.9 884.0,327.4 884.3,327.9 884.5,328.4 884.7,328.9 884.9,329.4 885.2,329.9 885.4,330.5 885.6,331.0 885.8,331.6 886.1,332.1 886.3,332.7 886.5,333.2 886.7,333.8 887.0,334.4 887.2,335.0 887.4,335.6 887.6,336.2 887.8,336.8 888.1,337.4 888.3,338.1 888.5,338.7 888.6,339.0 888.7,339.4 889.0,340.0 889.2,340.7 889.4,341.4 889.6,342.1 889.9,342.8 890.1,343.5 890.3,344.3 890.5,345.0 890.8,345.8 891.0,346.6 891.2,347.4 891.4,348.2 891.6,349.0 891.9,349.8 892.1,350.7 892.2,351.3 892.3,351.6 892.5,352.5 892.8,353.4 893.0,354.4 893.2,355.3 893.4,356.3 893.6,357.2 893.9,358.4 894.1,359.5 894.3,360.6 894.5,361.7 894.8,362.9 895.0,364.1 895.2,365.4 895.4,366.7 895.7,368.0 895.8,369.1 895.9,369.4 896.1,370.9 896.3,372.4 896.6,374.0 896.7,374.9 896.8,375.6 897.0,377.4 897.2,379.2 897.4,380.7 897.5,381.1 897.7,383.1 897.9,385.2 898.0,386.5 898.1,387.5 898.3,389.9 898.5,392.2 898.8,395.3 899.0,398.0 899.0,398.3 899.2,401.6 899.4,403.7 899.5,405.3 899.7,409.4 899.9,414.0 900.0,415.1 900.1,419.3 900.2,420.8 900.4,425.6 900.4,426.4 900.5,432.1 900.6,433.3 900.7,437.7 900.8,443.1 900.9,449.0 901.0,454.7 901.0,457.1 901.1,460.3 901.1,466.0 901.2,471.6 901.2,477.2 901.3,480.8 901.3,482.8 901.3,488.5 901.3,494.1 901.3,499.7 901.4,505.3 901.4,506.0" stroke="#ff0000" stroke-width="2.6" stroke-linecap="round"/>
<path d="M582.3,-26.0 582.3,-24.3 582.3,-18.7 582.4,-13.1 582.4,-7.4 582.5,-1.8 582.5,0.2 582.5,3.8 582.6,9.4 582.7,15.1 582.8,20.7 582.9,23.9 582.9,26.3 583.1,31.9 583.3,37.6 583.5,43.2 583.7,47.7 583.7,48.9 584.0,54.5 584.1,55.3 584.4,60.1 584.5,61.6 584.8,65.8 584.9,66.9 585.3,71.5 585.7,75.6 585.8,77.1 586.1,79.2 586.5,82.5 586.5,82.8 586.9,85.5 587.3,88.3 587.7,90.9 588.1,93.3 588.2,94.2 588.5,95.5 588.9,97.6 589.3,99.6 589.4,100.0 589.7,101.5 590.1,103.3 590.5,105.0 590.7,105.7 590.9,106.7 591.3,108.2 591.7,109.7 592.1,111.2 592.2,111.5 592.5,112.6 592.9,113.9 593.3,115.2 593.7,116.4 594.0,117.4 594.5,118.8 594.9,120.0 595.3,121.1 595.7,122.1 596.1,123.2 596.5,124.2 596.9,125.2 597.3,126.2 597.7,127.1 598.1,128.0 598.5,128.9 598.6,129.3 598.9,129.8 599.3,130.7 599.7,131.5 600.1,132.3 600.5,133.2 600.9,133.9 601.3,134.7 601.6,135.3 602.1,136.2 602.5,137.0 602.9,137.7 603.3,138.4 603.7,139.1 604.1,139.8 604.5,140.5 604.9,141.2 605.1,141.5 605.3,141.8 605.7,142.5 606.1,143.1 606.5,143.7 606.9,144.4 607.3,145.0 607.7,145.6 608.1,146.2 608.5,146.8 608.9,147.3 609.2,147.8 609.7,148.5 610.1,149.1 610.5,149.6 610.9,150.2 611.3,150.7 611.7,151.2 612.1,151.8 612.5,152.3 612.9,152.8 613.3,153.3 613.7,153.8 614.0,154.3 614.5,154.8 614.9,155.3 615.3,155.8 615.7,156.3 616.1,156.8 616.5,157.3 616.9,157.7 617.3,158.2 617.7,158.7 618.1,159.1 618.5,159.6 618.9,160.0 619.3,160.5 619.7,160.9 620.1,161.4 620.5,161.8 620.9,162.3 621.3,162.7 621.7,163.1 622.1,163.5 622.5,164.0 622.9,164.4 623.3,164.8 623.7,165.2 624.1,165.6 624.5,166.0 624.9,166.4 625.3,166.8 625.7,167.2 626.1,167.6 626.5,168.0 626.9,168.4 627.3,168.8 627.7,169.2 628.1,169.6 628.5,170.0 628.9,170.4 629.3,170.7 629.7,171.1 630.1,171.5 630.5,171.9 630.9,172.2 631.3,172.6 631.7,173.0 632.1,173.3 632.4,173.7 632.8,174.0 633.2,174.4 633.6,174.8 634.0,175.1 634.4,175.4 634.8,175.8 635.2,176.2 635.6,176.5 636.0,176.9 636.4,177.2 636.8,177.5 637.2,177.9 637.6,178.2 638.0,178.5 638.4,178.9 638.8,179.2 639.2,179.5 639.6,179.9 640.0,180.2 640.4,180.5 640.8,180.8 641.2,181.2 641.6,181.5 642.0,181.8 642.4,182.1 642.8,182.4 643.2,182.8 643.6,183.1 644.0,183.4 644.4,183.7 644.8,184.0 645.2,184.3 645.6,184.6 646.0,184.9 646.4,185.2 646.8,185.5 647.2,185.8 647.6,186.1 648.0,186.4 648.4,186.7 648.8,187.0 649.2,187.3 649.6,187.6 650.0,187.9 650.4,188.2 650.8,188.5 651.2,188.8 651.6,189.0 652.0,189.3 652.4,189.6 652.8,189.9 653.2,190.2 653.6,190.5 654.0,190.8 654.4,191.0 654.8,191.3 655.2,191.6 655.6,191.9 656.0,192.1 656.4,192.4 656.8,192.7 657.2,193.0 657.6,193.2 658.0,193.5 658.4,193.8 658.8,194.0 659.2,194.3 659.6,194.6 660.0,194.8 660.4,195.1 660.8,195.4 661.2,195.6 661.6,195.9 662.0,196.2 662.4,196.4 662.8,196.7 663.2,196.9 663.6,197.2 664.0,197.5 664.4,197.7 664.8,198.0 665.2,198.2 665.6,198.5 666.0,198.7 666.4,199.0 666.8,199.2 667.2,199.5 667.6,199.8 668.0,200.0 668.4,200.3 668.8,200.5 669.2,200.8 669.6,201.0 670.0,201.3 670.4,201.5 670.8,201.7 671.2,202.0 671.6,202.2 672.0,202.5 672.4,202.7 672.8,203.0 673.2,203.2 673.6,203.5 674.0,203.7 674.4,203.9 674.8,204.2 675.2,204.4 675.6,204.7 676.0,204.9 676.4,205.2 676.8,205.4 677.2,205.6 677.6,205.9 678.0,206.1 678.4,206.4 678.8,206.6 679.2,206.8 679.6,207.1 680.0,207.3 680.4,207.5 680.8,207.8 681.2,208.0 681.6,208.2 682.0,208.5 682.4,208.7 682.8,208.9 683.1,209.1 683.6,209.4 684.0,209.6 684.4,209.9 684.8,210.1 685.2,210.3 685.6,210.6 686.0,210.8 686.4,211.0 686.8,211.3 687.2,211.5 687.6,211.7 688.0,212.0 688.4,212.2 688.8,212.4 689.2,212.7 689.6,212.9 690.0,213.1 690.4,213.3 690.8,213.6 691.2,213.8 691.6,214.0 692.0,214.3 692.4,214.5 692.8,214.7 693.2,215.0 693.6,215.2 694.0,215.4 694.4,215.6 694.8,215.9 695.2,216.1 695.6,216.3 696.0,216.5 696.4,216.8 696.8,217.0 697.2,217.2 697.6,217.4 698.0,217.7 698.4,217.9 698.8,218.1 699.2,218.3 699.6,218.6 700.0,218.8 700.4,219.0 700.8,219.2 701.2,219.5 701.6,219.7 702.0,219.9 702.4,220.1 702.8,220.3 703.2,220.6 703.6,220.8 704.0,221.0 704.4,221.2 704.8,221.5 705.2,221.7 705.6,221.9 706.0,222.1 706.4,222.3 706.8,222.6 707.2,222.8 707.6,223.0 708.0,223.2 708.4,223.4 708.8,223.6 709.2,223.9 709.6,224.1 710.0,224.3 710.4,224.5 710.8,224.7 711.2,225.0 711.6,225.2 712.0,225.4 712.4,225.6 712.8,225.8 713.2,226.0 713.6,226.3 714.0,226.5 714.4,226.7 714.8,226.9 715.2,227.1 715.6,227.3 716.0,227.5 716.4,227.8 716.8,228.0 717.2,228.2 717.6,228.4 718.0,228.6 718.4,228.8 718.8,229.0 719.2,229.3 719.6,229.5 720.0,229.7 720.4,229.9 720.8,230.1 721.2,230.3 721.6,230.5 722.0,230.7 722.4,231.0 722.8,231.2 723.2,231.4 723.6,231.6 724.0,231.8 724.4,232.0 724.8,232.2 725.2,232.4 725.6,232.6 726.0,232.8 726.4,233.1 726.8,233.3 727.2,233.5 727.6,233.7 728.0,233.9 728.4,234.1 728.8,234.3 729.2,234.5 729.6,234.7 730.0,234.9 730.4,235.1 730.8,235.3 731.2,235.5 731.6,235.8 732.0,236.0 732.4,236.2 732.8,236.4 733.2,236.6 733.6,236.8 734.0,237.0 734.4,237.2 734.8,237.4 735.2,237.6 735.6,237.8 736.0,238.0 736.4,238.2 736.8,238.4 737.2,238.6 737.6,238.9 738.0,239.1 738.4,239.3 738.8,239.5 739.2,239.7 739.6,239.9 740.0,240.1 740.4,240.3 740.8,240.5 741.2,240.7 741.6,240.9 742.0,241.1 742.4,241.3 742.8,241.5 743.2,241.7 743.6,241.9 744.0,242.1 744.4,242.3 744.8,242.5 745.2,242.7 745.6,243.0 746.0,243.2 746.4,243.4 746.8,243.6 747.2,243.8 747.6,244.0 748.0,244.2 748.4,244.4 748.8,244.6 749.2,244.8 749.6,245.0 750.0,245.2 750.4,245.4 750.8,245.6 751.2,245.8 751.6,246.0 752.0,246.2 752.4,246.4 752.8,246.6 753.2,246.8 753.6,247.0 754.0,247.2 754.4,247.5 754.8,247.7 755.2,247.9 755.6,248.1 756.0,248.3 756.4,248.5 756.8,248.7 757.2,248.9 757.6,249.1 758.0,249.3 758.4,249.5 758.8,249.7 759.2,249.9 759.6,250.1 760.0,250.3 760.4,250.5 760.8,250.7 761.2,250.9 761.6,251.1 762.0,251.3 762.4,251.6 762.8,251.8 763.2,252.0 763.6,252.2 764.0,252.4 764.4,252.6 764.8,252.8 765.2,253.0 765.6,253.2 766.0,253.4 766.4,253.6 766.8,253.8 767.2,254.0 767.6,254.2 768.0,254.5 768.4,254.7 768.8,254.9 769.2,255.1 769.6,255.3 770.0,255.5 770.4,255.7 770.8,255.9 771.2,256.1 771.6,256.3 772.0,256.5 772.4,256.8 772.8,257.0 773.2,257.2 773.6,257.4 774.0,257.6 774.4,257.8 774.8,258.0 775.2,258.2 775.6,258.4 776.0,258.6 776.4,258.9 776.8,259.1 777.2,259.3 777.6,259.5 778.0,259.7 778.4,259.9 778.8,260.1 779.2,260.3 779.6,260.6 780.0,260.8 780.4,261.0 780.8,261.2 781.2,261.4 781.6,261.6 782.0,261.8 782.4,262.1 782.8,262.3 783.2,262.5 783.6,262.7 784.0,262.9 784.4,263.1 784.8,263.4 785.1,263.6 785.5,263.8 785.9,264.0 786.3,264.2 786.7,264.4 787.1,264.7 787.5,264.9 787.9,265.1 788.3,265.3 788.7,265.5 789.1,265.8 789.5,266.0 789.9,266.2 790.3,266.4 790.7,266.6 791.1,266.9 791.5,267.1 791.9,267.3 792.3,267.5 792.7,267.8 793.1,268.0 793.5,268.2 793.9,268.4 794.3,268.7 794.7,268.9 795.1,269.1 795.5,269.3 795.9,269.6 796.3,269.8 796.7,270.0 797.1,270.2 797.5,270.5 797.9,270.7 798.3,270.9 798.7,271.2 799.1,271.4 799.5,271.6 799.9,271.9 800.3,272.1 800.7,272.3 801.1,272.5 801.5,272.8 801.9,273.0 802.3,273.2 802.7,273.5 803.1,273.7 803.5,273.9 803.9,274.2 804.3,274.4 804.7,274.7 805.1,274.9 805.5,275.1 805.9,275.4 806.3,275.6 806.7,275.8 807.1,276.1 807.5,276.3 807.9,276.6 808.3,276.8 808.7,277.0 809.1,277.3 809.5,277.5 809.9,277.8 810.3,278.0 810.7,278.3 811.1,278.5 811.5,278.7 811.9,279.0 812.3,279.2 812.7,279.5 813.1,279.7 813.5,280.0 813.9,280.2 814.3,280.5 814.7,280.7 815.1,281.0 815.5,281.2 815.8,281.4 816.3,281.7 816.7,282.0 817.1,282.2 817.5,282.5 817.9,282.8 818.3,283.0 818.7,283.3 819.1,283.5 819.5,283.8 819.9,284.0 820.3,284.3 820.7,284.6 821.1,284.8 821.5,285.1 821.9,285.3 822.3,285.6 822.7,285.9 823.1,286.1 823.5,286.4 823.9,286.7 824.3,286.9 824.7,287.2 825.1,287.5 825.5,287.7 825.9,288.0 826.3,288.3 826.7,288.6 827.1,288.8 827.5,289.1 827.9,289.4 828.3,289.6 828.7,289.9 829.1,290.2 829.5,290.5 829.9,290.8 830.3,291.0 830.7,291.3 831.1,291.6 831.5,291.9 831.9,292.2 832.3,292.5 832.7,292.7 833.1,293.0 833.5,293.3 833.9,293.6 834.3,293.9 834.7,294.2 835.1,294.5 835.5,294.8 835.9,295.1 836.3,295.4 836.7,295.7 837.1,296.0 837.5,296.3 837.9,296.6 838.3,296.9 838.7,297.2 839.1,297.5 839.5,297.8 839.8,298.0 840.3,298.4 840.7,298.7 841.1,299.0 841.5,299.3 841.9,299.6 842.3,300.0 842.7,300.3 843.1,300.6 843.5,300.9 843.9,301.2 844.3,301.6 844.7,301.9 845.1,302.2 845.5,302.5 845.9,302.9 846.3,303.2 846.7,303.5 847.1,303.9 847.5,304.2 847.9,304.5 848.3,304.9 848.7,305.2 849.1,305.6 849.5,305.9 849.9,306.2 850.3,306.6 850.7,306.9 851.1,307.3 851.5,307.6 851.9,308.0 852.3,308.4 852.7,308.7 853.1,309.1 853.5,309.5 853.9,309.8 854.3,310.2 854.7,310.6 855.1,310.9 855.5,311.3 855.9,311.7 856.3,312.1 856.7,312.5 857.1,312.8 857.5,313.2 857.9,313.6 858.3,314.0 858.7,314.4 859.1,314.8 859.5,315.2 859.9,315.6 860.3,316.0 860.7,316.5 861.1,316.9 861.5,317.3 861.9,317.7 862.3,318.1 862.7,318.6 863.1,319.0 863.5,319.4 863.8,319.8 864.3,320.3 864.7,320.8 865.1,321.2 865.5,321.7 865.9,322.1 866.3,322.6 866.7,323.1 867.1,323.5 867.5,324.0 867.9,324.5 868.3,325.0 868.7,325.5 869.1,326.0 869.5,326.5 869.9,327.0 870.3,327.5 870.7,328.0 871.1,328.5 871.5,329.0 871.9,329.6 872.3,330.1 872.7,330.7 873.1,331.2 873.5,331.8 873.9,332.3 874.3,332.9 874.7,333.5 875.1,334.1 875.5,334.7 875.9,335.3 876.3,335.9 876.7,336.5 877.1,337.1 877.5,337.8 877.9,338.4 878.3,339.1 878.5,339.4 878.7,339.8 879.1,340.4 879.5,341.1 879.9,341.8 880.3,342.5 880.7,343.3 881.1,344.0 881.5,344.7 881.9,345.5 882.3,346.3 882.7,347.1 883.1,347.9 883.5,348.7 883.9,349.5 884.3,350.4 884.7,351.3 884.9,351.8 885.1,352.2 885.5,353.1 885.9,354.0 886.3,355.0 886.7,355.9 887.1,357.0 887.4,357.9 887.9,359.0 888.3,360.1 888.7,361.3 889.1,362.4 889.5,363.6 889.9,364.8 890.3,366.1 890.7,367.4 891.1,368.8 891.4,369.8 891.5,370.2 891.9,371.6 892.3,373.2 892.7,374.8 892.9,375.7 893.1,376.4 893.5,378.1 893.9,380.0 894.2,381.5 894.3,381.9 894.7,383.9 895.1,386.0 895.3,387.3 895.5,388.3 895.9,390.7 896.2,393.1 896.7,396.1 897.0,398.9 897.1,399.2 897.5,402.5 897.7,404.6 897.9,406.2 898.3,410.3 898.7,414.9 898.8,416.0 899.1,420.2 899.2,421.7 899.5,426.5 899.5,427.4 899.8,433.0 899.9,434.2 900.1,438.7 900.3,444.1 900.5,450.0 900.6,455.7 900.7,458.0 900.7,461.3 900.9,466.9 901.0,472.6 901.0,478.2 901.1,481.8 901.1,483.8 901.2,489.5 901.2,495.1 901.2,500.7 901.3,506.0" stroke="#ff0000" stroke-width="2.6" stroke-dasharray="9 9.5" stroke-dashoffset="4.74"/>
</g>
<text transform="translate(110.93,506.80) scale(0.2894,0.2809)" class="g">2</text>
<rect x="92.60" y="499.25" width="16.40" height="1.30" fill="#000"/>
<text transform="translate(305.70,506.80) scale(0.2613,0.2787)" class="g">1</text>
<rect x="287.10" y="499.25" width="16.30" height="1.30" fill="#000"/>
<text transform="translate(500.05,507.03) scale(0.2761,0.2801)" class="g">0</text>
<text transform="translate(694.80,506.80) scale(0.2613,0.2787)" class="g">1</text>
<text transform="translate(888.93,506.80) scale(0.2894,0.2809)" class="g">2</text>
<text transform="translate(52.90,436.03) scale(0.2613,0.2711)" class="g">1</text>
<text transform="translate(66.02,436.46) scale(0.2831,0.2816)" class="g">0</text>
<rect x="82.00" y="420.83" width="13.10" height="1.00" fill="#000"/>
<text transform="translate(96.60,426.63) scale(0.2045,0.1893)" class="g">1</text>
<text transform="translate(69.82,278.90) scale(0.2599,0.2772)" class="g">1</text>
<text transform="translate(82.90,279.51) scale(0.2879,0.2919)" class="g">0</text>
<text transform="translate(96.77,269.70) scale(0.2171,0.2060)" class="g">0</text>
<text transform="translate(69.82,121.57) scale(0.2599,0.2772)" class="g">1</text>
<text transform="translate(82.90,122.18) scale(0.2879,0.2919)" class="g">0</text>
<text transform="translate(96.05,111.87) scale(0.2102,0.1984)" class="g">1</text>
<text transform="translate(452.62,545.33) scale(0.2920,0.3275)" class="g">(</text>
<text transform="translate(463.05,545.10) scale(0.2784,0.3014)" class="g">1</text>
<rect x="486.90" y="536.85" width="17.60" height="1.30" fill="#000"/>
<text transform="translate(514.97,545.50) scale(0.3306,0.3028)" class="g" font-style="italic">z</text>
<text transform="translate(528.98,545.56) scale(0.2842,0.3309)" class="g">)</text>
<text transform="translate(541.60,551.58) scale(0.4103,0.4350)" class="g">/</text>
<text transform="translate(556.17,545.08) scale(0.3031,0.2873)" class="g" font-style="italic">ρ</text>
<text transform="translate(569.87,534.20) scale(0.2345,0.2175)" class="g">2</text>
<text transform="translate(26.72,250.22) rotate(-90) scale(0.2783,0.2863)" class="g" font-style="italic">ω</text>
<text transform="translate(33.47,228.50) rotate(-90) scale(0.4103,0.4440)" class="g">/</text>
<text transform="translate(26.72,216.45) rotate(-90) scale(0.2846,0.2863)" class="g" font-style="italic">ω</text>
<text transform="translate(30.72,196.34) rotate(-90) scale(0.2158,0.2105)" class="g" font-style="italic">p</text>
<text transform="translate(1.60,23.77) scale(0.3193,0.2834)" class="g">(</text>
<text transform="translate(11.35,24.89) scale(0.3190,0.3036)" class="g" font-style="italic">a</text>
<text transform="translate(26.98,23.77) scale(0.3154,0.2834)" class="g">)</text>
<path d="M119.00,1072v-8.1 M119.00,600v8.1 M216.25,1072v-8.1 M216.25,600v8.1 M313.50,1072v-8.1 M313.50,600v8.1 M410.75,1072v-8.1 M410.75,600v8.1 M508.00,1072v-8.1 M508.00,600v8.1 M605.25,1072v-8.1 M605.25,600v8.1 M702.50,1072v-8.1 M702.50,600v8.1 M799.75,1072v-8.1 M799.75,600v8.1 M897.00,1072v-8.1 M897.00,600v8.1 M119,1072.20h8.1 M917,1072.20h-8.1 M119,1021.02h4.2 M917,1021.02h-4.2 M119,991.09h4.2 M917,991.09h-4.2 M119,969.85h4.2 M917,969.85h-4.2 M119,953.38h4.2 M917,953.38h-4.2 M119,939.91h4.2 M917,939.91h-4.2 M119,928.53h4.2 M917,928.53h-4.2 M119,918.67h4.2 M917,918.67h-4.2 M119,909.98h4.2 M917,909.98h-4.2 M119,902.20h8.1 M917,902.20h-8.1 M119,851.02h4.2 M917,851.02h-4.2 M119,821.09h4.2 M917,821.09h-4.2 M119,799.85h4.2 M917,799.85h-4.2 M119,783.38h4.2 M917,783.38h-4.2 M119,769.91h4.2 M917,769.91h-4.2 M119,758.53h4.2 M917,758.53h-4.2 M119,748.67h4.2 M917,748.67h-4.2 M119,739.98h4.2 M917,739.98h-4.2 M119,732.20h8.1 M917,732.20h-8.1 M119,681.02h4.2 M917,681.02h-4.2 M119,651.09h4.2 M917,651.09h-4.2 M119,629.85h4.2 M917,629.85h-4.2 M119,613.38h4.2 M917,613.38h-4.2 M119,599.91h4.2 M917,599.91h-4.2" stroke="#000" stroke-width="2" stroke-linecap="round" fill="none"/>
<rect x="119" y="600" width="798" height="472" fill="none" stroke="#000" stroke-width="2"/>
<clipPath id="clipb"><rect x="119" y="599.6" width="798" height="472.8"/></clipPath>
<g clip-path="url(#clipb)" fill="none" stroke-linejoin="round">
<path d="M119.0,793.8 119.3,793.8 119.7,793.8 120.0,793.7 120.6,793.7 121.1,793.6 121.5,793.6 122.0,793.6 122.5,793.5 123.2,793.4 123.7,793.4 124.2,793.3 124.7,793.3 125.3,793.2 125.8,793.2 126.3,793.1 126.8,793.1 127.3,793.0 127.9,793.0 128.4,792.9 128.9,792.9 129.4,792.8 130.0,792.8 130.5,792.7 131.0,792.7 131.5,792.6 132.0,792.6 132.6,792.5 133.1,792.5 133.6,792.4 134.1,792.4 134.5,792.3 135.2,792.3 135.7,792.2 136.2,792.2 136.7,792.1 137.3,792.1 137.8,792.0 138.3,792.0 138.8,791.9 139.4,791.9 139.9,791.8 140.4,791.8 140.9,791.7 141.4,791.7 142.0,791.6 142.5,791.6 143.0,791.5 143.5,791.5 144.0,791.4 144.5,791.4 145.1,791.3 145.6,791.3 146.1,791.2 146.7,791.2 147.2,791.1 147.7,791.1 148.2,791.0 148.7,791.0 149.3,790.9 149.8,790.9 150.3,790.8 150.8,790.8 151.4,790.7 151.9,790.6 152.4,790.6 152.9,790.5 153.4,790.5 154.0,790.4 154.4,790.4 155.0,790.3 155.5,790.3 156.1,790.2 156.6,790.2 157.1,790.1 157.6,790.1 158.1,790.0 158.7,790.0 159.2,789.9 159.7,789.9 160.2,789.8 160.7,789.8 161.3,789.7 161.8,789.7 162.3,789.6 162.8,789.6 163.4,789.5 163.9,789.5 164.4,789.4 164.9,789.4 165.4,789.3 166.0,789.2 166.5,789.2 167.0,789.1 167.5,789.1 168.1,789.0 168.6,789.0 169.1,788.9 169.6,788.9 170.1,788.8 170.7,788.8 171.2,788.7 171.7,788.7 172.2,788.6 172.7,788.6 173.3,788.5 173.8,788.5 174.3,788.4 174.8,788.4 175.4,788.3 175.9,788.3 176.4,788.2 176.9,788.2 177.4,788.1 178.0,788.0 178.5,788.0 179.0,787.9 179.5,787.9 180.1,787.8 180.6,787.8 181.1,787.7 181.6,787.7 182.1,787.6 182.7,787.6 183.2,787.5 183.7,787.5 184.2,787.4 184.8,787.4 185.3,787.3 185.8,787.3 186.3,787.2 186.8,787.2 187.3,787.1 187.9,787.1 188.4,787.0 188.9,786.9 189.4,786.9 190.0,786.8 190.5,786.8 191.0,786.7 191.5,786.7 192.1,786.6 192.6,786.6 193.1,786.5 193.6,786.5 194.1,786.4 194.7,786.4 195.2,786.3 195.7,786.3 196.2,786.2 196.8,786.2 197.3,786.1 197.8,786.0 198.3,786.0 198.8,785.9 199.4,785.9 199.9,785.8 200.4,785.8 200.9,785.7 201.5,785.7 202.0,785.6 202.5,785.6 203.0,785.5 203.5,785.5 204.1,785.4 204.6,785.4 205.1,785.3 205.6,785.2 206.1,785.2 206.7,785.1 207.2,785.1 207.7,785.0 208.2,785.0 208.8,784.9 209.3,784.9 209.8,784.8 210.3,784.8 210.8,784.7 211.4,784.7 211.9,784.6 212.4,784.5 212.9,784.5 213.5,784.4 213.9,784.4 214.5,784.3 215.0,784.3 215.5,784.2 216.1,784.2 216.6,784.1 217.1,784.1 217.6,784.0 218.1,783.9 218.7,783.9 219.2,783.8 219.7,783.8 220.2,783.7 220.8,783.7 221.3,783.6 221.8,783.6 222.3,783.5 222.8,783.4 223.4,783.4 223.9,783.3 224.4,783.3 224.9,783.2 225.5,783.2 226.0,783.1 226.5,783.0 227.0,783.0 227.5,782.9 228.1,782.9 228.6,782.8 229.1,782.8 229.6,782.7 230.2,782.6 230.7,782.6 231.2,782.5 231.7,782.5 232.2,782.4 232.8,782.4 233.3,782.3 233.8,782.2 234.3,782.2 234.8,782.1 235.4,782.1 235.9,782.0 236.4,782.0 236.9,781.9 237.5,781.8 238.0,781.8 238.5,781.7 239.0,781.7 239.5,781.6 240.1,781.5 240.6,781.5 241.1,781.4 241.6,781.4 242.2,781.3 242.7,781.2 243.2,781.2 243.7,781.1 244.2,781.1 244.8,781.0 245.3,780.9 245.8,780.9 246.3,780.8 246.9,780.8 247.4,780.7 247.9,780.6 248.4,780.6 248.9,780.5 249.5,780.4 250.0,780.4 250.5,780.3 250.9,780.3 251.5,780.2 252.1,780.1 252.6,780.1 253.1,780.0 253.6,779.9 254.2,779.9 254.7,779.8 255.2,779.7 255.7,779.7 256.2,779.6 256.8,779.6 257.3,779.5 257.8,779.4 258.3,779.4 258.9,779.3 259.4,779.2 259.9,779.2 260.4,779.1 260.9,779.0 261.5,779.0 262.0,778.9 262.5,778.8 263.0,778.8 263.5,778.7 264.1,778.6 264.6,778.6 265.1,778.5 265.6,778.4 266.2,778.4 266.7,778.3 267.2,778.2 267.7,778.2 268.2,778.1 268.8,778.0 269.3,778.0 269.8,777.9 270.3,777.8 270.9,777.8 271.4,777.7 271.9,777.6 272.4,777.6 272.9,777.5 273.5,777.4 274.0,777.3 274.5,777.3 275.0,777.2 275.6,777.1 276.1,777.1 276.6,777.0 277.1,776.9 277.6,776.9 278.2,776.8 278.7,776.7 279.2,776.6 279.7,776.6 280.2,776.5 280.8,776.4 281.3,776.4 281.8,776.3 282.3,776.2 282.9,776.1 283.4,776.1 283.9,776.0 284.4,775.9 284.9,775.8 285.5,775.8 286.0,775.7 286.5,775.6 287.0,775.6 287.6,775.5 288.1,775.4 288.6,775.3 289.1,775.3 289.6,775.2 290.2,775.1 290.7,775.0 291.2,775.0 291.7,774.9 292.3,774.8 292.8,774.7 293.3,774.7 293.8,774.6 294.3,774.5 294.9,774.4 295.4,774.3 295.9,774.3 296.4,774.2 296.9,774.1 297.5,774.0 298.0,774.0 298.5,773.9 299.0,773.8 299.6,773.7 300.1,773.6 300.6,773.6 301.1,773.5 301.6,773.4 302.2,773.3 302.7,773.3 303.2,773.2 303.7,773.1 304.3,773.0 304.8,772.9 305.3,772.8 305.8,772.8 306.3,772.7 306.9,772.6 307.4,772.5 307.9,772.4 308.4,772.4 308.9,772.3 309.5,772.2 310.0,772.1 310.5,772.0 311.0,772.0 311.6,771.9 312.1,771.8 312.6,771.7 313.1,771.6 313.6,771.5 314.2,771.5 314.7,771.4 315.2,771.3 315.7,771.2 316.3,771.1 316.8,771.0 317.3,770.9 317.8,770.9 318.3,770.8 318.9,770.7 319.4,770.6 319.9,770.5 320.4,770.4 321.0,770.3 321.5,770.3 322.0,770.2 322.5,770.1 323.0,770.0 323.6,769.9 324.1,769.8 324.6,769.7 325.1,769.6 325.6,769.6 326.2,769.5 326.7,769.4 327.2,769.3 327.7,769.2 328.3,769.1 328.8,769.0 329.3,768.9 329.8,768.8 330.3,768.7 330.9,768.7 331.4,768.6 331.9,768.5 332.4,768.4 333.0,768.3 333.5,768.2 334.0,768.1 334.5,768.0 335.0,767.9 335.6,767.8 336.1,767.7 336.6,767.6 337.1,767.5 337.7,767.5 338.2,767.4 338.7,767.3 339.2,767.2 339.7,767.1 340.3,767.0 340.8,766.9 341.3,766.8 341.8,766.7 342.3,766.6 342.9,766.5 343.4,766.4 343.9,766.3 344.4,766.2 345.0,766.1 345.5,766.0 346.0,765.9 346.5,765.8 347.0,765.7 347.6,765.6 348.1,765.5 348.6,765.4 349.1,765.3 349.7,765.2 350.2,765.1 350.7,765.0 351.2,764.9 351.7,764.8 352.3,764.7 352.8,764.6 353.3,764.5 353.8,764.4 354.3,764.3 354.9,764.2 355.4,764.1 355.9,764.0 356.4,763.9 357.0,763.8 357.5,763.7 358.0,763.6 358.5,763.5 359.0,763.4 359.6,763.3 360.1,763.1 360.6,763.0 361.1,762.9 361.7,762.8 362.2,762.7 362.7,762.6 363.2,762.5 363.7,762.4 364.3,762.3 364.8,762.2 365.3,762.1 365.8,762.0 366.4,761.8 366.9,761.7 367.4,761.6 367.9,761.5 368.4,761.4 369.0,761.3 369.5,761.2 370.0,761.1 370.5,760.9 371.0,760.8 371.6,760.7 372.1,760.6 372.6,760.5 373.1,760.4 373.7,760.2 374.2,760.1 374.7,760.0 375.2,759.9 375.7,759.8 376.3,759.7 376.8,759.5 377.3,759.4 377.8,759.3 378.4,759.2 378.9,759.1 379.4,758.9 379.9,758.8 380.4,758.7 381.0,758.6 381.5,758.4 382.0,758.3 382.5,758.2 383.1,758.1 383.6,757.9 384.1,757.8 384.6,757.7 385.1,757.6 385.7,757.4 386.2,757.3 386.7,757.2 387.2,757.0 387.7,756.9 388.3,756.8 388.8,756.7 389.3,756.5 389.8,756.4 390.4,756.3 390.9,756.1 391.4,756.0 391.9,755.9 392.4,755.7 393.0,755.6 393.5,755.4 394.0,755.3 394.5,755.2 395.1,755.0 395.6,754.9 396.1,754.7 396.6,754.6 397.1,754.5 397.7,754.3 398.2,754.2 398.7,754.0 399.2,753.9 399.7,753.7 400.3,753.6 400.8,753.5 401.3,753.3 401.8,753.2 402.4,753.0 402.9,752.9 403.4,752.7 403.9,752.6 404.4,752.4 405.0,752.3 405.5,752.1 406.0,752.0 406.5,751.8 407.1,751.6 407.6,751.5 408.1,751.3 408.6,751.2 409.1,751.0 409.7,750.9 410.2,750.7 410.7,750.5 411.2,750.4 411.8,750.2 412.3,750.1 412.8,749.9 413.3,749.7 413.8,749.6 414.4,749.4 414.9,749.3 415.4,749.1 415.9,748.9 416.4,748.8 417.0,748.6 417.5,748.4 418.0,748.3 418.5,748.1 419.1,747.9 419.6,747.8 420.1,747.6 420.6,747.4 421.1,747.2 421.7,747.1 422.2,746.9 422.7,746.7 423.2,746.6 423.8,746.4 424.1,746.3 424.8,746.0 425.3,745.9 425.8,745.7 426.4,745.5 426.9,745.3 427.4,745.2 427.9,745.0 428.5,744.8 429.0,744.6 429.5,744.5 430.0,744.3 430.5,744.1 431.1,743.9 431.6,743.7 432.1,743.6 432.6,743.4 433.1,743.2 433.7,743.0 434.2,742.8 434.7,742.6 435.2,742.5 435.8,742.3 436.3,742.1 436.8,741.9 437.3,741.7 437.8,741.5 438.4,741.3 438.9,741.1 439.4,740.9 439.9,740.7 440.5,740.6 441.0,740.4 441.5,740.2 442.0,740.0 442.5,739.8 443.1,739.6 443.6,739.3 444.1,739.1 444.6,738.9 445.1,738.7 445.7,738.5 446.2,738.3 446.7,738.1 447.2,737.9 447.8,737.7 448.3,737.5 448.8,737.2 449.3,737.0 449.8,736.8 450.4,736.6 450.9,736.4 451.4,736.1 451.9,735.9 452.5,735.7 453.0,735.5 453.5,735.2 454.0,735.0 454.5,734.8 455.1,734.5 455.4,734.4 456.1,734.1 456.6,733.8 457.2,733.6 457.7,733.4 458.2,733.1 458.7,732.9 459.2,732.6 459.8,732.4 460.3,732.1 460.8,731.9 461.3,731.6 461.8,731.4 462.4,731.1 462.9,730.9 463.4,730.6 463.9,730.4 464.5,730.1 465.0,729.8 465.5,729.6 466.0,729.3 466.5,729.0 467.1,728.8 467.6,728.5 468.1,728.2 468.6,727.9 469.2,727.6 469.7,727.3 470.2,727.0 470.7,726.7 471.2,726.4 471.8,726.1 472.3,725.8 472.8,725.5 473.3,725.2 473.9,724.9 474.4,724.6 474.9,724.3 475.4,723.9 475.9,723.6 476.5,723.3 477.0,722.9 477.5,722.6 478.0,722.2 478.5,721.9 479.1,721.5 479.6,721.1 480.1,720.7 480.6,720.4 481.2,720.0 481.7,719.6 482.2,719.2 482.7,718.8 483.2,718.3 483.8,717.9 484.3,717.5 484.8,717.0 485.3,716.6 485.9,716.1 486.4,715.6 486.8,715.2 487.4,714.6 487.9,714.1 488.5,713.6 489.0,713.1 489.5,712.6 490.0,712.1 490.5,711.6 491.1,711.1 491.6,710.6 492.1,710.1 492.6,709.5 493.2,709.0 493.7,708.4 494.2,707.8 494.7,707.2 495.2,706.6 495.8,706.0 496.3,705.3 496.8,704.6 497.3,703.9 497.9,703.2 498.4,702.4 498.9,701.6 499.4,700.9 499.9,700.1 500.5,699.3 501.0,698.5 501.5,697.7 502.0,696.8 502.6,695.9 503.1,694.8 503.6,693.8 504.1,692.6 504.6,691.3 505.2,690.0 505.7,688.7 505.9,688.2 506.2,687.6 506.7,686.4 507.2,684.9 507.8,683.2 508.3,681.2 508.8,678.9 509.3,676.9 509.9,674.7 510.4,672.9 510.9,672.3 511.4,674.7 511.9,676.0 512.5,677.0 513.0,677.5 513.5,677.9 514.0,679.7 514.4,681.1 514.6,681.9 515.1,684.1 515.6,686.2 516.1,688.3 516.6,690.3 517.2,692.3 517.6,694.1 518.2,696.3 518.7,698.4 519.3,700.6 519.8,702.8 520.3,705.1 520.4,705.6 520.8,707.4 521.3,709.8 521.9,712.2 522.4,714.7 522.8,716.6 522.9,717.3 523.4,719.9 523.9,722.5 524.5,725.3 524.8,726.8 525.0,728.1 525.5,730.9 526.0,733.9 526.5,736.3 526.6,736.9 527.1,740.0 527.6,743.3 527.9,745.2 528.1,746.7 528.6,750.2 529.1,753.7 529.2,754.0 529.7,758.0 530.2,761.8 530.2,762.2 530.7,766.8 531.0,769.6 531.3,771.7 531.8,777.1 532.3,783.1 532.4,784.6 532.8,789.9 532.9,791.8 533.3,797.7 533.4,798.8 533.8,805.7 533.9,807.1 534.1,812.4 534.4,818.8 534.6,825.6 534.8,832.1 534.9,834.8 535.0,838.5 535.1,844.9 535.3,851.2 535.4,857.5 535.4,861.5 535.5,863.8 535.5,870.0 535.6,876.2 535.6,882.4 535.7,888.5 535.7,894.7 535.8,900.8 535.8,906.9 535.8,913.1 535.8,919.2 535.9,925.3 535.9,931.4 535.9,937.5 535.9,943.6 535.9,949.7 535.9,955.7 535.9,961.8 535.9,967.9 535.9,974.0 535.9,980.1 535.9,986.1 535.9,992.2 535.9,998.3 535.9,1004.4 535.9,1010.4 535.9,1016.5 535.9,1022.6 535.9,1028.7 535.9,1034.7 535.9,1040.8 535.9,1046.9 535.9,1053.0 535.9,1059.0 535.9,1065.1 535.9,1071.2 535.9,1077.3 535.9,1083.3 535.9,1089.4 535.9,1095.5 535.9,1101.5 535.9,1102.0" stroke="#ff0000" stroke-width="2.6" stroke-linecap="round"/>
<path d="M119.0,784.2 119.3,784.2 119.7,784.2 120.0,784.1 120.6,784.1 121.1,784.0 121.5,783.9 122.0,783.9 122.5,783.8 123.2,783.8 123.7,783.7 124.2,783.6 124.7,783.6 125.3,783.5 125.8,783.5 126.3,783.4 126.8,783.3 127.3,783.3 127.9,783.2 128.4,783.2 128.9,783.1 129.4,783.0 130.0,783.0 130.5,782.9 131.0,782.9 131.5,782.8 132.0,782.7 132.6,782.7 133.1,782.6 133.6,782.6 134.1,782.5 134.5,782.5 135.2,782.4 135.7,782.3 136.2,782.3 136.7,782.2 137.3,782.1 137.8,782.1 138.3,782.0 138.8,782.0 139.4,781.9 139.9,781.8 140.4,781.8 140.9,781.7 141.4,781.6 142.0,781.6 142.5,781.5 143.0,781.5 143.5,781.4 144.0,781.3 144.5,781.3 145.1,781.2 145.6,781.2 146.1,781.1 146.7,781.0 147.2,781.0 147.7,780.9 148.2,780.8 148.7,780.8 149.3,780.7 149.8,780.7 150.3,780.6 150.8,780.5 151.4,780.5 151.9,780.4 152.4,780.3 152.9,780.3 153.4,780.2 154.0,780.2 154.4,780.1 155.0,780.0 155.5,780.0 156.1,779.9 156.6,779.9 157.1,779.8 157.6,779.7 158.1,779.7 158.7,779.6 159.2,779.5 159.7,779.5 160.2,779.4 160.7,779.4 161.3,779.3 161.8,779.2 162.3,779.2 162.8,779.1 163.4,779.0 163.9,779.0 164.4,778.9 164.9,778.9 165.4,778.8 166.0,778.7 166.5,778.7 167.0,778.6 167.5,778.5 168.1,778.5 168.6,778.4 169.1,778.3 169.6,778.3 170.1,778.2 170.7,778.2 171.2,778.1 171.7,778.0 172.2,778.0 172.7,777.9 173.3,777.8 173.8,777.8 174.3,777.7 174.8,777.7 175.4,777.6 175.9,777.5 176.4,777.5 176.9,777.4 177.4,777.3 178.0,777.3 178.5,777.2 179.0,777.1 179.5,777.1 180.1,777.0 180.6,777.0 181.1,776.9 181.6,776.8 182.1,776.8 182.7,776.7 183.2,776.6 183.7,776.6 184.2,776.5 184.8,776.5 185.3,776.4 185.8,776.3 186.3,776.3 186.8,776.2 187.3,776.1 187.9,776.1 188.4,776.0 188.9,775.9 189.4,775.9 190.0,775.8 190.5,775.8 191.0,775.7 191.5,775.6 192.1,775.6 192.6,775.5 193.1,775.4 193.6,775.4 194.1,775.3 194.7,775.2 195.2,775.2 195.7,775.1 196.2,775.0 196.8,775.0 197.3,774.9 197.8,774.9 198.3,774.8 198.8,774.7 199.4,774.7 199.9,774.6 200.4,774.5 200.9,774.5 201.5,774.4 202.0,774.3 202.5,774.3 203.0,774.2 203.5,774.1 204.1,774.1 204.6,774.0 205.1,773.9 205.6,773.9 206.1,773.8 206.7,773.7 207.2,773.7 207.7,773.6 208.2,773.5 208.8,773.5 209.3,773.4 209.8,773.3 210.3,773.3 210.8,773.2 211.4,773.1 211.9,773.1 212.4,773.0 212.9,772.9 213.5,772.9 213.9,772.8 214.5,772.7 215.0,772.7 215.5,772.6 216.1,772.5 216.6,772.5 217.1,772.4 217.6,772.3 218.1,772.3 218.7,772.2 219.2,772.1 219.7,772.1 220.2,772.0 220.8,771.9 221.3,771.9 221.8,771.8 222.3,771.7 222.8,771.6 223.4,771.6 223.9,771.5 224.4,771.4 224.9,771.4 225.5,771.3 226.0,771.2 226.5,771.2 227.0,771.1 227.5,771.0 228.1,770.9 228.6,770.9 229.1,770.8 229.6,770.7 230.2,770.7 230.7,770.6 231.2,770.5 231.7,770.4 232.2,770.4 232.8,770.3 233.3,770.2 233.8,770.2 234.3,770.1 234.8,770.0 235.4,769.9 235.9,769.9 236.4,769.8 236.9,769.7 237.5,769.6 238.0,769.6 238.5,769.5 239.0,769.4 239.5,769.3 240.1,769.3 240.6,769.2 241.1,769.1 241.6,769.0 242.2,769.0 242.7,768.9 243.2,768.8 243.7,768.7 244.2,768.7 244.8,768.6 245.3,768.5 245.8,768.4 246.3,768.3 246.9,768.3 247.4,768.2 247.9,768.1 248.4,768.0 248.9,767.9 249.5,767.9 250.0,767.8 250.5,767.7 250.9,767.7 251.5,767.6 252.1,767.5 252.6,767.4 253.1,767.3 253.6,767.2 254.2,767.1 254.7,767.1 255.2,767.0 255.7,766.9 256.2,766.8 256.8,766.7 257.3,766.7 257.8,766.6 258.3,766.5 258.9,766.4 259.4,766.3 259.9,766.2 260.4,766.1 260.9,766.1 261.5,766.0 262.0,765.9 262.5,765.8 263.0,765.7 263.5,765.6 264.1,765.6 264.6,765.5 265.1,765.4 265.6,765.3 266.2,765.2 266.7,765.1 267.2,765.0 267.7,764.9 268.2,764.9 268.8,764.8 269.3,764.7 269.8,764.6 270.3,764.5 270.9,764.4 271.4,764.3 271.9,764.2 272.4,764.1 272.9,764.1 273.5,764.0 274.0,763.9 274.5,763.8 275.0,763.7 275.6,763.6 276.1,763.5 276.6,763.4 277.1,763.3 277.6,763.2 278.2,763.1 278.7,763.0 279.2,763.0 279.7,762.9 280.2,762.8 280.8,762.7 281.3,762.6 281.8,762.5 282.3,762.4 282.9,762.3 283.4,762.2 283.9,762.1 284.4,762.0 284.9,761.9 285.5,761.8 286.0,761.7 286.5,761.6 287.0,761.5 287.6,761.4 288.1,761.3 288.6,761.2 289.1,761.1 289.6,761.0 290.2,760.9 290.7,760.8 291.2,760.7 291.7,760.6 292.3,760.6 292.8,760.5 293.3,760.4 293.8,760.3 294.3,760.2 294.9,760.1 295.4,760.0 295.9,759.9 296.4,759.8 296.9,759.6 297.5,759.5 298.0,759.4 298.5,759.3 299.0,759.2 299.6,759.1 300.1,759.0 300.6,758.9 301.1,758.8 301.6,758.7 302.2,758.6 302.7,758.5 303.2,758.4 303.7,758.3 304.3,758.2 304.8,758.1 305.3,758.0 305.8,757.9 306.3,757.8 306.9,757.7 307.4,757.6 307.9,757.5 308.4,757.4 308.9,757.3 309.5,757.1 310.0,757.0 310.5,756.9 311.0,756.8 311.6,756.7 312.1,756.6 312.6,756.5 313.1,756.4 313.6,756.3 314.2,756.2 314.7,756.1 315.2,756.0 315.7,755.8 316.3,755.7 316.8,755.6 317.3,755.5 317.8,755.4 318.3,755.3 318.9,755.2 319.4,755.1 319.9,755.0 320.4,754.8 321.0,754.7 321.5,754.6 322.0,754.5 322.5,754.4 323.0,754.3 323.6,754.2 324.1,754.0 324.6,753.9 325.1,753.8 325.6,753.7 326.2,753.6 326.7,753.5 327.2,753.4 327.7,753.2 328.3,753.1 328.8,753.0 329.3,752.9 329.8,752.8 330.3,752.7 330.9,752.5 331.4,752.4 331.9,752.3 332.4,752.2 333.0,752.1 333.5,751.9 334.0,751.8 334.5,751.7 335.0,751.6 335.6,751.5 336.1,751.3 336.6,751.2 337.1,751.1 337.7,751.0 338.2,750.9 338.7,750.7 339.2,750.6 339.7,750.5 340.3,750.4 340.8,750.2 341.3,750.1 341.8,750.0 342.3,749.9 342.9,749.7 343.4,749.6 343.9,749.5 344.4,749.4 345.0,749.2 345.5,749.1 346.0,749.0 346.5,748.9 347.0,748.7 347.6,748.6 348.1,748.5 348.6,748.4 349.1,748.2 349.7,748.1 350.2,748.0 350.7,747.8 351.2,747.7 351.7,747.6 352.3,747.4 352.8,747.3 353.3,747.2 353.8,747.0 354.3,746.9 354.9,746.8 355.4,746.6 355.9,746.5 356.4,746.4 357.0,746.2 357.5,746.1 358.0,746.0 358.5,745.8 359.0,745.7 359.6,745.6 360.1,745.4 360.6,745.3 361.1,745.2 361.7,745.0 362.2,744.9 362.7,744.7 363.2,744.6 363.7,744.5 364.3,744.3 364.8,744.2 365.3,744.0 365.8,743.9 366.4,743.7 366.9,743.6 367.4,743.5 367.9,743.3 368.4,743.2 369.0,743.0 369.5,742.9 370.0,742.7 370.5,742.6 371.0,742.4 371.6,742.3 372.1,742.1 372.6,742.0 373.1,741.8 373.7,741.7 374.2,741.5 374.7,741.4 375.2,741.2 375.7,741.1 376.3,740.9 376.8,740.8 377.3,740.6 377.8,740.5 378.4,740.3 378.9,740.2 379.4,740.0 379.9,739.8 380.4,739.7 381.0,739.5 381.5,739.4 382.0,739.2 382.5,739.0 383.1,738.9 383.6,738.7 384.1,738.6 384.6,738.4 385.1,738.2 385.7,738.1 386.2,737.9 386.7,737.7 387.2,737.6 387.7,737.4 388.3,737.2 388.8,737.1 389.3,736.9 389.8,736.7 390.4,736.6 390.9,736.4 391.4,736.2 391.9,736.0 392.4,735.9 393.0,735.7 393.5,735.5 394.0,735.3 394.5,735.2 395.1,735.0 395.6,734.8 396.1,734.6 396.6,734.4 397.1,734.3 397.7,734.1 398.2,733.9 398.7,733.7 399.2,733.5 399.7,733.3 400.3,733.2 400.8,733.0 401.3,732.8 401.8,732.6 402.4,732.4 402.9,732.2 403.4,732.0 403.9,731.8 404.4,731.6 405.0,731.4 405.5,731.3 406.0,731.1 406.5,730.9 407.1,730.7 407.6,730.5 408.1,730.3 408.6,730.1 409.1,729.9 409.7,729.7 410.2,729.5 410.7,729.3 411.2,729.1 411.8,728.9 412.3,728.7 412.8,728.4 413.3,728.2 413.8,728.0 414.4,727.8 414.9,727.6 415.4,727.4 415.9,727.2 416.4,727.0 417.0,726.8 417.5,726.6 418.0,726.3 418.5,726.1 419.1,725.9 419.6,725.7 420.1,725.5 420.6,725.3 421.1,725.1 421.7,724.8 422.2,724.6 422.7,724.4 423.2,724.2 423.8,724.0 424.1,723.8 424.8,723.5 425.3,723.3 425.8,723.1 426.4,722.8 426.9,722.6 427.4,722.4 427.9,722.2 428.5,721.9 429.0,721.7 429.5,721.5 430.0,721.2 430.5,721.0 431.1,720.8 431.6,720.5 432.1,720.3 432.6,720.1 433.1,719.8 433.7,719.6 434.2,719.4 434.7,719.1 435.2,718.9 435.8,718.6 436.3,718.4 436.8,718.2 437.3,717.9 437.8,717.7 438.4,717.4 438.9,717.2 439.4,716.9 439.9,716.7 440.5,716.4 441.0,716.1 441.5,715.9 442.0,715.6 442.5,715.4 443.1,715.1 443.6,714.8 444.1,714.6 444.6,714.3 445.1,714.0 445.7,713.8 446.2,713.5 446.7,713.2 447.2,712.9 447.8,712.6 448.3,712.4 448.8,712.1 449.3,711.8 449.8,711.5 450.4,711.2 450.9,710.9 451.4,710.6 451.9,710.3 452.5,710.0 453.0,709.7 453.5,709.4 454.0,709.1 454.5,708.8 455.1,708.5 455.4,708.3 456.1,707.9 456.6,707.6 457.2,707.3 457.7,707.0 458.2,706.7 458.7,706.3 459.2,706.0 459.8,705.7 460.3,705.4 460.8,705.0 461.3,704.7 461.8,704.4 462.4,704.0 462.9,703.7 463.4,703.4 463.9,703.0 464.5,702.7 465.0,702.3 465.5,702.0 466.0,701.6 466.5,701.3 467.1,700.9 467.6,700.5 468.1,700.2 468.6,699.8 469.2,699.4 469.7,699.0 470.2,698.7 470.7,698.3 471.2,697.9 471.8,697.5 472.3,697.1 472.8,696.7 473.3,696.3 473.9,695.8 474.4,695.4 474.9,695.0 475.4,694.6 475.9,694.1 476.5,693.7 477.0,693.2 477.5,692.8 478.0,692.3 478.5,691.9 479.1,691.4 479.6,690.9 480.1,690.5 480.6,690.0 481.2,689.5 481.7,689.0 482.2,688.4 482.7,687.9 483.2,687.4 483.8,686.8 484.3,686.3 484.8,685.7 485.3,685.1 485.9,684.5 486.4,683.9 486.8,683.5 487.4,682.7 487.9,682.1 488.5,681.5 489.0,680.9 489.5,680.2 490.0,679.6 490.5,679.0 491.1,678.3 491.6,677.7 492.1,677.0 492.6,676.4 493.2,675.7 493.7,675.0 494.2,674.3 494.7,673.5 495.2,672.8 495.8,672.0 496.3,671.2 496.8,670.3 497.3,669.5 497.9,668.6 498.4,667.7 498.9,666.8 499.4,665.9 499.9,665.0 500.5,664.0 501.0,663.1 501.5,662.1 502.0,661.0 502.6,659.9 503.1,658.8 503.6,657.5 504.1,656.2 504.6,654.7 505.2,653.2 505.7,651.8 505.9,651.2 506.2,650.5 506.7,649.1 507.2,647.5 507.8,645.6 508.3,643.4 508.8,640.9 509.3,638.8 509.9,636.4 510.4,632.2 510.5,631.9 510.9,631.4 511.4,633.6 511.9,634.8 512.5,635.5 513.0,635.9 513.5,636.1 514.0,637.7 514.4,639.0 514.6,639.8 515.1,641.7 515.6,643.7 516.1,645.6 516.6,647.4 517.2,649.1 517.6,650.7 518.2,652.7 518.7,654.6 519.3,656.6 519.8,658.6 520.3,660.7 520.4,661.1 520.8,662.8 521.3,664.9 521.9,667.2 522.4,669.4 522.8,671.1 522.9,671.7 523.4,674.1 523.9,676.5 524.5,679.0 524.8,680.5 525.0,681.6 525.5,684.2 526.0,686.9 526.5,689.2 526.6,689.7 527.1,692.6 527.6,695.6 527.9,697.4 528.1,698.7 528.6,702.0 529.1,705.2 529.2,705.5 529.7,709.2 530.2,712.8 530.2,713.2 530.7,717.5 531.0,720.2 531.3,722.2 531.8,727.3 532.3,733.0 532.4,734.4 532.8,739.5 532.9,741.3 533.3,747.1 533.4,748.1 533.8,754.8 533.9,756.1 534.1,761.3 534.4,767.5 534.6,774.2 534.8,780.6 534.9,783.3 535.0,786.9 535.1,793.2 535.3,799.5 535.4,805.7 535.4,809.6 535.5,811.9 535.5,818.1 535.6,824.2 535.6,830.4 535.7,836.5 535.7,842.6 535.8,848.7 535.8,854.9 535.8,861.0 535.8,867.1 535.9,873.2 535.9,879.2 535.9,885.3 535.9,891.4 535.9,897.5 535.9,903.6 535.9,909.7 535.9,915.7 535.9,921.8 535.9,927.9 535.9,934.0 535.9,940.1 535.9,946.1 535.9,952.2 535.9,958.3 535.9,964.4 535.9,970.4 535.9,976.5 535.9,982.6 535.9,988.6 535.9,994.7 535.9,1000.8 535.9,1006.9 535.9,1012.9 535.9,1019.0 535.9,1025.1 535.9,1031.1 535.9,1037.2 535.9,1043.3 535.9,1049.4 535.9,1055.4 535.9,1061.5 535.9,1067.6 535.9,1073.6 535.9,1079.7 535.9,1085.8 535.9,1091.9 535.9,1097.9 535.9,1102.0" stroke="#ff0000" stroke-width="2.6" stroke-dasharray="9 9.5" stroke-dashoffset="11.37"/>
<path d="M119.0,766.3 119.3,766.3 119.7,766.2 120.1,766.2 120.4,766.1 120.7,766.1 121.1,766.0 121.4,765.9 121.9,765.9 122.2,765.8 122.6,765.8 122.9,765.7 123.3,765.6 123.7,765.6 124.0,765.5 124.4,765.5 124.7,765.4 125.1,765.3 125.4,765.3 125.8,765.2 126.2,765.2 126.5,765.1 126.9,765.0 127.2,765.0 127.6,764.9 127.9,764.9 128.3,764.8 128.7,764.7 129.0,764.7 129.4,764.6 129.7,764.6 130.1,764.5 130.4,764.4 130.8,764.4 131.2,764.3 131.5,764.3 131.9,764.2 132.2,764.1 132.6,764.1 133.0,764.0 133.3,764.0 133.7,763.9 134.0,763.8 134.4,763.8 134.7,763.7 135.1,763.6 135.5,763.6 135.8,763.5 136.2,763.5 136.5,763.4 136.9,763.3 137.2,763.3 137.6,763.2 138.0,763.1 138.3,763.1 138.7,763.0 139.0,763.0 139.4,762.9 139.7,762.8 140.1,762.8 140.5,762.7 140.8,762.6 141.2,762.6 141.5,762.5 141.9,762.5 142.3,762.4 142.6,762.3 143.0,762.3 143.3,762.2 143.7,762.1 144.0,762.1 144.4,762.0 144.8,762.0 145.1,761.9 145.5,761.8 145.8,761.8 146.2,761.7 146.5,761.6 146.9,761.6 147.3,761.5 147.6,761.4 148.0,761.4 148.3,761.3 148.7,761.2 149.1,761.2 149.4,761.1 149.8,761.1 150.1,761.0 150.5,760.9 150.8,760.9 151.2,760.8 151.6,760.7 151.9,760.7 152.3,760.6 152.6,760.5 153.0,760.5 153.3,760.4 153.7,760.3 154.1,760.3 154.4,760.2 154.8,760.1 155.1,760.1 155.5,760.0 155.8,759.9 156.2,759.9 156.6,759.8 156.9,759.7 157.3,759.7 157.6,759.6 158.0,759.5 158.4,759.5 158.7,759.4 159.1,759.4 159.4,759.3 159.8,759.2 160.1,759.2 160.5,759.1 160.9,759.0 161.2,759.0 161.6,758.9 161.9,758.8 162.3,758.8 162.6,758.7 163.0,758.6 163.4,758.5 163.7,758.5 164.1,758.4 164.4,758.3 164.8,758.3 165.2,758.2 165.5,758.1 165.8,758.1 166.2,758.0 166.6,757.9 166.9,757.9 167.3,757.8 167.7,757.7 168.0,757.7 168.4,757.6 168.7,757.5 169.1,757.5 169.4,757.4 169.8,757.3 170.2,757.3 170.5,757.2 170.9,757.1 171.2,757.1 171.6,757.0 171.9,756.9 172.3,756.8 172.7,756.8 173.0,756.7 173.4,756.6 173.7,756.6 174.1,756.5 174.5,756.4 174.8,756.4 175.2,756.3 175.5,756.2 175.9,756.2 176.2,756.1 176.6,756.0 177.0,755.9 177.3,755.9 177.7,755.8 178.0,755.7 178.4,755.7 178.7,755.6 179.1,755.5 179.5,755.5 179.8,755.4 180.2,755.3 180.5,755.3 180.9,755.2 181.2,755.1 181.6,755.0 182.0,755.0 182.3,754.9 182.7,754.8 183.0,754.8 183.4,754.7 183.8,754.6 184.1,754.6 184.5,754.5 184.8,754.4 185.2,754.3 185.5,754.3 185.9,754.2 186.3,754.1 186.6,754.1 187.0,754.0 187.3,753.9 187.7,753.8 188.0,753.8 188.4,753.7 188.8,753.6 189.1,753.6 189.5,753.5 189.8,753.4 190.2,753.3 190.6,753.3 190.9,753.2 191.3,753.1 191.6,753.0 192.0,753.0 192.3,752.9 192.7,752.8 193.1,752.8 193.4,752.7 193.8,752.6 194.1,752.5 194.5,752.5 194.8,752.4 195.2,752.3 195.6,752.3 195.9,752.2 196.3,752.1 196.6,752.0 197.0,752.0 197.3,751.9 197.7,751.8 198.1,751.7 198.4,751.7 198.8,751.6 199.1,751.5 199.5,751.4 199.9,751.4 200.2,751.3 200.6,751.2 200.9,751.1 201.3,751.1 201.6,751.0 202.0,750.9 202.4,750.9 202.7,750.8 203.1,750.7 203.4,750.6 203.8,750.6 204.1,750.5 204.5,750.4 204.9,750.3 205.2,750.3 205.6,750.2 205.9,750.1 206.3,750.0 206.7,750.0 207.0,749.9 207.4,749.8 207.7,749.7 208.1,749.6 208.4,749.6 208.8,749.5 209.2,749.4 209.5,749.3 209.9,749.3 210.2,749.2 210.6,749.1 210.9,749.0 211.3,749.0 211.7,748.9 212.0,748.8 212.4,748.7 212.7,748.6 213.1,748.6 213.4,748.5 213.8,748.4 214.2,748.3 214.5,748.3 214.9,748.2 215.2,748.1 215.6,748.0 216.0,747.9 216.3,747.9 216.7,747.8 217.0,747.7 217.4,747.6 217.7,747.5 218.1,747.5 218.5,747.4 218.8,747.3 219.2,747.2 219.5,747.1 219.9,747.1 220.2,747.0 220.6,746.9 221.0,746.8 221.3,746.7 221.7,746.7 222.0,746.6 222.4,746.5 222.7,746.4 223.1,746.3 223.5,746.2 223.8,746.2 224.2,746.1 224.5,746.0 224.9,745.9 225.3,745.8 225.6,745.7 226.0,745.7 226.3,745.6 226.7,745.5 227.0,745.4 227.4,745.3 227.8,745.2 228.1,745.2 228.5,745.1 228.8,745.0 229.2,744.9 229.5,744.8 229.9,744.7 230.3,744.6 230.6,744.6 231.0,744.5 231.3,744.4 231.7,744.3 232.1,744.2 232.4,744.1 232.8,744.0 233.1,743.9 233.5,743.9 233.8,743.8 234.2,743.7 234.6,743.6 234.9,743.5 235.3,743.4 235.6,743.3 236.0,743.2 236.3,743.1 236.7,743.0 237.1,743.0 237.4,742.9 237.8,742.8 238.1,742.7 238.5,742.6 238.8,742.5 239.2,742.4 239.6,742.3 239.9,742.2 240.3,742.1 240.6,742.0 241.0,741.9 241.4,741.9 241.7,741.8 242.1,741.7 242.4,741.6 242.8,741.5 243.1,741.4 243.5,741.3 243.9,741.2 244.2,741.1 244.6,741.0 244.9,740.9 245.3,740.8 245.6,740.7 246.0,740.6 246.4,740.5 246.7,740.4 247.1,740.3 247.4,740.2 247.8,740.1 248.2,740.0 248.5,739.9 248.9,739.8 249.2,739.7 249.6,739.6 249.9,739.5 250.3,739.4 250.7,739.3 251.0,739.2 251.4,739.1 251.7,739.0 252.1,738.9 252.4,738.8 252.8,738.7 253.2,738.6 253.5,738.5 253.9,738.4 254.2,738.3 254.6,738.2 254.9,738.1 255.3,738.0 255.7,737.9 256.0,737.8 256.4,737.7 256.7,737.6 257.1,737.5 257.5,737.4 257.8,737.3 258.2,737.2 258.5,737.1 258.9,736.9 259.2,736.8 259.6,736.7 260.0,736.6 260.3,736.5 260.7,736.4 261.0,736.3 261.4,736.2 261.7,736.1 262.1,736.0 262.5,735.9 262.8,735.8 263.2,735.6 263.5,735.5 263.9,735.4 264.2,735.3 264.6,735.2 265.0,735.1 265.3,735.0 265.7,734.9 266.0,734.8 266.4,734.6 266.8,734.5 267.1,734.4 267.5,734.3 267.8,734.2 268.2,734.1 268.5,734.0 268.9,733.8 269.3,733.7 269.6,733.6 270.0,733.5 270.3,733.4 270.7,733.3 271.0,733.2 271.4,733.0 271.8,732.9 272.1,732.8 272.5,732.7 272.8,732.6 273.2,732.4 273.6,732.3 273.9,732.2 274.3,732.1 274.6,732.0 275.0,731.8 275.3,731.7 275.7,731.6 276.1,731.5 276.4,731.4 276.8,731.2 277.1,731.1 277.5,731.0 277.8,730.9 278.2,730.8 278.6,730.6 278.9,730.5 279.3,730.4 279.6,730.3 280.0,730.1 280.3,730.0 280.7,729.9 281.1,729.8 281.4,729.6 281.8,729.5 282.1,729.4 282.5,729.2 282.9,729.1 283.2,729.0 283.6,728.9 283.9,728.7 284.3,728.6 284.6,728.5 285.0,728.3 285.4,728.2 285.7,728.1 286.1,728.0 286.4,727.8 286.8,727.7 287.1,727.6 287.5,727.4 287.9,727.3 288.2,727.2 288.6,727.0 288.9,726.9 289.3,726.8 289.7,726.6 290.0,726.5 290.4,726.4 290.7,726.2 291.1,726.1 291.4,725.9 291.8,725.8 292.2,725.7 292.5,725.5 292.9,725.4 293.2,725.3 293.6,725.1 293.9,725.0 294.3,724.8 294.7,724.7 295.0,724.6 295.4,724.4 295.7,724.3 296.1,724.1 296.4,724.0 296.8,723.8 297.2,723.7 297.5,723.6 297.9,723.4 298.2,723.3 298.6,723.1 299.0,723.0 299.3,722.8 299.7,722.7 300.0,722.5 300.4,722.4 300.7,722.2 301.1,722.1 301.5,721.9 301.8,721.8 302.2,721.6 302.5,721.5 302.9,721.3 303.2,721.2 303.6,721.0 304.0,720.9 304.3,720.7 304.7,720.6 305.0,720.4 305.4,720.3 305.7,720.1 306.1,719.9 306.5,719.8 306.8,719.6 307.2,719.5 307.5,719.3 307.9,719.2 308.3,719.0 308.6,718.8 309.0,718.7 309.3,718.5 309.7,718.4 310.0,718.2 310.4,718.0 310.8,717.9 311.1,717.7 311.5,717.5 311.8,717.4 312.2,717.2 312.5,717.1 312.9,716.9 313.3,716.7 313.6,716.6 314.0,716.4 314.3,716.2 314.7,716.0 315.1,715.9 315.4,715.7 315.8,715.5 316.1,715.4 316.5,715.2 316.8,715.0 317.2,714.8 317.6,714.7 317.9,714.5 318.3,714.3 318.6,714.1 319.0,714.0 319.3,713.8 319.7,713.6 320.1,713.4 320.4,713.2 320.8,713.1 321.1,712.9 321.5,712.7 321.8,712.5 322.2,712.3 322.6,712.2 322.9,712.0 323.3,711.8 323.6,711.6 324.0,711.4 324.4,711.2 324.7,711.0 325.1,710.8 325.4,710.7 325.8,710.5 326.1,710.3 326.5,710.1 326.9,709.9 327.2,709.7 327.6,709.5 327.9,709.3 328.3,709.1 328.6,708.9 329.0,708.7 329.4,708.5 329.7,708.3 330.1,708.1 330.4,707.9 330.8,707.7 331.2,707.5 331.5,707.3 331.9,707.1 332.2,706.9 332.6,706.7 332.9,706.5 333.3,706.3 333.7,706.0 334.0,705.8 334.4,705.6 334.7,705.4 335.1,705.2 335.4,705.0 335.8,704.8 336.2,704.5 336.5,704.3 336.9,704.1 337.2,703.9 337.6,703.7 337.9,703.4 338.3,703.2 338.7,703.0 339.0,702.8 339.4,702.5 339.7,702.3 340.1,702.1 340.5,701.8 340.8,701.6 341.2,701.4 341.5,701.1 341.9,700.9 342.2,700.7 342.6,700.4 343.0,700.2 343.3,699.9 343.7,699.7 344.0,699.5 344.4,699.2 344.7,699.0 345.1,698.7 345.5,698.5 345.8,698.2 346.2,698.0 346.5,697.7 346.9,697.5 347.2,697.2 347.6,696.9 348.0,696.7 348.3,696.4 348.7,696.2 349.0,695.9 349.4,695.6 349.7,695.4 350.1,695.1 350.5,694.8 350.8,694.6 351.2,694.3 351.5,694.0 351.9,693.7 352.3,693.4 352.6,693.2 353.0,692.9 353.3,692.6 353.7,692.3 354.0,692.0 354.4,691.7 354.8,691.4 355.1,691.1 355.5,690.8 355.8,690.5 356.2,690.2 356.6,689.9 356.9,689.6 357.3,689.3 357.6,689.0 358.0,688.7 358.3,688.4 358.7,688.1 359.1,687.8 359.4,687.4 359.8,687.1 360.1,686.8 360.5,686.5 360.8,686.1 361.2,685.8 361.6,685.5 361.9,685.1 362.3,684.8 362.6,684.4 363.0,684.1 363.3,683.7 363.7,683.4 364.1,683.0 364.4,682.7 364.8,682.3 365.1,682.0 365.5,681.6 365.9,681.2 366.2,680.8 366.6,680.5 366.9,680.1 367.3,679.7 367.6,679.3 368.0,678.9 368.4,678.5 368.7,678.1 369.1,677.7 369.4,677.3 369.8,676.9 370.1,676.5 370.5,676.1 370.9,675.6 371.2,675.3 371.6,674.8 371.9,674.4 372.3,673.9 372.7,673.5 373.0,673.0 373.4,672.6 373.7,672.1 374.1,671.6 374.4,671.2 374.8,670.7 375.2,670.2 375.5,669.7 375.9,669.2 376.2,668.7 376.6,668.2 376.9,667.7 377.3,667.2 377.7,666.7 378.0,666.2 378.4,665.6 378.7,665.1 379.1,664.5 379.4,664.0 379.8,663.4 380.2,662.8 380.5,662.3 380.9,661.7 381.2,661.1 381.6,660.5 382.0,659.9 382.3,659.2 382.7,658.6 383.0,658.0 383.4,657.3 383.7,656.6 384.1,656.0 384.3,655.6 384.5,655.3 384.8,654.6 385.2,653.9 385.5,653.1 385.9,652.4 386.2,651.7 386.6,650.9 387.0,650.1 387.3,649.3 387.7,648.5 388.0,647.7 388.4,646.9 388.7,646.0 389.1,645.1 389.5,644.2 389.8,643.3 390.0,642.7 390.2,642.4 390.5,641.4 390.9,640.4 391.3,639.4 391.6,638.4 392.0,637.3 392.3,636.4 392.7,635.1 393.0,634.0 393.4,632.8 393.8,631.6 394.1,630.3 394.5,629.0 394.8,627.7 395.2,626.3 395.5,624.8 395.8,623.7 395.9,623.3 396.3,621.8 396.6,620.1 397.0,618.4 397.2,617.5 397.3,616.7 397.7,614.8 398.1,612.9 398.3,611.2 398.4,610.8 398.8,608.7 399.1,606.4 399.3,605.0 399.5,603.9 399.8,601.3 400.2,598.8 400.6,595.5 400.9,592.6 400.9,592.3 401.3,588.7 401.5,586.4 401.6,584.7 402.0,580.3 402.3,575.3 402.4,574.1 402.7,570.0" stroke="#ff0000" stroke-width="2.6" stroke-dasharray="2.1 2.55"/>
<path d="M537.4,1102.0 537.4,1098.4 537.4,1092.4 537.4,1086.3 537.4,1080.2 537.4,1074.1 537.4,1068.1 537.4,1062.0 537.4,1055.9 537.4,1049.9 537.4,1043.8 537.4,1037.7 537.4,1031.6 537.4,1025.6 537.4,1019.5 537.4,1013.4 537.4,1007.4 537.4,1001.3 537.4,995.2 537.4,989.2 537.4,983.1 537.4,977.0 537.4,971.0 537.4,964.9 537.4,958.8 537.4,952.8 537.5,946.7 537.5,940.7 537.5,934.6 537.5,928.6 537.5,922.5 537.5,916.5 537.5,910.5 537.5,904.4 537.6,898.4 537.6,892.4 537.6,886.4 537.7,880.4 537.7,874.5 537.8,868.5 537.8,862.6 537.9,860.5 537.9,856.7 538.0,850.8 538.1,845.0 538.2,839.2 538.3,835.9 538.4,833.5 538.5,827.8 538.7,822.2 539.0,816.6 539.2,812.3 539.3,811.2 539.6,805.8 539.7,805.0 540.0,800.6 540.1,799.2 540.4,795.4 540.5,794.4 541.0,790.4 541.4,786.9 541.6,785.6 541.9,783.9 542.3,781.2 542.8,778.8 543.2,776.6 543.7,774.7 544.1,772.9 544.3,772.1 544.6,771.2 545.0,769.7 545.5,768.3 545.9,767.0 546.4,765.8 546.8,764.6 547.0,764.2 547.3,763.6 547.7,762.6 548.2,761.7 548.6,760.8 549.1,760.0 549.5,759.3 550.0,758.6 550.4,757.9 550.8,757.4 551.3,756.7 551.8,756.1 552.2,755.6 552.7,755.1 553.1,754.6 553.6,754.2 554.0,753.8 554.5,753.4 554.9,753.0 555.4,752.7 555.8,752.4 556.3,752.1 556.7,751.8 557.2,751.5 557.6,751.2 558.0,751.0 558.5,750.8 558.9,750.6 559.3,750.4 559.8,750.2 560.3,750.0 560.7,749.8 561.2,749.7 561.6,749.5 562.1,749.4 562.5,749.3 563.0,749.1 563.4,749.0 563.9,748.9 564.3,748.9 564.8,748.8 565.2,748.7 565.7,748.6 566.1,748.6 566.6,748.5 567.0,748.5 567.5,748.5 567.8,748.4 568.4,748.4 568.8,748.4 569.3,748.4 569.7,748.4 570.2,748.4 570.6,748.4 571.1,748.4 571.5,748.4 572.0,748.5 572.4,748.5 572.9,748.5 573.3,748.6 573.8,748.6 574.2,748.7 574.7,748.7 575.1,748.8 575.5,748.8 576.0,748.9 576.4,749.0 576.9,749.1 577.3,749.1 577.8,749.2 578.2,749.3 578.7,749.4 579.1,749.5 579.6,749.6 580.0,749.7 580.5,749.8 580.9,749.9 581.4,750.0 581.8,750.1 582.3,750.2 582.7,750.3 583.2,750.4 583.6,750.5 584.1,750.7 584.5,750.8 585.0,750.9 585.4,751.0 585.9,751.1 586.3,751.3 586.8,751.4 587.2,751.5 587.7,751.7 588.1,751.8 588.6,751.9 589.0,752.1 589.5,752.2 589.9,752.3 590.4,752.5 590.8,752.6 591.3,752.8 591.7,752.9 592.2,753.0 592.6,753.2 593.0,753.3 593.5,753.5 593.9,753.6 594.4,753.8 594.8,753.9 595.3,754.1 595.7,754.2 596.1,754.4 596.6,754.5 597.1,754.7 597.5,754.8 598.0,755.0 598.4,755.1 598.9,755.3 599.3,755.5 599.8,755.6 600.2,755.8 600.7,755.9 601.1,756.1 601.6,756.2 602.0,756.4 602.5,756.6 602.9,756.7 603.4,756.9 603.8,757.0 604.3,757.2 604.7,757.4 605.2,757.5 605.6,757.7 606.1,757.8 606.5,758.0 607.0,758.2 607.4,758.3 607.9,758.5 608.3,758.7 608.8,758.8 609.2,759.0 609.7,759.1 610.1,759.3 610.5,759.5 611.0,759.6 611.4,759.8 611.9,760.0 612.3,760.1 612.8,760.3 613.2,760.5 613.7,760.6 614.1,760.8 614.6,761.0 615.0,761.1 615.5,761.3 615.9,761.5 616.4,761.6 616.8,761.8 617.3,762.0 617.7,762.1 618.2,762.3 618.6,762.5 619.0,762.6 619.5,762.8 620.0,763.0 620.4,763.2 620.9,763.3 621.3,763.5 621.8,763.7 622.2,763.8 622.7,764.0 623.1,764.2 623.6,764.4 624.0,764.5 624.5,764.7 624.9,764.9 625.4,765.0 625.8,765.2 626.3,765.4 626.7,765.6 627.2,765.7 627.6,765.9 628.0,766.1 628.5,766.3 628.9,766.4 629.4,766.6 629.8,766.8 630.3,766.9 630.7,767.1 631.2,767.3 631.6,767.5 632.1,767.6 632.5,767.8 633.0,768.0 633.4,768.2 633.9,768.3 634.3,768.5 634.8,768.7 635.2,768.9 635.7,769.0 636.1,769.2 636.6,769.4 637.0,769.6 637.5,769.7 637.9,769.9 638.4,770.1 638.8,770.3 639.3,770.5 639.7,770.6 640.2,770.8 640.6,771.0 641.1,771.2 641.5,771.3 642.0,771.5 642.4,771.7 642.9,771.9 643.3,772.0 643.8,772.2 644.2,772.4 644.7,772.6 645.1,772.7 645.5,772.9 646.0,773.1 646.4,773.3 646.9,773.5 647.3,773.6 647.8,773.8 648.2,774.0 648.7,774.2 649.1,774.3 649.6,774.5 650.0,774.7 650.5,774.9 650.8,775.0 651.4,775.2 651.8,775.4 652.3,775.6 652.7,775.8 653.2,775.9 653.6,776.1 654.1,776.3 654.5,776.5 655.0,776.7 655.4,776.8 655.9,777.0 656.3,777.2 656.8,777.4 657.2,777.5 657.7,777.7 658.1,777.9 658.6,778.1 659.0,778.2 659.5,778.4 659.9,778.6 660.4,778.8 660.8,779.0 661.3,779.1 661.7,779.3 662.2,779.5 662.6,779.7 663.0,779.8 663.5,780.0 663.9,780.2 664.4,780.4 664.8,780.6 665.3,780.7 665.7,780.9 666.2,781.1 666.6,781.3 667.1,781.4 667.5,781.6 668.0,781.8 668.4,782.0 668.9,782.2 669.3,782.3 669.8,782.5 670.2,782.7 670.7,782.9 671.1,783.0 671.6,783.2 672.0,783.4 672.5,783.6 672.9,783.7 673.4,783.9 673.8,784.1 674.3,784.3 674.7,784.5 675.2,784.6 675.6,784.8 676.1,785.0 676.5,785.2 677.0,785.3 677.4,785.5 677.9,785.7 678.3,785.9 678.8,786.1 679.2,786.2 679.7,786.4 680.1,786.6 680.5,786.8 681.0,787.0 681.4,787.1 681.9,787.3 682.3,787.5 682.8,787.7 683.2,787.8 683.7,788.0 684.1,788.2 684.6,788.4 685.0,788.6 685.5,788.7 685.9,788.9 686.4,789.1 686.8,789.3 687.3,789.5 687.7,789.7 688.2,789.8 688.6,790.0 689.1,790.2 689.5,790.4 690.0,790.6 690.4,790.7 690.9,790.9 691.3,791.1 691.8,791.3 692.2,791.5 692.7,791.7 693.1,791.8 693.6,792.0 694.0,792.2 694.5,792.4 694.9,792.6 695.4,792.7 695.8,792.9 696.3,793.1 696.7,793.3 697.2,793.5 697.6,793.7 698.0,793.9 698.5,794.0 698.9,794.2 699.4,794.4 699.8,794.6 700.3,794.8 700.7,795.0 701.2,795.1 701.6,795.3 702.1,795.5 702.5,795.7 703.0,795.9 703.4,796.1 703.9,796.3 704.3,796.4 704.8,796.6 705.2,796.8 705.7,797.0 706.1,797.2 706.6,797.4 707.0,797.6 707.5,797.7 707.9,797.9 708.4,798.1 708.8,798.3 709.3,798.5 709.7,798.7 710.2,798.9 710.6,799.1 711.1,799.3 711.5,799.4 712.0,799.6 712.4,799.8 712.9,800.0 713.3,800.2 713.8,800.4 714.2,800.6 714.7,800.8 715.1,801.0 715.5,801.1 716.0,801.3 716.4,801.5 716.9,801.7 717.3,801.9 717.8,802.1 718.2,802.3 718.7,802.5 719.1,802.7 719.6,802.8 720.0,803.0 720.5,803.2 720.9,803.4 721.4,803.6 721.8,803.8 722.3,804.0 722.7,804.2 723.2,804.4 723.6,804.5 724.1,804.7 724.5,804.9 725.0,805.1 725.4,805.3 725.9,805.5 726.3,805.7 726.8,805.9 727.2,806.1 727.7,806.3 728.1,806.4 728.6,806.6 729.0,806.8 729.5,807.0 729.9,807.2 730.4,807.4 730.8,807.6 731.3,807.8 731.7,808.0 732.1,808.2 732.6,808.4 733.0,808.6 733.5,808.7 733.9,808.9 734.4,809.1 734.8,809.3 735.3,809.5 735.7,809.7 736.2,809.9 736.6,810.1 737.1,810.3 737.5,810.5 738.0,810.7 738.4,810.9 738.9,811.0 739.3,811.2 739.8,811.4 740.2,811.6 740.7,811.8 741.1,812.0 741.6,812.2 742.0,812.4 742.5,812.6 742.9,812.8 743.4,813.0 743.8,813.2 744.3,813.4 744.7,813.6 745.2,813.8 745.6,813.9 746.1,814.1 746.5,814.3 747.0,814.5 747.4,814.7 747.9,814.9 748.3,815.1 748.8,815.3 749.2,815.5 749.6,815.7 750.1,815.9 750.5,816.1 751.0,816.3 751.4,816.5 751.9,816.7 752.3,816.9 752.8,817.1 753.2,817.3 753.7,817.5 754.1,817.7 754.6,817.9 755.0,818.1 755.5,818.3 755.9,818.5 756.4,818.7 756.8,818.9 757.3,819.1 757.7,819.2 758.2,819.4 758.6,819.6 759.1,819.8 759.5,820.0 760.0,820.2 760.4,820.4 760.9,820.6 761.3,820.8 761.8,821.0 762.2,821.2 762.7,821.4 763.1,821.7 763.6,821.9 764.0,822.1 764.5,822.3 764.9,822.5 765.4,822.7 765.8,822.9 766.3,823.1 766.7,823.3 767.1,823.5 767.6,823.7 768.0,823.9 768.5,824.1 768.9,824.3 769.4,824.5 769.8,824.7 770.3,824.9 770.7,825.1 771.2,825.3 771.6,825.5 772.1,825.7 772.5,825.9 773.0,826.2 773.4,826.4 773.9,826.6 774.3,826.8 774.8,827.0 775.2,827.2 775.7,827.4 776.1,827.6 776.6,827.8 777.0,828.0 777.5,828.3 777.9,828.5 778.4,828.7 778.8,828.9 779.3,829.1 779.7,829.3 780.2,829.5 780.6,829.7 781.1,830.0 781.5,830.2 782.0,830.4 782.4,830.6 782.9,830.8 783.3,831.0 783.8,831.3 784.2,831.5 784.6,831.7 785.1,831.9 785.5,832.1 786.0,832.3 786.4,832.6 786.9,832.8 787.3,833.0 787.8,833.2 788.2,833.5 788.7,833.7 789.1,833.9 789.6,834.1 790.0,834.3 790.5,834.6 790.9,834.8 791.4,835.0 791.8,835.2 792.3,835.5 792.7,835.7 793.2,835.9 793.6,836.2 794.1,836.4 794.5,836.6 795.0,836.8 795.4,837.1 795.9,837.3 796.3,837.5 796.8,837.8 797.2,838.0 797.7,838.2 798.1,838.5 798.6,838.7 799.0,838.9 799.5,839.2 799.7,839.3 800.4,839.7 800.8,839.9 801.3,840.1 801.7,840.4 802.1,840.6 802.6,840.9 803.0,841.1 803.5,841.3 803.9,841.6 804.4,841.8 804.8,842.1 805.3,842.3 805.7,842.6 806.2,842.8 806.6,843.1 807.1,843.3 807.5,843.6 808.0,843.8 808.4,844.1 808.9,844.3 809.3,844.6 809.8,844.8 810.2,845.1 810.7,845.3 811.1,845.6 811.6,845.8 812.0,846.1 812.5,846.3 812.9,846.6 813.4,846.9 813.8,847.1 814.3,847.4 814.7,847.7 815.2,847.9 815.6,848.2 816.1,848.5 816.5,848.7 817.0,849.0 817.4,849.3 817.9,849.5 818.3,849.8 818.8,850.1 819.2,850.3 819.6,850.6 820.1,850.9 820.5,851.2 821.0,851.5 821.4,851.7 821.9,852.0 822.3,852.3 822.8,852.6 823.2,852.9 823.7,853.1 824.1,853.4 824.6,853.7 825.0,854.0 825.5,854.3 825.9,854.6 826.4,854.9 826.7,855.1 827.3,855.5 827.7,855.8 828.2,856.1 828.6,856.4 829.1,856.7 829.5,857.0 830.0,857.3 830.4,857.6 830.9,857.9 831.3,858.2 831.8,858.5 832.2,858.8 832.7,859.1 833.1,859.5 833.6,859.8 834.0,860.1 834.5,860.4 834.9,860.7 835.4,861.1 835.8,861.4 836.3,861.7 836.7,862.1 837.1,862.4 837.6,862.7 838.0,863.1 838.5,863.4 838.9,863.7 839.4,864.1 839.8,864.4 840.3,864.8 840.7,865.1 841.2,865.5 841.6,865.8 842.1,866.2 842.5,866.5 843.0,866.9 843.4,867.3 843.9,867.6 844.3,868.0 844.8,868.4 845.2,868.7 845.7,869.1 846.1,869.5 846.6,869.9 847.0,870.3 847.5,870.7 847.9,871.0 848.4,871.4 848.8,871.8 849.3,872.2 849.7,872.6 850.2,873.1 850.6,873.5 851.1,873.9 851.5,874.3 852.0,874.7 852.4,875.1 852.9,875.6 853.3,876.0 853.7,876.4 854.2,876.9 854.6,877.3 855.1,877.8 855.5,878.2 856.0,878.7 856.4,879.2 856.9,879.6 857.3,880.1 857.8,880.6 858.2,881.1 858.7,881.5 859.1,882.0 859.6,882.5 860.0,883.0 860.5,883.5 860.9,884.1 861.4,884.6 861.8,885.1 862.3,885.6 862.7,886.2 863.2,886.7 863.6,887.3 864.1,887.8 864.5,888.4 865.0,889.0 865.4,889.5 865.9,890.1 866.3,890.7 866.8,891.3 867.2,892.0 867.7,892.6 868.1,893.2 868.6,893.9 869.0,894.5 869.5,895.2 869.9,895.8 870.1,896.2 870.4,896.5 870.8,897.2 871.3,897.9 871.7,898.6 872.1,899.4 872.6,900.1 873.0,900.9 873.5,901.6 873.9,902.4 874.4,903.2 874.8,904.1 875.3,904.9 875.7,905.7 876.2,906.6 876.6,907.5 877.1,908.4 877.4,909.0 877.5,909.3 878.0,910.3 878.4,911.3 878.9,912.3 879.3,913.3 879.8,914.3 880.2,915.3 880.7,916.5 881.1,917.7 881.6,918.8 882.0,920.0 882.5,921.3 882.9,922.6 883.4,923.9 883.8,925.3 884.3,926.7 884.6,927.8 884.7,928.2 885.2,929.8 885.6,931.4 886.1,933.1 886.3,934.0 886.5,934.8 887.0,936.6 887.4,938.6 887.8,940.2 887.9,940.6 888.3,942.8 888.8,945.0 889.0,946.4 889.2,947.5 889.6,950.0 890.1,952.6 890.5,955.8 890.9,958.7 891.0,959.1 891.4,962.6 891.7,964.9 891.9,966.5 892.3,970.9 892.8,975.9 892.9,977.1 893.2,981.6 893.4,983.2 893.7,988.4 893.7,989.3 894.1,995.4 894.1,996.7 894.4,1001.5 894.6,1007.3 894.8,1013.7 895.0,1019.8 895.0,1022.3 895.1,1025.9 895.2,1031.9 895.3,1038.0 895.4,1044.1 895.5,1048.0 895.5,1050.2 895.6,1056.2 895.6,1062.3 895.7,1068.4 895.7,1074.5 895.7,1080.5 895.8,1086.6 895.8,1092.7 895.8,1098.8 895.8,1102.0" stroke="#ff0000" stroke-width="2.6" stroke-dasharray="2.1 2.55"/>
<path d="M119.0,803.7 119.3,803.7 119.7,803.6 120.0,803.6 120.6,803.6 121.1,803.5 121.5,803.5 122.0,803.5 122.5,803.4 123.2,803.4 123.7,803.3 124.2,803.3 124.7,803.3 125.3,803.2 125.8,803.2 126.3,803.1 126.8,803.1 127.3,803.1 127.9,803.0 128.4,803.0 128.9,802.9 129.4,802.9 130.0,802.9 130.5,802.8 131.0,802.8 131.5,802.7 132.0,802.7 132.6,802.7 133.1,802.6 133.6,802.6 134.1,802.5 134.5,802.5 135.2,802.5 135.7,802.4 136.2,802.4 136.7,802.3 137.3,802.3 137.8,802.3 138.3,802.2 138.8,802.2 139.4,802.1 139.9,802.1 140.4,802.1 140.9,802.0 141.4,802.0 142.0,801.9 142.5,801.9 143.0,801.9 143.5,801.8 144.0,801.8 144.5,801.8 145.1,801.7 145.6,801.7 146.1,801.6 146.7,801.6 147.2,801.5 147.7,801.5 148.2,801.5 148.7,801.4 149.3,801.4 149.8,801.3 150.3,801.3 150.8,801.3 151.4,801.2 151.9,801.2 152.4,801.1 152.9,801.1 153.4,801.1 154.0,801.0 154.4,801.0 155.0,800.9 155.5,800.9 156.1,800.8 156.6,800.8 157.1,800.8 157.6,800.7 158.1,800.7 158.7,800.6 159.2,800.6 159.7,800.6 160.2,800.5 160.7,800.5 161.3,800.4 161.8,800.4 162.3,800.3 162.8,800.3 163.4,800.3 163.9,800.2 164.4,800.2 164.9,800.1 165.4,800.1 166.0,800.1 166.5,800.0 167.0,800.0 167.5,799.9 168.1,799.9 168.6,799.8 169.1,799.8 169.6,799.8 170.1,799.7 170.7,799.7 171.2,799.6 171.7,799.6 172.2,799.5 172.7,799.5 173.3,799.5 173.8,799.4 174.3,799.4 174.8,799.3 175.4,799.3 175.9,799.2 176.4,799.2 176.9,799.1 177.4,799.1 178.0,799.1 178.5,799.0 179.0,799.0 179.5,798.9 180.1,798.9 180.6,798.8 181.1,798.8 181.6,798.8 182.1,798.7 182.7,798.7 183.2,798.6 183.7,798.6 184.2,798.5 184.8,798.5 185.3,798.4 185.8,798.4 186.3,798.4 186.8,798.3 187.3,798.3 187.9,798.2 188.4,798.2 188.9,798.1 189.4,798.1 190.0,798.0 190.5,798.0 191.0,798.0 191.5,797.9 192.1,797.9 192.6,797.8 193.1,797.8 193.6,797.7 194.1,797.7 194.7,797.6 195.2,797.6 195.7,797.5 196.2,797.5 196.8,797.4 197.3,797.4 197.8,797.4 198.3,797.3 198.8,797.3 199.4,797.2 199.9,797.2 200.4,797.1 200.9,797.1 201.5,797.0 202.0,797.0 202.5,796.9 203.0,796.9 203.5,796.8 204.1,796.8 204.6,796.7 205.1,796.7 205.6,796.7 206.1,796.6 206.7,796.6 207.2,796.5 207.7,796.5 208.2,796.4 208.8,796.4 209.3,796.3 209.8,796.3 210.3,796.2 210.8,796.2 211.4,796.1 211.9,796.1 212.4,796.0 212.9,796.0 213.5,795.9 213.9,795.9 214.5,795.8 215.0,795.8 215.5,795.7 216.1,795.7 216.6,795.6 217.1,795.6 217.6,795.5 218.1,795.5 218.7,795.4 219.2,795.4 219.7,795.3 220.2,795.3 220.8,795.2 221.3,795.2 221.8,795.1 222.3,795.1 222.8,795.0 223.4,795.0 223.9,794.9 224.4,794.9 224.9,794.8 225.5,794.8 226.0,794.7 226.5,794.7 227.0,794.6 227.5,794.6 228.1,794.5 228.6,794.5 229.1,794.4 229.6,794.4 230.2,794.3 230.7,794.3 231.2,794.2 231.7,794.2 232.2,794.1 232.8,794.1 233.3,794.0 233.8,794.0 234.3,793.9 234.8,793.9 235.4,793.8 235.9,793.8 236.4,793.7 236.9,793.7 237.5,793.6 238.0,793.6 238.5,793.5 239.0,793.4 239.5,793.4 240.1,793.3 240.6,793.3 241.1,793.2 241.6,793.2 242.2,793.1 242.7,793.1 243.2,793.0 243.7,793.0 244.2,792.9 244.8,792.9 245.3,792.8 245.8,792.7 246.3,792.7 246.9,792.6 247.4,792.6 247.9,792.5 248.4,792.5 248.9,792.4 249.5,792.4 250.0,792.3 250.5,792.3 250.9,792.2 251.5,792.1 252.1,792.1 252.6,792.0 253.1,792.0 253.6,791.9 254.2,791.9 254.7,791.8 255.2,791.8 255.7,791.7 256.2,791.6 256.8,791.6 257.3,791.5 257.8,791.5 258.3,791.4 258.9,791.4 259.4,791.3 259.9,791.2 260.4,791.2 260.9,791.1 261.5,791.1 262.0,791.0 262.5,790.9 263.0,790.9 263.5,790.8 264.1,790.8 264.6,790.7 265.1,790.7 265.6,790.6 266.2,790.5 266.7,790.5 267.2,790.4 267.7,790.4 268.2,790.3 268.8,790.2 269.3,790.2 269.8,790.1 270.3,790.1 270.9,790.0 271.4,789.9 271.9,789.9 272.4,789.8 272.9,789.8 273.5,789.7 274.0,789.6 274.5,789.6 275.0,789.5 275.6,789.4 276.1,789.4 276.6,789.3 277.1,789.3 277.6,789.2 278.2,789.1 278.7,789.1 279.2,789.0 279.7,788.9 280.2,788.9 280.8,788.8 281.3,788.8 281.8,788.7 282.3,788.6 282.9,788.6 283.4,788.5 283.9,788.4 284.4,788.4 284.9,788.3 285.5,788.2 286.0,788.2 286.5,788.1 287.0,788.0 287.6,788.0 288.1,787.9 288.6,787.8 289.1,787.8 289.6,787.7 290.2,787.7 290.7,787.6 291.2,787.5 291.7,787.5 292.3,787.4 292.8,787.3 293.3,787.3 293.8,787.2 294.3,787.1 294.9,787.0 295.4,787.0 295.9,786.9 296.4,786.8 296.9,786.8 297.5,786.7 298.0,786.6 298.5,786.6 299.0,786.5 299.6,786.4 300.1,786.4 300.6,786.3 301.1,786.2 301.6,786.2 302.2,786.1 302.7,786.0 303.2,785.9 303.7,785.9 304.3,785.8 304.8,785.7 305.3,785.7 305.8,785.6 306.3,785.5 306.9,785.4 307.4,785.4 307.9,785.3 308.4,785.2 308.9,785.2 309.5,785.1 310.0,785.0 310.5,784.9 311.0,784.9 311.6,784.8 312.1,784.7 312.6,784.6 313.1,784.6 313.6,784.5 314.2,784.4 314.7,784.4 315.2,784.3 315.7,784.2 316.3,784.1 316.8,784.1 317.3,784.0 317.8,783.9 318.3,783.8 318.9,783.8 319.4,783.7 319.9,783.6 320.4,783.5 321.0,783.4 321.5,783.4 322.0,783.3 322.5,783.2 323.0,783.1 323.6,783.1 324.1,783.0 324.6,782.9 325.1,782.8 325.6,782.8 326.2,782.7 326.7,782.6 327.2,782.5 327.7,782.4 328.3,782.4 328.8,782.3 329.3,782.2 329.8,782.1 330.3,782.1 330.9,782.0 331.4,781.9 331.9,781.8 332.4,781.7 333.0,781.7 333.5,781.6 334.0,781.5 334.5,781.4 335.0,781.3 335.6,781.3 336.1,781.2 336.6,781.1 337.1,781.0 337.7,780.9 338.2,780.8 338.7,780.8 339.2,780.7 339.7,780.6 340.3,780.5 340.8,780.4 341.3,780.4 341.8,780.3 342.3,780.2 342.9,780.1 343.4,780.0 343.9,779.9 344.4,779.9 345.0,779.8 345.5,779.7 346.0,779.6 346.5,779.5 347.0,779.4 347.6,779.3 348.1,779.3 348.6,779.2 349.1,779.1 349.7,779.0 350.2,778.9 350.7,778.8 351.2,778.7 351.7,778.7 352.3,778.6 352.8,778.5 353.3,778.4 353.8,778.3 354.3,778.2 354.9,778.1 355.4,778.0 355.9,778.0 356.4,777.9 357.0,777.8 357.5,777.7 358.0,777.6 358.5,777.5 359.0,777.4 359.6,777.3 360.1,777.2 360.6,777.2 361.1,777.1 361.7,777.0 362.2,776.9 362.7,776.8 363.2,776.7 363.7,776.6 364.3,776.5 364.8,776.4 365.3,776.3 365.8,776.2 366.4,776.1 366.9,776.1 367.4,776.0 367.9,775.9 368.4,775.8 369.0,775.7 369.5,775.6 370.0,775.5 370.5,775.4 371.0,775.3 371.6,775.2 372.1,775.1 372.6,775.0 373.1,774.9 373.7,774.8 374.2,774.7 374.7,774.6 375.2,774.5 375.7,774.4 376.3,774.3 376.8,774.2 377.3,774.1 377.8,774.0 378.4,773.9 378.9,773.8 379.4,773.7 379.9,773.6 380.4,773.5 381.0,773.4 381.5,773.3 382.0,773.2 382.5,773.1 383.1,773.0 383.6,772.9 384.1,772.8 384.6,772.7 385.1,772.6 385.7,772.5 386.2,772.4 386.7,772.3 387.2,772.2 387.7,772.1 388.3,772.0 388.8,771.9 389.3,771.8 389.8,771.7 390.4,771.6 390.9,771.4 391.4,771.3 391.9,771.2 392.4,771.1 393.0,771.0 393.5,770.9 394.0,770.8 394.5,770.7 395.1,770.6 395.6,770.5 396.1,770.3 396.6,770.2 397.1,770.1 397.7,770.0 398.2,769.9 398.7,769.8 399.2,769.7 399.7,769.5 400.3,769.4 400.8,769.3 401.3,769.2 401.8,769.1 402.4,769.0 402.9,768.8 403.4,768.7 403.9,768.6 404.4,768.5 405.0,768.4 405.5,768.3 406.0,768.1 406.5,768.0 407.1,767.9 407.6,767.8 408.1,767.7 408.6,767.5 409.1,767.4 409.7,767.3 410.2,767.2 410.7,767.0 411.2,766.9 411.8,766.8 412.3,766.7 412.8,766.6 413.3,766.4 413.8,766.3 414.4,766.2 414.9,766.1 415.4,765.9 415.9,765.8 416.4,765.7 417.0,765.6 417.5,765.4 418.0,765.3 418.5,765.2 419.1,765.0 419.6,764.9 420.1,764.8 420.6,764.7 421.1,764.5 421.7,764.4 422.2,764.3 422.7,764.1 423.2,764.0 423.8,763.9 424.1,763.8 424.8,763.6 425.3,763.5 425.8,763.4 426.4,763.2 426.9,763.1 427.4,763.0 427.9,762.8 428.5,762.7 429.0,762.6 429.5,762.5 430.0,762.3 430.5,762.2 431.1,762.1 431.6,761.9 432.1,761.8 432.6,761.6 433.1,761.5 433.7,761.4 434.2,761.2 434.7,761.1 435.2,761.0 435.8,760.8 436.3,760.7 436.8,760.5 437.3,760.4 437.8,760.3 438.4,760.1 438.9,760.0 439.4,759.8 439.9,759.7 440.5,759.5 441.0,759.4 441.5,759.2 442.0,759.1 442.5,758.9 443.1,758.8 443.6,758.6 444.1,758.4 444.6,758.3 445.1,758.1 445.7,758.0 446.2,757.8 446.7,757.6 447.2,757.5 447.8,757.3 448.3,757.1 448.8,757.0 449.3,756.8 449.8,756.6 450.4,756.4 450.9,756.3 451.4,756.1 451.9,755.9 452.5,755.7 453.0,755.5 453.5,755.4 454.0,755.2 454.5,755.0 455.1,754.8 455.4,754.7 456.1,754.4 456.6,754.2 457.2,754.0 457.7,753.8 458.2,753.6 458.7,753.4 459.2,753.2 459.8,753.0 460.3,752.8 460.8,752.6 461.3,752.4 461.8,752.2 462.4,752.0 462.9,751.8 463.4,751.6 463.9,751.4 464.5,751.1 465.0,750.9 465.5,750.7 466.0,750.5 466.5,750.2 467.1,750.0 467.6,749.8 468.1,749.5 468.6,749.3 469.2,749.0 469.7,748.8 470.2,748.5 470.7,748.3 471.2,748.0 471.8,747.8 472.3,747.5 472.8,747.2 473.3,746.9 473.9,746.7 474.4,746.4 474.9,746.1 475.4,745.8 475.9,745.5 476.5,745.2 477.0,744.9 477.5,744.6 478.0,744.3 478.5,744.0 479.1,743.6 479.6,743.3 480.1,743.0 480.6,742.6 481.2,742.3 481.7,741.9 482.2,741.6 482.7,741.2 483.2,740.8 483.8,740.4 484.3,740.0 484.8,739.6 485.3,739.2 485.9,738.7 486.4,738.3 486.8,737.9 487.4,737.4 487.9,736.9 488.5,736.5 489.0,736.0 489.5,735.6 490.0,735.1 490.5,734.6 491.1,734.2 491.6,733.7 492.1,733.2 492.6,732.7 493.2,732.2 493.7,731.6 494.2,731.1 494.7,730.5 495.2,730.0 495.8,729.3 496.3,728.7 496.8,728.1 497.3,727.4 497.9,726.7 498.4,726.0 498.9,725.2 499.4,724.5 499.9,723.8 500.5,723.0 501.0,722.3 501.5,721.5 502.0,720.6 502.6,719.7 503.1,718.7 503.6,717.7 504.1,716.5 504.6,715.3 505.2,714.0 505.7,712.8 505.9,712.3 506.2,711.7 506.7,710.5 507.2,709.1 507.8,707.4 508.3,705.4 508.8,703.2 509.3,701.2 509.9,699.1 510.4,697.7 510.9,697.1 511.4,699.6 511.9,700.9 512.5,701.9 513.0,702.6 513.5,702.9 514.0,704.8 514.4,706.2 514.6,707.1 515.1,709.3 515.6,711.5 516.1,713.6 516.6,715.7 517.2,717.7 517.6,719.5 518.2,721.7 518.7,723.9 519.3,726.1 519.8,728.4 520.3,730.8 520.4,731.3 520.8,733.1 521.3,735.6 521.9,738.0 522.4,740.6 522.8,742.5 522.9,743.2 523.4,745.8 523.9,748.5 524.5,751.3 524.8,752.9 525.0,754.2 525.5,757.1 526.0,760.1 526.5,762.6 526.6,763.1 527.1,766.3 527.6,769.6 527.9,771.6 528.1,773.1 528.6,776.7 529.1,780.1 529.2,780.5 529.7,784.5 530.2,788.3 530.2,788.8 530.7,793.4 531.0,796.3 531.3,798.4 531.8,803.9 532.3,809.9 532.4,811.4 532.8,816.8 532.9,818.6 533.3,824.6 533.4,825.7 533.8,832.6 533.9,834.0 534.1,839.4 534.4,845.8 534.6,852.7 534.8,859.2 534.9,861.9 535.0,865.6 535.1,872.0 535.3,878.3 535.4,884.6 535.4,888.6 535.5,890.9 535.5,897.1 535.6,903.3 535.6,909.5 535.7,915.7 535.7,921.8 535.8,928.0 535.8,934.1 535.8,940.2 535.8,946.3 535.9,952.4 535.9,958.5 535.9,964.6 535.9,970.7 535.9,976.8 535.9,982.9 535.9,989.0 535.9,995.1 535.9,1001.1 535.9,1007.2 535.9,1013.3 535.9,1019.4 535.9,1025.5 535.9,1031.5 535.9,1037.6 535.9,1043.7 535.9,1049.8 535.9,1055.8 535.9,1061.9 535.9,1068.0 535.9,1074.0 535.9,1080.1 535.9,1086.2 535.9,1092.3 535.9,1098.3 535.9,1102.0" stroke="#000" stroke-width="2.6" stroke-linecap="round"/>
<path d="M897.2,570.0 897.2,1102.0" stroke="#000" stroke-width="2.6" stroke-linecap="round"/>
<path d="M119.0,802.6 119.3,802.5 119.7,802.5 120.0,802.5 120.6,802.4 121.1,802.4 121.5,802.4 122.0,802.3 122.5,802.3 123.2,802.2 123.7,802.2 124.2,802.2 124.7,802.1 125.3,802.1 125.8,802.0 126.3,802.0 126.8,802.0 127.3,801.9 127.9,801.9 128.4,801.8 128.9,801.8 129.4,801.8 130.0,801.7 130.5,801.7 131.0,801.6 131.5,801.6 132.0,801.6 132.6,801.5 133.1,801.5 133.6,801.4 134.1,801.4 134.5,801.4 135.2,801.3 135.7,801.3 136.2,801.2 136.7,801.2 137.3,801.2 137.8,801.1 138.3,801.1 138.8,801.0 139.4,801.0 139.9,801.0 140.4,800.9 140.9,800.9 141.4,800.8 142.0,800.8 142.5,800.7 143.0,800.7 143.5,800.7 144.0,800.6 144.5,800.6 145.1,800.5 145.6,800.5 146.1,800.5 146.7,800.4 147.2,800.4 147.7,800.3 148.2,800.3 148.7,800.3 149.3,800.2 149.8,800.2 150.3,800.1 150.8,800.1 151.4,800.1 151.9,800.0 152.4,800.0 152.9,799.9 153.4,799.9 154.0,799.8 154.4,799.8 155.0,799.8 155.5,799.7 156.1,799.7 156.6,799.6 157.1,799.6 157.6,799.6 158.1,799.5 158.7,799.5 159.2,799.4 159.7,799.4 160.2,799.3 160.7,799.3 161.3,799.3 161.8,799.2 162.3,799.2 162.8,799.1 163.4,799.1 163.9,799.1 164.4,799.0 164.9,799.0 165.4,798.9 166.0,798.9 166.5,798.8 167.0,798.8 167.5,798.8 168.1,798.7 168.6,798.7 169.1,798.6 169.6,798.6 170.1,798.5 170.7,798.5 171.2,798.5 171.7,798.4 172.2,798.4 172.7,798.3 173.3,798.3 173.8,798.2 174.3,798.2 174.8,798.2 175.4,798.1 175.9,798.1 176.4,798.0 176.9,798.0 177.4,797.9 178.0,797.9 178.5,797.9 179.0,797.8 179.5,797.8 180.1,797.7 180.6,797.7 181.1,797.6 181.6,797.6 182.1,797.6 182.7,797.5 183.2,797.5 183.7,797.4 184.2,797.4 184.8,797.3 185.3,797.3 185.8,797.3 186.3,797.2 186.8,797.2 187.3,797.1 187.9,797.1 188.4,797.0 188.9,797.0 189.4,796.9 190.0,796.9 190.5,796.9 191.0,796.8 191.5,796.8 192.1,796.7 192.6,796.7 193.1,796.6 193.6,796.6 194.1,796.5 194.7,796.5 195.2,796.5 195.7,796.4 196.2,796.4 196.8,796.3 197.3,796.3 197.8,796.2 198.3,796.2 198.8,796.1 199.4,796.1 199.9,796.0 200.4,796.0 200.9,796.0 201.5,795.9 202.0,795.9 202.5,795.8 203.0,795.8 203.5,795.7 204.1,795.7 204.6,795.6 205.1,795.6 205.6,795.5 206.1,795.5 206.7,795.5 207.2,795.4 207.7,795.4 208.2,795.3 208.8,795.3 209.3,795.2 209.8,795.2 210.3,795.1 210.8,795.1 211.4,795.0 211.9,795.0 212.4,794.9 212.9,794.9 213.5,794.8 213.9,794.8 214.5,794.8 215.0,794.7 215.5,794.7 216.1,794.6 216.6,794.6 217.1,794.5 217.6,794.5 218.1,794.4 218.7,794.4 219.2,794.3 219.7,794.3 220.2,794.2 220.8,794.2 221.3,794.1 221.8,794.1 222.3,794.0 222.8,794.0 223.4,793.9 223.9,793.9 224.4,793.8 224.9,793.8 225.5,793.7 226.0,793.7 226.5,793.7 227.0,793.6 227.5,793.6 228.1,793.5 228.6,793.5 229.1,793.4 229.6,793.4 230.2,793.3 230.7,793.3 231.2,793.2 231.7,793.2 232.2,793.1 232.8,793.1 233.3,793.0 233.8,793.0 234.3,792.9 234.8,792.9 235.4,792.8 235.9,792.8 236.4,792.7 236.9,792.7 237.5,792.6 238.0,792.6 238.5,792.5 239.0,792.5 239.5,792.4 240.1,792.4 240.6,792.3 241.1,792.2 241.6,792.2 242.2,792.1 242.7,792.1 243.2,792.0 243.7,792.0 244.2,791.9 244.8,791.9 245.3,791.8 245.8,791.8 246.3,791.7 246.9,791.7 247.4,791.6 247.9,791.6 248.4,791.5 248.9,791.5 249.5,791.4 250.0,791.4 250.5,791.3 250.9,791.3 251.5,791.2 252.1,791.1 252.6,791.1 253.1,791.0 253.6,791.0 254.2,790.9 254.7,790.9 255.2,790.8 255.7,790.8 256.2,790.7 256.8,790.7 257.3,790.6 257.8,790.6 258.3,790.5 258.9,790.4 259.4,790.4 259.9,790.3 260.4,790.3 260.9,790.2 261.5,790.2 262.0,790.1 262.5,790.1 263.0,790.0 263.5,789.9 264.1,789.9 264.6,789.8 265.1,789.8 265.6,789.7 266.2,789.7 266.7,789.6 267.2,789.6 267.7,789.5 268.2,789.4 268.8,789.4 269.3,789.3 269.8,789.3 270.3,789.2 270.9,789.2 271.4,789.1 271.9,789.0 272.4,789.0 272.9,788.9 273.5,788.9 274.0,788.8 274.5,788.7 275.0,788.7 275.6,788.6 276.1,788.6 276.6,788.5 277.1,788.5 277.6,788.4 278.2,788.3 278.7,788.3 279.2,788.2 279.7,788.2 280.2,788.1 280.8,788.0 281.3,788.0 281.8,787.9 282.3,787.9 282.9,787.8 283.4,787.7 283.9,787.7 284.4,787.6 284.9,787.5 285.5,787.5 286.0,787.4 286.5,787.4 287.0,787.3 287.6,787.2 288.1,787.2 288.6,787.1 289.1,787.1 289.6,787.0 290.2,786.9 290.7,786.9 291.2,786.8 291.7,786.7 292.3,786.7 292.8,786.6 293.3,786.6 293.8,786.5 294.3,786.4 294.9,786.4 295.4,786.3 295.9,786.2 296.4,786.2 296.9,786.1 297.5,786.0 298.0,786.0 298.5,785.9 299.0,785.8 299.6,785.8 300.1,785.7 300.6,785.7 301.1,785.6 301.6,785.5 302.2,785.5 302.7,785.4 303.2,785.3 303.7,785.3 304.3,785.2 304.8,785.1 305.3,785.1 305.8,785.0 306.3,784.9 306.9,784.9 307.4,784.8 307.9,784.7 308.4,784.7 308.9,784.6 309.5,784.5 310.0,784.5 310.5,784.4 311.0,784.3 311.6,784.2 312.1,784.2 312.6,784.1 313.1,784.0 313.6,784.0 314.2,783.9 314.7,783.8 315.2,783.8 315.7,783.7 316.3,783.6 316.8,783.6 317.3,783.5 317.8,783.4 318.3,783.3 318.9,783.3 319.4,783.2 319.9,783.1 320.4,783.1 321.0,783.0 321.5,782.9 322.0,782.9 322.5,782.8 323.0,782.7 323.6,782.6 324.1,782.6 324.6,782.5 325.1,782.4 325.6,782.4 326.2,782.3 326.7,782.2 327.2,782.1 327.7,782.1 328.3,782.0 328.8,781.9 329.3,781.8 329.8,781.8 330.3,781.7 330.9,781.6 331.4,781.5 331.9,781.5 332.4,781.4 333.0,781.3 333.5,781.2 334.0,781.2 334.5,781.1 335.0,781.0 335.6,780.9 336.1,780.9 336.6,780.8 337.1,780.7 337.7,780.6 338.2,780.6 338.7,780.5 339.2,780.4 339.7,780.3 340.3,780.3 340.8,780.2 341.3,780.1 341.8,780.0 342.3,780.0 342.9,779.9 343.4,779.8 343.9,779.7 344.4,779.6 345.0,779.6 345.5,779.5 346.0,779.4 346.5,779.3 347.0,779.2 347.6,779.2 348.1,779.1 348.6,779.0 349.1,778.9 349.7,778.8 350.2,778.8 350.7,778.7 351.2,778.6 351.7,778.5 352.3,778.4 352.8,778.4 353.3,778.3 353.8,778.2 354.3,778.1 354.9,778.0 355.4,777.9 355.9,777.9 356.4,777.8 357.0,777.7 357.5,777.6 358.0,777.5 358.5,777.4 359.0,777.3 359.6,777.3 360.1,777.2 360.6,777.1 361.1,777.0 361.7,776.9 362.2,776.8 362.7,776.7 363.2,776.6 363.7,776.6 364.3,776.5 364.8,776.4 365.3,776.3 365.8,776.2 366.4,776.1 366.9,776.0 367.4,775.9 367.9,775.8 368.4,775.7 369.0,775.6 369.5,775.6 370.0,775.5 370.5,775.4 371.0,775.3 371.6,775.2 372.1,775.1 372.6,775.0 373.1,774.9 373.7,774.8 374.2,774.7 374.7,774.6 375.2,774.5 375.7,774.4 376.3,774.3 376.8,774.2 377.3,774.1 377.8,774.0 378.4,773.9 378.9,773.8 379.4,773.7 379.9,773.6 380.4,773.5 381.0,773.4 381.5,773.3 382.0,773.2 382.5,773.1 383.1,773.0 383.6,772.9 384.1,772.8 384.6,772.7 385.1,772.6 385.7,772.5 386.2,772.4 386.7,772.2 387.2,772.1 387.7,772.0 388.3,771.9 388.8,771.8 389.3,771.7 389.8,771.6 390.4,771.5 390.9,771.4 391.4,771.2 391.9,771.1 392.4,771.0 393.0,770.9 393.5,770.8 394.0,770.7 394.5,770.6 395.1,770.4 395.6,770.3 396.1,770.2 396.6,770.1 397.1,770.0 397.7,769.8 398.2,769.7 398.7,769.6 399.2,769.5 399.7,769.4 400.3,769.2 400.8,769.1 401.3,769.0 401.8,768.9 402.4,768.7 402.9,768.6 403.4,768.5 403.9,768.4 404.4,768.2 405.0,768.1 405.5,768.0 406.0,767.8 406.5,767.7 407.1,767.6 407.6,767.4 408.1,767.3 408.6,767.2 409.1,767.1 409.7,766.9 410.2,766.8 410.7,766.6 411.2,766.5 411.8,766.4 412.3,766.2 412.8,766.1 413.3,766.0 413.8,765.8 414.4,765.7 414.9,765.5 415.4,765.4 415.9,765.3 416.4,765.1 417.0,765.0 417.5,764.8 418.0,764.7 418.5,764.6 419.1,764.4 419.6,764.3 420.1,764.1 420.6,764.0 421.1,763.8 421.7,763.7 422.2,763.6 422.7,763.4 423.2,763.3 423.8,763.1 424.1,763.0 424.8,762.8 425.3,762.7 425.8,762.5 426.4,762.4 426.9,762.2 427.4,762.1 427.9,761.9 428.5,761.8 429.0,761.6 429.5,761.5 430.0,761.3 430.5,761.2 431.1,761.0 431.6,760.9 432.1,760.7 432.6,760.6 433.1,760.4 433.7,760.3 434.2,760.1 434.7,760.0 435.2,759.8 435.8,759.6 436.3,759.5 436.8,759.3 437.3,759.2 437.8,759.0 438.4,758.8 438.9,758.7 439.4,758.5 439.9,758.3 440.5,758.2 441.0,758.0 441.5,757.8 442.0,757.7 442.5,757.5 443.1,757.3 443.6,757.1 444.1,757.0 444.6,756.8 445.1,756.6 445.7,756.4 446.2,756.3 446.7,756.1 447.2,755.9 447.8,755.7 448.3,755.5 448.8,755.3 449.3,755.1 449.8,755.0 450.4,754.8 450.9,754.6 451.4,754.4 451.9,754.2 452.5,754.0 453.0,753.8 453.5,753.6 454.0,753.4 454.5,753.2 455.1,753.0 455.4,752.8 456.1,752.6 456.6,752.4 457.2,752.2 457.7,752.0 458.2,751.8 458.7,751.5 459.2,751.3 459.8,751.1 460.3,750.9 460.8,750.7 461.3,750.5 461.8,750.3 462.4,750.0 462.9,749.8 463.4,749.6 463.9,749.3 464.5,749.1 465.0,748.9 465.5,748.7 466.0,748.4 466.5,748.2 467.1,747.9 467.6,747.7 468.1,747.4 468.6,747.2 469.2,746.9 469.7,746.7 470.2,746.4 470.7,746.1 471.2,745.9 471.8,745.6 472.3,745.3 472.8,745.1 473.3,744.8 473.9,744.5 474.4,744.2 474.9,743.9 475.4,743.6 475.9,743.3 476.5,743.0 477.0,742.7 477.5,742.4 478.0,742.1 478.5,741.7 479.1,741.4 479.6,741.1 480.1,740.7 480.6,740.4 481.2,740.0 481.7,739.7 482.2,739.3 482.7,738.9 483.2,738.5 483.8,738.1 484.3,737.7 484.8,737.3 485.3,736.9 485.9,736.4 486.4,736.0 486.8,735.6 487.4,735.1 487.9,734.6 488.5,734.2 489.0,733.7 489.5,733.2 490.0,732.8 490.5,732.3 491.1,731.8 491.6,731.3 492.1,730.9 492.6,730.4 493.2,729.8 493.7,729.3 494.2,728.8 494.7,728.2 495.2,727.6 495.8,727.0 496.3,726.4 496.8,725.7 497.3,725.0 497.9,724.3 498.4,723.6 498.9,722.9 499.4,722.1 499.9,721.4 500.5,720.7 501.0,719.9 501.5,719.1 502.0,718.3 502.6,717.3 503.1,716.4 503.6,715.3 504.1,714.2 504.6,712.9 505.2,711.6 505.7,710.4 505.9,709.9 506.2,709.3 506.7,708.1 507.2,706.7 507.8,705.0 508.3,703.1 508.8,700.8 509.3,698.8 509.9,696.7 510.4,694.2 510.9,693.6 511.4,696.1 511.9,697.4 512.5,698.4 513.0,699.1 513.5,699.4 514.0,701.3 514.4,702.7 514.6,703.6 515.1,705.8 515.6,708.0 516.1,710.1 516.6,712.1 517.2,714.1 517.6,715.9 518.2,718.2 518.7,720.4 519.3,722.6 519.8,724.9 520.3,727.2 520.4,727.7 520.8,729.6 521.3,732.0 521.9,734.5 522.4,737.0 522.8,738.9 522.9,739.6 523.4,742.2 523.9,744.9 524.5,747.7 524.8,749.3 525.0,750.6 525.5,753.5 526.0,756.5 526.5,759.0 526.6,759.5 527.1,762.7 527.6,766.0 527.9,768.0 528.1,769.4 528.6,773.0 529.1,776.5 529.2,776.8 529.7,780.9 530.2,784.7 530.2,785.1 530.7,789.7 531.0,792.6 531.3,794.7 531.8,800.2 532.3,806.3 532.4,807.7 532.8,813.1 532.9,814.9 533.3,821.0 533.4,822.0 533.8,828.9 533.9,830.3 534.1,835.7 534.4,842.1 534.6,849.0 534.8,855.5 534.9,858.2 535.0,861.9 535.1,868.3 535.3,874.6 535.4,880.9 535.4,884.9 535.5,887.2 535.5,893.4 535.6,899.6 535.6,905.8 535.7,912.0 535.7,918.1 535.8,924.3 535.8,930.4 535.8,936.5 535.8,942.6 535.9,948.7 535.9,954.8 535.9,960.9 535.9,967.0 535.9,973.1 535.9,979.2 535.9,985.3 535.9,991.4 535.9,997.4 535.9,1003.5 535.9,1009.6 535.9,1015.7 535.9,1021.8 535.9,1027.8 535.9,1033.9 535.9,1040.0 535.9,1046.1 535.9,1052.1 535.9,1058.2 535.9,1064.3 535.9,1070.3 535.9,1076.4 535.9,1082.5 535.9,1088.6 535.9,1094.6 535.9,1100.7 535.9,1102.0" stroke="#000" stroke-width="2.6" stroke-dasharray="9 9.5"/>
<path d="M877.7,570.0 877.7,572.4 877.8,578.5 877.8,584.5 877.8,590.6 877.8,595.5 877.8,596.7 877.8,602.9 877.8,603.8 877.8,609.0 877.8,610.5 877.8,615.1 877.9,616.3 877.9,621.2 877.9,625.7 877.9,627.4 877.9,629.6 877.9,633.2 877.9,633.5 878.0,636.4 878.0,639.4 878.0,642.2 878.0,644.8 878.0,645.9 878.1,647.2 878.1,649.5 878.1,651.7 878.1,652.1 878.1,653.7 878.2,655.7 878.2,657.5 878.2,658.3 878.2,659.3 878.2,661.0 878.2,662.6 878.3,664.1 878.3,664.5 878.3,665.6 878.3,667.1 878.3,668.5 878.4,669.8 878.4,670.8 878.4,672.4 878.4,673.6 878.4,674.8 878.5,675.9 878.5,677.0 878.5,678.1 878.5,679.2 878.6,680.2 878.6,681.2 878.6,682.2 878.6,683.2 878.6,683.5 878.7,684.1 878.7,685.0 878.7,685.9 878.7,686.8 878.7,687.7 878.8,688.5 878.8,689.3 878.8,690.0 878.8,691.0 878.9,691.7 878.9,692.5 878.9,693.3 878.9,694.0 878.9,694.7 879.0,695.4 879.0,696.1 879.0,696.5 879.0,696.8 879.0,697.5 879.1,698.2 879.1,698.8 879.1,699.5 879.1,700.1 879.2,700.8 879.2,701.4 879.2,702.0 879.2,702.6 879.2,703.1 879.3,703.8 879.3,704.4 879.3,705.0 879.3,705.5 879.4,706.1 879.4,706.6 879.4,707.2 879.4,707.7 879.5,708.3 879.5,708.8 879.5,709.3 879.5,709.8 879.5,710.3 879.6,710.8 879.6,711.3 879.6,711.8 879.6,712.3 879.7,712.8 879.7,713.3 879.7,713.8 879.7,714.2 879.7,714.7 879.8,715.2 879.8,715.6 879.8,716.1 879.8,716.5 879.9,717.0 879.9,717.4 879.9,717.8 879.9,718.3 880.0,718.7 880.0,719.1 880.0,719.5 880.0,720.0 880.0,720.4 880.1,720.8 880.1,721.2 880.1,721.6 880.1,722.0 880.2,722.4 880.2,722.8 880.2,723.2 880.2,723.6 880.3,724.0 880.3,724.3 880.3,724.7 880.3,725.1 880.3,725.5 880.4,725.8 880.4,726.2 880.4,726.6 880.4,726.9 880.5,727.3 880.5,727.7 880.5,728.0 880.5,728.4 880.5,728.7 880.6,729.1 880.6,729.4 880.6,729.8 880.6,730.1 880.7,730.4 880.7,730.8 880.7,731.1 880.7,731.5 880.8,731.8 880.8,732.1 880.8,732.4 880.8,732.8 880.8,733.1 880.9,733.4 880.9,733.7 880.9,734.1 880.9,734.4 881.0,734.7 881.0,735.0 881.0,735.3 881.0,735.6 881.0,735.9 881.1,736.2 881.1,736.6 881.1,736.9 881.1,737.2 881.2,737.5 881.2,737.8 881.2,738.1 881.3,738.7 881.3,739.2 881.3,739.8 881.4,740.4 881.4,741.0 881.5,741.5 881.5,742.1 881.6,742.6 881.6,743.2 881.7,743.7 881.7,744.3 881.8,744.8 881.8,745.4 881.8,745.8 881.9,746.1 881.9,746.7 882.0,747.2 882.0,747.7 882.1,748.2 882.1,748.7 882.1,749.2 882.2,749.7 882.2,750.2 882.3,750.7 882.3,751.2 882.4,751.7 882.4,752.2 882.5,752.7 882.5,753.1 882.6,753.6 882.6,753.9 882.6,754.3 882.7,754.8 882.7,755.3 882.8,755.7 882.8,756.2 882.9,756.6 882.9,757.1 882.9,757.5 883.0,758.0 883.0,758.4 883.1,758.9 883.1,759.3 883.2,759.8 883.2,760.2 883.3,760.7 883.3,761.1 883.4,761.5 883.4,762.0 883.4,762.4 883.5,762.8 883.5,763.2 883.6,763.7 883.6,764.1 883.7,764.5 883.7,764.9 883.8,765.3 883.8,765.8 883.9,766.2 883.9,766.6 883.9,767.0 884.0,767.4 884.0,767.8 884.1,768.2 884.1,768.6 884.2,769.0 884.2,769.4 884.3,769.9 884.3,770.3 884.4,770.7 884.4,771.1 884.4,771.5 884.5,771.8 884.5,772.2 884.6,772.6 884.6,773.0 884.7,773.4 884.7,773.8 884.8,774.2 884.8,774.6 884.9,775.0 884.9,775.4 885.0,775.8 885.0,776.1 885.0,776.5 885.1,776.9 885.1,777.3 885.2,777.7 885.2,778.1 885.3,778.5 885.3,778.8 885.4,779.2 885.4,779.6 885.5,780.0 885.5,780.4 885.5,780.7 885.6,781.1 885.6,781.5 885.7,781.9 885.7,782.2 885.8,782.6 885.8,783.0 885.9,783.4 885.9,783.7 886.0,784.1 886.0,784.5 886.0,784.9 886.1,785.2 886.1,785.6 886.2,786.0 886.2,786.4 886.3,786.7 886.3,787.1 886.4,787.5 886.4,787.8 886.5,788.2 886.5,788.6 886.5,789.0 886.6,789.3 886.6,789.7 886.7,790.1 886.7,790.4 886.8,790.8 886.8,791.2 886.9,791.6 886.9,791.9 887.0,792.3 887.0,792.7 887.1,793.0 887.1,793.4 887.1,793.8 887.2,794.1 887.2,794.5 887.3,794.9 887.3,795.3 887.4,795.6 887.4,796.0 887.5,796.4 887.5,796.8 887.6,797.1 887.6,797.5 887.6,797.9 887.7,798.2 887.7,798.6 887.8,799.0 887.8,799.4 887.9,799.7 887.9,800.1 888.0,800.5 888.0,800.9 888.1,801.3 888.1,801.6 888.1,802.0 888.2,802.4 888.2,802.8 888.3,803.2 888.3,803.5 888.4,803.9 888.4,804.3 888.5,804.7 888.5,805.1 888.6,805.4 888.6,805.8 888.6,806.2 888.7,806.6 888.7,807.0 888.8,807.4 888.8,807.8 888.9,808.2 888.9,808.6 889.0,808.9 889.0,809.3 889.1,809.7 889.1,810.1 889.2,810.5 889.2,810.9 889.2,811.3 889.3,811.7 889.3,812.1 889.4,812.5 889.4,812.9 889.5,813.3 889.5,813.7 889.6,814.1 889.6,814.6 889.7,815.0 889.7,815.4 889.7,815.8 889.8,816.2 889.8,816.6 889.9,817.0 889.9,817.5 890.0,817.9 890.0,818.3 890.1,818.7 890.1,819.1 890.2,819.6 890.2,820.0 890.2,820.4 890.3,820.9 890.3,821.3 890.4,821.7 890.4,822.2 890.5,822.6 890.5,823.1 890.6,823.5 890.6,824.0 890.7,824.4 890.7,824.9 890.7,825.3 890.8,825.8 890.8,826.2 890.9,826.7 890.9,827.1 891.0,827.6 891.0,828.1 891.1,828.6 891.1,829.0 891.2,829.5 891.2,830.0 891.3,830.5 891.3,831.0 891.3,831.5 891.4,831.9 891.4,832.4 891.5,832.9 891.5,833.4 891.6,834.0 891.6,834.5 891.7,835.0 891.7,835.5 891.8,836.0 891.8,836.3 891.8,836.8 891.9,837.3 891.9,837.9 892.0,838.4 892.0,839.0 892.1,839.5 892.1,840.1 892.1,840.6 892.2,841.2 892.2,841.8 892.3,842.3 892.3,842.9 892.4,843.5 892.4,844.0 892.4,844.4 892.5,844.7 892.5,845.0 892.5,845.3 892.5,845.6 892.6,845.9 892.6,846.2 892.6,846.5 892.6,846.8 892.6,847.2 892.7,847.5 892.7,847.8 892.7,848.1 892.7,848.4 892.8,848.7 892.8,849.1 892.8,849.4 892.8,849.7 892.8,850.0 892.9,850.4 892.9,850.7 892.9,851.0 892.9,851.4 893.0,851.7 893.0,852.1 893.0,852.4 893.0,852.7 893.1,853.1 893.1,853.4 893.1,853.8 893.1,854.2 893.1,854.5 893.2,854.9 893.2,855.2 893.2,855.6 893.2,856.0 893.3,856.3 893.3,856.7 893.3,857.1 893.3,857.5 893.4,857.8 893.4,858.2 893.4,858.6 893.4,859.0 893.4,859.4 893.5,859.8 893.5,860.2 893.5,860.6 893.5,861.0 893.6,861.4 893.6,861.8 893.6,862.2 893.6,862.6 893.6,863.0 893.7,863.5 893.7,863.9 893.7,864.3 893.7,864.8 893.8,865.2 893.8,865.6 893.8,866.1 893.8,866.5 893.9,867.0 893.9,867.5 893.9,867.9 893.9,868.4 893.9,868.9 894.0,869.4 894.0,869.8 894.0,870.3 894.0,870.8 894.1,871.3 894.1,871.8 894.1,872.3 894.1,872.8 894.2,873.4 894.2,873.9 894.2,874.4 894.2,875.0 894.2,875.5 894.3,876.1 894.3,876.6 894.3,877.2 894.3,877.8 894.4,878.4 894.4,878.9 894.4,879.5 894.4,880.2 894.4,880.8 894.5,881.4 894.5,882.0 894.5,882.7 894.5,883.3 894.6,884.0 894.6,884.6 894.6,885.3 894.6,885.7 894.6,886.0 894.7,886.7 894.7,887.4 894.7,888.2 894.7,888.9 894.7,889.7 894.8,890.4 894.8,891.2 894.8,892.0 894.8,892.8 894.9,893.6 894.9,894.5 894.9,895.3 894.9,896.2 894.9,897.1 895.0,898.0 895.0,898.6 895.0,899.0 895.0,899.9 895.0,900.9 895.1,901.9 895.1,903.0 895.1,904.0 895.1,905.0 895.2,906.2 895.2,907.4 895.2,908.6 895.2,909.8 895.2,911.0 895.3,912.3 895.3,913.7 895.3,915.1 895.3,916.5 895.4,917.6 895.4,918.0 895.4,919.6 895.4,921.2 895.4,922.9 895.4,923.9 895.5,924.7 895.5,926.5 895.5,928.4 895.5,930.1 895.5,930.5 895.5,932.6 895.6,934.9 895.6,936.3 895.6,937.4 895.6,940.0 895.6,942.5 895.7,945.7 895.7,948.7 895.7,949.0 895.7,952.6 895.7,954.8 895.7,956.5 895.7,960.9 895.8,965.9 895.8,967.1 895.8,971.6 895.8,973.2 895.8,978.4 895.8,979.3 895.8,985.4 895.8,986.7 895.9,991.5 895.9,997.3 895.9,1003.7 895.9,1009.8 895.9,1012.4 895.9,1015.9 895.9,1022.0 895.9,1028.0 895.9,1034.1 895.9,1038.0 895.9,1040.2 895.9,1046.3 895.9,1052.4 895.9,1058.4 895.9,1064.5 895.9,1070.6 895.9,1076.7 895.9,1082.7 895.9,1088.8 895.9,1094.9 895.9,1101.0 895.9,1102.0" stroke="#000" stroke-width="2.6" stroke-dasharray="9 9.5" stroke-dashoffset="6.40"/>
<path d="M119.0,799.9 119.3,799.9 119.7,799.9 120.0,799.8 120.6,799.8 121.1,799.8 121.5,799.7 122.0,799.7 122.5,799.6 123.2,799.6 123.7,799.5 124.2,799.5 124.7,799.5 125.3,799.4 125.8,799.4 126.3,799.3 126.8,799.3 127.3,799.2 127.9,799.2 128.4,799.2 128.9,799.1 129.4,799.1 130.0,799.0 130.5,799.0 131.0,798.9 131.5,798.9 132.0,798.9 132.6,798.8 133.1,798.8 133.6,798.7 134.1,798.7 134.5,798.7 135.2,798.6 135.7,798.6 136.2,798.5 136.7,798.5 137.3,798.4 137.8,798.4 138.3,798.3 138.8,798.3 139.4,798.3 139.9,798.2 140.4,798.2 140.9,798.1 141.4,798.1 142.0,798.0 142.5,798.0 143.0,797.9 143.5,797.9 144.0,797.9 144.5,797.8 145.1,797.8 145.6,797.7 146.1,797.7 146.7,797.6 147.2,797.6 147.7,797.5 148.2,797.5 148.7,797.5 149.3,797.4 149.8,797.4 150.3,797.3 150.8,797.3 151.4,797.2 151.9,797.2 152.4,797.1 152.9,797.1 153.4,797.0 154.0,797.0 154.4,797.0 155.0,796.9 155.5,796.9 156.1,796.8 156.6,796.8 157.1,796.7 157.6,796.7 158.1,796.6 158.7,796.6 159.2,796.5 159.7,796.5 160.2,796.4 160.7,796.4 161.3,796.4 161.8,796.3 162.3,796.3 162.8,796.2 163.4,796.2 163.9,796.1 164.4,796.1 164.9,796.0 165.4,796.0 166.0,795.9 166.5,795.9 167.0,795.8 167.5,795.8 168.1,795.7 168.6,795.7 169.1,795.6 169.6,795.6 170.1,795.5 170.7,795.5 171.2,795.5 171.7,795.4 172.2,795.4 172.7,795.3 173.3,795.3 173.8,795.2 174.3,795.2 174.8,795.1 175.4,795.1 175.9,795.0 176.4,795.0 176.9,794.9 177.4,794.9 178.0,794.8 178.5,794.8 179.0,794.7 179.5,794.7 180.1,794.6 180.6,794.6 181.1,794.5 181.6,794.5 182.1,794.4 182.7,794.4 183.2,794.3 183.7,794.3 184.2,794.3 184.8,794.2 185.3,794.2 185.8,794.1 186.3,794.1 186.8,794.0 187.3,794.0 187.9,793.9 188.4,793.9 188.9,793.8 189.4,793.8 190.0,793.7 190.5,793.7 191.0,793.6 191.5,793.6 192.1,793.5 192.6,793.5 193.1,793.4 193.6,793.4 194.1,793.3 194.7,793.3 195.2,793.2 195.7,793.2 196.2,793.1 196.8,793.1 197.3,793.0 197.8,793.0 198.3,792.9 198.8,792.9 199.4,792.8 199.9,792.8 200.4,792.7 200.9,792.7 201.5,792.6 202.0,792.6 202.5,792.5 203.0,792.5 203.5,792.4 204.1,792.4 204.6,792.3 205.1,792.3 205.6,792.2 206.1,792.2 206.7,792.1 207.2,792.1 207.7,792.0 208.2,792.0 208.8,791.9 209.3,791.9 209.8,791.8 210.3,791.8 210.8,791.7 211.4,791.7 211.9,791.6 212.4,791.6 212.9,791.5 213.5,791.5 213.9,791.4 214.5,791.4 215.0,791.3 215.5,791.3 216.1,791.2 216.6,791.2 217.1,791.1 217.6,791.1 218.1,791.0 218.7,791.0 219.2,790.9 219.7,790.9 220.2,790.8 220.8,790.8 221.3,790.7 221.8,790.7 222.3,790.6 222.8,790.5 223.4,790.5 223.9,790.4 224.4,790.4 224.9,790.3 225.5,790.3 226.0,790.2 226.5,790.2 227.0,790.1 227.5,790.1 228.1,790.0 228.6,790.0 229.1,789.9 229.6,789.9 230.2,789.8 230.7,789.8 231.2,789.7 231.7,789.6 232.2,789.6 232.8,789.5 233.3,789.5 233.8,789.4 234.3,789.4 234.8,789.3 235.4,789.3 235.9,789.2 236.4,789.2 236.9,789.1 237.5,789.0 238.0,789.0 238.5,788.9 239.0,788.9 239.5,788.8 240.1,788.8 240.6,788.7 241.1,788.7 241.6,788.6 242.2,788.5 242.7,788.5 243.2,788.4 243.7,788.4 244.2,788.3 244.8,788.3 245.3,788.2 245.8,788.1 246.3,788.1 246.9,788.0 247.4,788.0 247.9,787.9 248.4,787.9 248.9,787.8 249.5,787.7 250.0,787.7 250.5,787.6 250.9,787.6 251.5,787.5 252.1,787.4 252.6,787.4 253.1,787.3 253.6,787.3 254.2,787.2 254.7,787.1 255.2,787.1 255.7,787.0 256.2,787.0 256.8,786.9 257.3,786.9 257.8,786.8 258.3,786.7 258.9,786.7 259.4,786.6 259.9,786.5 260.4,786.5 260.9,786.4 261.5,786.4 262.0,786.3 262.5,786.2 263.0,786.2 263.5,786.1 264.1,786.1 264.6,786.0 265.1,785.9 265.6,785.9 266.2,785.8 266.7,785.8 267.2,785.7 267.7,785.6 268.2,785.6 268.8,785.5 269.3,785.4 269.8,785.4 270.3,785.3 270.9,785.2 271.4,785.2 271.9,785.1 272.4,785.1 272.9,785.0 273.5,784.9 274.0,784.9 274.5,784.8 275.0,784.7 275.6,784.7 276.1,784.6 276.6,784.5 277.1,784.5 277.6,784.4 278.2,784.4 278.7,784.3 279.2,784.2 279.7,784.2 280.2,784.1 280.8,784.0 281.3,784.0 281.8,783.9 282.3,783.8 282.9,783.8 283.4,783.7 283.9,783.6 284.4,783.6 284.9,783.5 285.5,783.4 286.0,783.4 286.5,783.3 287.0,783.2 287.6,783.2 288.1,783.1 288.6,783.0 289.1,783.0 289.6,782.9 290.2,782.8 290.7,782.8 291.2,782.7 291.7,782.6 292.3,782.6 292.8,782.5 293.3,782.4 293.8,782.3 294.3,782.3 294.9,782.2 295.4,782.1 295.9,782.1 296.4,782.0 296.9,781.9 297.5,781.9 298.0,781.8 298.5,781.7 299.0,781.7 299.6,781.6 300.1,781.5 300.6,781.4 301.1,781.4 301.6,781.3 302.2,781.2 302.7,781.2 303.2,781.1 303.7,781.0 304.3,780.9 304.8,780.9 305.3,780.8 305.8,780.7 306.3,780.7 306.9,780.6 307.4,780.5 307.9,780.4 308.4,780.4 308.9,780.3 309.5,780.2 310.0,780.2 310.5,780.1 311.0,780.0 311.6,779.9 312.1,779.9 312.6,779.8 313.1,779.7 313.6,779.6 314.2,779.6 314.7,779.5 315.2,779.4 315.7,779.4 316.3,779.3 316.8,779.2 317.3,779.1 317.8,779.1 318.3,779.0 318.9,778.9 319.4,778.8 319.9,778.8 320.4,778.7 321.0,778.6 321.5,778.5 322.0,778.5 322.5,778.4 323.0,778.3 323.6,778.2 324.1,778.2 324.6,778.1 325.1,778.0 325.6,777.9 326.2,777.9 326.7,777.8 327.2,777.7 327.7,777.6 328.3,777.6 328.8,777.5 329.3,777.4 329.8,777.3 330.3,777.3 330.9,777.2 331.4,777.1 331.9,777.0 332.4,776.9 333.0,776.9 333.5,776.8 334.0,776.7 334.5,776.6 335.0,776.6 335.6,776.5 336.1,776.4 336.6,776.3 337.1,776.2 337.7,776.2 338.2,776.1 338.7,776.0 339.2,775.9 339.7,775.8 340.3,775.8 340.8,775.7 341.3,775.6 341.8,775.5 342.3,775.4 342.9,775.4 343.4,775.3 343.9,775.2 344.4,775.1 345.0,775.0 345.5,775.0 346.0,774.9 346.5,774.8 347.0,774.7 347.6,774.6 348.1,774.6 348.6,774.5 349.1,774.4 349.7,774.3 350.2,774.2 350.7,774.1 351.2,774.1 351.7,774.0 352.3,773.9 352.8,773.8 353.3,773.7 353.8,773.6 354.3,773.5 354.9,773.5 355.4,773.4 355.9,773.3 356.4,773.2 357.0,773.1 357.5,773.0 358.0,772.9 358.5,772.9 359.0,772.8 359.6,772.7 360.1,772.6 360.6,772.5 361.1,772.4 361.7,772.3 362.2,772.2 362.7,772.1 363.2,772.1 363.7,772.0 364.3,771.9 364.8,771.8 365.3,771.7 365.8,771.6 366.4,771.5 366.9,771.4 367.4,771.3 367.9,771.2 368.4,771.1 369.0,771.0 369.5,770.9 370.0,770.8 370.5,770.7 371.0,770.6 371.6,770.5 372.1,770.4 372.6,770.4 373.1,770.3 373.7,770.2 374.2,770.1 374.7,770.0 375.2,769.9 375.7,769.8 376.3,769.6 376.8,769.5 377.3,769.4 377.8,769.3 378.4,769.2 378.9,769.1 379.4,769.0 379.9,768.9 380.4,768.8 381.0,768.7 381.5,768.6 382.0,768.5 382.5,768.4 383.1,768.3 383.6,768.2 384.1,768.1 384.6,768.0 385.1,767.8 385.7,767.7 386.2,767.6 386.7,767.5 387.2,767.4 387.7,767.3 388.3,767.2 388.8,767.1 389.3,766.9 389.8,766.8 390.4,766.7 390.9,766.6 391.4,766.5 391.9,766.4 392.4,766.2 393.0,766.1 393.5,766.0 394.0,765.9 394.5,765.8 395.1,765.6 395.6,765.5 396.1,765.4 396.6,765.3 397.1,765.1 397.7,765.0 398.2,764.9 398.7,764.8 399.2,764.6 399.7,764.5 400.3,764.4 400.8,764.2 401.3,764.1 401.8,764.0 402.4,763.9 402.9,763.7 403.4,763.6 403.9,763.5 404.4,763.3 405.0,763.2 405.5,763.1 406.0,762.9 406.5,762.8 407.1,762.7 407.6,762.5 408.1,762.4 408.6,762.2 409.1,762.1 409.7,762.0 410.2,761.8 410.7,761.7 411.2,761.5 411.8,761.4 412.3,761.3 412.8,761.1 413.3,761.0 413.8,760.8 414.4,760.7 414.9,760.5 415.4,760.4 415.9,760.2 416.4,760.1 417.0,760.0 417.5,759.8 418.0,759.7 418.5,759.5 419.1,759.4 419.6,759.2 420.1,759.1 420.6,758.9 421.1,758.8 421.7,758.6 422.2,758.5 422.7,758.3 423.2,758.2 423.8,758.0 424.1,757.9 424.8,757.7 425.3,757.5 425.8,757.4 426.4,757.2 426.9,757.1 427.4,756.9 427.9,756.8 428.5,756.6 429.0,756.5 429.5,756.3 430.0,756.1 430.5,756.0 431.1,755.8 431.6,755.7 432.1,755.5 432.6,755.3 433.1,755.2 433.7,755.0 434.2,754.9 434.7,754.7 435.2,754.5 435.8,754.4 436.3,754.2 436.8,754.0 437.3,753.9 437.8,753.7 438.4,753.5 438.9,753.4 439.4,753.2 439.9,753.0 440.5,752.8 441.0,752.7 441.5,752.5 442.0,752.3 442.5,752.1 443.1,752.0 443.6,751.8 444.1,751.6 444.6,751.4 445.1,751.2 445.7,751.0 446.2,750.9 446.7,750.7 447.2,750.5 447.8,750.3 448.3,750.1 448.8,749.9 449.3,749.7 449.8,749.5 450.4,749.3 450.9,749.1 451.4,748.9 451.9,748.7 452.5,748.5 453.0,748.3 453.5,748.1 454.0,747.9 454.5,747.7 455.1,747.5 455.4,747.3 456.1,747.0 456.6,746.8 457.2,746.6 457.7,746.4 458.2,746.2 458.7,746.0 459.2,745.7 459.8,745.5 460.3,745.3 460.8,745.1 461.3,744.9 461.8,744.6 462.4,744.4 462.9,744.2 463.4,743.9 463.9,743.7 464.5,743.5 465.0,743.2 465.5,743.0 466.0,742.7 466.5,742.5 467.1,742.2 467.6,742.0 468.1,741.7 468.6,741.5 469.2,741.2 469.7,740.9 470.2,740.7 470.7,740.4 471.2,740.1 471.8,739.8 472.3,739.6 472.8,739.3 473.3,739.0 473.9,738.7 474.4,738.4 474.9,738.1 475.4,737.8 475.9,737.5 476.5,737.2 477.0,736.8 477.5,736.5 478.0,736.2 478.5,735.9 479.1,735.5 479.6,735.2 480.1,734.8 480.6,734.5 481.2,734.1 481.7,733.7 482.2,733.4 482.7,733.0 483.2,732.6 483.8,732.2 484.3,731.7 484.8,731.3 485.3,730.9 485.9,730.4 486.4,730.0 486.8,729.6 487.4,729.1 487.9,728.6 488.5,728.1 489.0,727.7 489.5,727.2 490.0,726.7 490.5,726.2 491.1,725.7 491.6,725.2 492.1,724.7 492.6,724.2 493.2,723.7 493.7,723.2 494.2,722.6 494.7,722.0 495.2,721.4 495.8,720.8 496.3,720.2 496.8,719.5 497.3,718.8 497.9,718.1 498.4,717.4 498.9,716.6 499.4,715.9 499.9,715.1 500.5,714.4 501.0,713.6 501.5,712.8 502.0,712.0 502.6,711.0 503.1,710.1 503.6,709.0 504.1,707.8 504.6,706.6 505.2,705.3 505.7,704.1 505.9,703.5 506.2,703.0 506.7,701.8 507.2,700.3 507.8,698.6 508.3,696.6 508.8,694.4 509.3,692.4 509.9,690.2 510.4,687.7 510.9,687.2 511.4,689.6 511.9,690.9 512.5,691.9 513.0,692.6 513.5,692.9 514.0,694.7 514.4,696.2 514.6,697.0 515.1,699.3 515.6,701.4 516.1,703.5 516.6,705.6 517.2,707.6 517.6,709.3 518.2,711.6 518.7,713.7 519.3,715.9 519.8,718.2 520.3,720.5 520.4,721.1 520.8,722.9 521.3,725.3 521.9,727.8 522.4,730.3 522.8,732.2 522.9,732.9 523.4,735.5 523.9,738.2 524.5,741.0 524.8,742.6 525.0,743.8 525.5,746.7 526.0,749.7 526.5,752.2 526.6,752.7 527.1,755.9 527.6,759.2 527.9,761.1 528.1,762.6 528.6,766.2 529.1,769.7 529.2,770.0 529.7,774.0 530.2,777.8 530.2,778.3 530.7,782.9 531.0,785.7 531.3,787.9 531.8,793.3 532.3,799.4 532.4,800.8 532.8,806.2 532.9,808.0 533.3,814.0 533.4,815.1 533.8,822.0 533.9,823.4 534.1,828.8 534.4,835.2 534.6,842.0 534.8,848.5 534.9,851.2 535.0,854.9 535.1,861.3 535.3,867.6 535.4,873.9 535.4,877.9 535.5,880.2 535.5,886.4 535.6,892.6 535.6,898.8 535.7,905.0 535.7,911.1 535.8,917.3 535.8,923.4 535.8,929.5 535.8,935.6 535.9,941.7 535.9,947.8 535.9,953.9 535.9,960.0 535.9,966.1 535.9,972.2 535.9,978.3 535.9,984.4 535.9,990.5 535.9,996.5 535.9,1002.6 535.9,1008.7 535.9,1014.8 535.9,1020.8 535.9,1026.9 535.9,1033.0 535.9,1039.1 535.9,1045.1 535.9,1051.2 535.9,1057.3 535.9,1063.4 535.9,1069.4 535.9,1075.5 535.9,1081.6 535.9,1087.6 535.9,1093.7 535.9,1099.8 535.9,1102.0" stroke="#000" stroke-width="2.6" stroke-dasharray="2.1 2.55"/>
<path d="M819.0,570.0 819.0,575.5 819.1,581.6 819.1,587.7 819.2,592.6 819.2,593.8 819.2,599.9 819.2,600.8 819.3,606.0 819.3,607.6 819.4,612.2 819.4,613.4 819.5,618.3 819.6,622.7 819.7,624.4 819.7,626.7 819.8,630.3 819.8,630.6 819.9,633.5 820.0,636.5 820.1,639.3 820.2,641.9 820.3,643.0 820.3,644.3 820.4,646.6 820.5,648.8 820.5,649.2 820.6,650.8 820.7,652.8 820.8,654.6 820.8,655.4 820.9,656.4 821.0,658.1 821.1,659.7 821.2,661.3 821.2,661.7 821.3,662.8 821.4,664.2 821.5,665.6 821.6,667.0 821.6,668.0 821.8,669.5 821.9,670.8 822.0,672.0 822.0,673.1 822.1,674.2 822.2,675.3 822.3,676.4 822.4,677.4 822.5,678.4 822.6,679.4 822.7,680.4 822.8,680.8 822.8,681.3 822.9,682.3 823.0,683.2 823.1,684.0 823.2,684.9 823.3,685.8 823.4,686.6 823.5,687.2 823.6,688.2 823.7,689.0 823.8,689.8 823.9,690.5 824.0,691.3 824.1,692.0 824.2,692.7 824.3,693.4 824.3,693.8 824.4,694.1 824.5,694.8 824.6,695.5 824.7,696.1 824.8,696.8 824.8,697.4 824.9,698.1 825.0,698.7 825.1,699.3 825.2,699.9 825.3,700.4 825.4,701.1 825.5,701.7 825.6,702.3 825.7,702.9 825.8,703.4 825.9,704.0 826.0,704.5 826.1,705.1 826.2,705.6 826.3,706.1 826.4,706.7 826.5,707.1 826.6,707.7 826.7,708.2 826.8,708.7 826.9,709.2 827.0,709.7 827.1,710.2 827.2,710.7 827.3,711.2 827.4,711.6 827.5,712.1 827.6,712.6 827.7,713.0 827.7,713.5 827.8,713.9 827.9,714.4 828.0,714.8 828.1,715.3 828.2,715.7 828.3,716.1 828.4,716.6 828.5,717.0 828.6,717.4 828.7,717.8 828.8,718.2 828.9,718.6 829.0,719.0 829.1,719.5 829.2,719.9 829.3,720.3 829.4,720.6 829.5,721.0 829.6,721.4 829.7,721.8 829.8,722.2 829.9,722.6 830.0,723.0 830.1,723.3 830.2,723.7 830.3,724.1 830.4,724.4 830.5,724.8 830.5,725.2 830.6,725.5 830.7,725.9 830.8,726.2 830.9,726.6 831.0,726.9 831.1,727.3 831.2,727.6 831.3,728.0 831.4,728.3 831.5,728.7 831.6,729.0 831.7,729.3 831.8,729.7 831.9,730.0 832.0,730.3 832.1,730.7 832.2,731.0 832.3,731.3 832.4,731.6 832.5,732.0 832.6,732.3 832.7,732.6 832.8,732.9 832.9,733.2 833.0,733.5 833.1,733.8 833.2,734.2 833.3,734.5 833.3,734.8 833.4,735.1 833.5,735.4 833.6,735.7 833.7,736.0 833.8,736.3 833.9,736.6 834.0,736.9 834.1,737.2 834.2,737.5 834.3,737.8 834.4,738.0 834.5,738.3 834.6,738.6 834.7,738.9 834.8,739.2 835.0,739.8 835.2,740.3 835.4,740.9 835.6,741.4 835.8,742.0 836.0,742.5 836.1,743.1 836.3,743.6 836.4,743.9 836.6,744.4 836.8,744.9 837.0,745.4 837.2,746.0 837.4,746.5 837.6,747.0 837.8,747.5 838.0,748.0 838.2,748.5 838.4,749.0 838.6,749.5 838.8,750.0 838.9,750.5 839.1,750.9 839.3,751.4 839.5,751.7 839.6,752.1 839.8,752.6 840.0,753.1 840.2,753.5 840.4,754.0 840.6,754.5 840.8,754.9 841.0,755.4 841.2,755.9 841.4,756.3 841.6,756.8 841.8,757.2 841.9,757.7 842.1,758.1 842.3,758.5 842.5,759.0 842.7,759.4 842.9,759.9 843.1,760.3 843.3,760.7 843.5,761.2 843.7,761.6 843.9,762.0 844.1,762.5 844.3,762.9 844.5,763.3 844.6,763.7 844.8,764.1 845.0,764.6 845.2,765.0 845.4,765.4 845.6,765.8 845.8,766.2 846.0,766.6 846.2,767.1 846.4,767.5 846.6,767.9 846.8,768.3 847.0,768.7 847.2,769.1 847.4,769.5 847.5,769.9 847.7,770.3 847.9,770.7 848.1,771.1 848.3,771.5 848.5,771.9 848.7,772.3 848.9,772.7 849.1,773.1 849.3,773.5 849.5,773.9 849.7,774.2 849.9,774.6 850.1,775.0 850.2,775.4 850.4,775.8 850.6,776.2 850.8,776.6 851.0,777.0 851.2,777.3 851.4,777.7 851.6,778.1 851.8,778.5 852.0,778.9 852.2,779.3 852.4,779.7 852.6,780.0 852.8,780.4 853.0,780.8 853.1,781.2 853.3,781.6 853.5,781.9 853.7,782.3 853.9,782.7 854.1,783.1 854.3,783.4 854.5,783.8 854.7,784.2 854.9,784.6 855.1,785.0 855.3,785.3 855.5,785.7 855.7,786.1 855.9,786.5 856.0,786.8 856.2,787.2 856.4,787.6 856.6,788.0 856.8,788.3 857.0,788.7 857.2,789.1 857.4,789.5 857.6,789.8 857.8,790.2 858.0,790.6 858.2,791.0 858.4,791.3 858.6,791.7 858.7,792.1 858.9,792.5 859.1,792.8 859.3,793.2 859.5,793.6 859.7,794.0 859.9,794.3 860.1,794.7 860.3,795.1 860.5,795.5 860.7,795.8 860.9,796.2 861.1,796.6 861.3,797.0 861.5,797.4 861.6,797.7 861.8,798.1 862.0,798.5 862.2,798.9 862.4,799.3 862.6,799.6 862.8,800.0 863.0,800.4 863.2,800.8 863.4,801.2 863.6,801.6 863.8,801.9 864.0,802.3 864.2,802.7 864.3,803.1 864.5,803.5 864.7,803.9 864.9,804.3 865.1,804.6 865.3,805.0 865.5,805.4 865.7,805.8 865.9,806.2 866.1,806.6 866.3,807.0 866.5,807.4 866.7,807.8 866.9,808.2 867.1,808.6 867.2,809.0 867.4,809.4 867.6,809.8 867.8,810.2 868.0,810.6 868.2,811.0 868.4,811.4 868.6,811.8 868.8,812.2 869.0,812.6 869.2,813.0 869.4,813.5 869.6,813.9 869.8,814.3 870.0,814.7 870.1,815.1 870.3,815.5 870.5,816.0 870.7,816.4 870.9,816.8 871.1,817.2 871.3,817.7 871.5,818.1 871.7,818.5 871.9,819.0 872.1,819.4 872.3,819.8 872.5,820.3 872.7,820.7 872.8,821.2 873.0,821.6 873.2,822.0 873.4,822.5 873.6,822.9 873.8,823.4 874.0,823.9 874.2,824.3 874.4,824.8 874.6,825.2 874.8,825.7 875.0,826.2 875.2,826.7 875.4,827.1 875.6,827.6 875.7,828.1 875.9,828.6 876.1,829.1 876.3,829.5 876.5,830.0 876.7,830.5 876.9,831.0 877.1,831.5 877.3,832.0 877.5,832.5 877.7,833.1 877.9,833.6 878.1,834.1 878.3,834.6 878.4,834.9 878.5,835.4 878.7,835.9 878.9,836.5 879.1,837.0 879.3,837.6 879.5,838.1 879.7,838.7 879.9,839.3 880.1,839.8 880.2,840.1 880.3,840.4 880.4,840.7 880.5,841.0 880.6,841.3 880.7,841.5 880.8,841.8 880.9,842.1 881.0,842.4 881.1,842.7 881.2,843.0 881.3,843.3 881.3,843.6 881.4,843.9 881.5,844.2 881.6,844.5 881.7,844.9 881.8,845.2 881.9,845.5 882.0,845.8 882.1,846.1 882.2,846.4 882.3,846.7 882.4,847.1 882.5,847.4 882.6,847.7 882.7,848.0 882.8,848.4 882.9,848.7 883.0,849.0 883.1,849.4 883.2,849.7 883.3,850.0 883.4,850.4 883.5,850.7 883.6,851.1 883.7,851.4 883.8,851.7 883.9,852.1 884.0,852.4 884.1,852.8 884.1,853.2 884.2,853.5 884.3,853.9 884.4,854.2 884.5,854.6 884.6,855.0 884.7,855.4 884.8,855.7 884.9,856.1 885.0,856.5 885.1,856.9 885.2,857.2 885.3,857.6 885.4,858.0 885.5,858.4 885.6,858.8 885.7,859.2 885.8,859.6 885.9,860.0 886.0,860.5 886.1,860.9 886.2,861.3 886.3,861.7 886.4,862.1 886.5,862.6 886.6,863.0 886.7,863.4 886.8,863.9 886.8,864.2 886.9,864.8 887.0,865.2 887.1,865.7 887.2,866.1 887.3,866.6 887.4,867.1 887.5,867.5 887.6,868.0 887.7,868.5 887.8,869.0 887.9,869.5 888.0,870.0 888.1,870.5 888.2,871.0 888.3,871.5 888.4,872.1 888.5,872.6 888.6,873.1 888.7,873.7 888.8,874.2 888.9,874.8 889.0,875.3 889.1,875.9 889.2,876.5 889.3,877.0 889.4,877.6 889.5,878.2 889.6,878.8 889.7,879.5 889.7,880.1 889.8,880.7 889.9,881.4 890.0,882.0 890.1,882.7 890.2,883.3 890.3,884.0 890.4,884.4 890.4,884.7 890.5,885.4 890.6,886.1 890.7,886.9 890.8,887.6 890.9,888.4 891.0,889.1 891.1,889.9 891.2,890.7 891.3,891.5 891.4,892.3 891.5,893.2 891.6,894.0 891.7,894.9 891.8,895.8 891.9,896.7 891.9,897.3 892.0,897.7 892.1,898.6 892.2,899.6 892.3,900.6 892.4,901.7 892.5,902.7 892.5,903.7 892.6,904.9 892.7,906.1 892.8,907.3 892.9,908.5 893.0,909.8 893.1,911.1 893.2,912.4 893.3,913.8 893.4,915.2 893.5,916.3 893.5,916.7 893.6,918.3 893.7,919.9 893.8,921.6 893.9,922.6 893.9,923.4 894.0,925.2 894.1,927.2 894.2,928.8 894.2,929.2 894.3,931.4 894.4,933.6 894.4,935.0 894.5,936.1 894.6,938.7 894.7,941.2 894.8,944.5 894.9,947.4 894.9,947.7 895.0,951.3 895.0,953.5 895.1,955.2 895.2,959.6 895.3,964.6 895.3,965.8 895.4,970.3 895.4,971.9 895.4,977.1 895.5,978.0 895.5,984.1 895.5,985.4 895.6,990.2 895.6,996.1 895.7,1002.4 895.7,1008.5 895.7,1011.1 895.8,1014.6 895.8,1020.7 895.8,1026.8 895.8,1032.8 895.8,1036.7 895.8,1038.9 895.9,1045.0 895.9,1051.1 895.9,1057.2 895.9,1063.2 895.9,1069.3 895.9,1075.4 895.9,1081.4 895.9,1087.5 895.9,1093.6 895.9,1099.7 895.9,1102.0" stroke="#000" stroke-width="2.6" stroke-dasharray="2.1 2.55"/>
<path d="M720.1,570.0 720.1,571.8 720.2,577.9 720.3,584.0 720.4,588.9 720.5,590.1 720.6,596.3 720.7,597.2 720.8,602.4 720.9,604.0 721.1,608.5 721.1,609.7 721.3,614.7 721.5,619.1 721.6,620.8 721.8,623.1 722.0,626.7 722.0,627.0 722.2,630.0 722.4,633.0 722.6,635.8 722.9,638.4 723.0,639.5 723.1,640.8 723.3,643.2 723.5,645.3 723.6,645.7 723.7,647.4 724.0,649.4 724.2,651.2 724.3,652.0 724.4,653.0 724.6,654.7 724.9,656.3 725.1,657.9 725.1,658.3 725.3,659.4 725.5,660.9 725.7,662.3 726.0,663.7 726.1,664.7 726.4,666.3 726.6,667.5 726.8,668.7 727.1,669.9 727.3,671.0 727.5,672.1 727.7,673.2 727.9,674.2 728.2,675.3 728.4,676.3 728.6,677.2 728.7,677.6 728.8,678.2 729.0,679.1 729.3,680.1 729.5,681.0 729.7,681.8 729.9,682.7 730.1,683.5 730.3,684.2 730.6,685.2 730.8,686.0 731.0,686.8 731.3,687.5 731.5,688.3 731.7,689.0 731.9,689.8 732.1,690.5 732.2,690.8 732.4,691.2 732.6,691.9 732.8,692.6 733.0,693.2 733.2,693.9 733.5,694.6 733.7,695.2 733.9,695.9 734.1,696.5 734.3,697.1 734.5,697.6 734.8,698.3 735.0,698.9 735.2,699.5 735.4,700.1 735.7,700.7 735.9,701.3 736.1,701.8 736.3,702.4 736.6,702.9 736.8,703.5 737.0,704.0 737.2,704.5 737.4,705.1 737.7,705.6 737.9,706.1 738.1,706.6 738.3,707.1 738.5,707.6 738.8,708.1 739.0,708.6 739.2,709.1 739.4,709.5 739.6,710.0 739.9,710.5 740.1,711.0 740.3,711.4 740.5,711.9 740.7,712.3 741.0,712.8 741.2,713.2 741.4,713.7 741.6,714.1 741.8,714.5 742.1,715.0 742.3,715.4 742.5,715.8 742.7,716.2 743.0,716.7 743.2,717.1 743.4,717.5 743.6,717.9 743.8,718.3 744.1,718.7 744.3,719.1 744.5,719.5 744.7,719.9 744.9,720.3 745.2,720.7 745.4,721.1 745.6,721.4 745.8,721.8 746.0,722.2 746.3,722.6 746.5,722.9 746.7,723.3 746.9,723.7 747.1,724.0 747.4,724.4 747.6,724.8 747.8,725.1 748.0,725.5 748.3,725.8 748.4,726.1 748.7,726.5 748.9,726.9 749.1,727.2 749.4,727.6 749.6,727.9 749.8,728.2 750.0,728.6 750.2,728.9 750.5,729.3 750.7,729.6 750.9,729.9 751.1,730.2 751.3,730.6 751.6,730.9 751.8,731.2 752.0,731.5 752.2,731.9 752.4,732.2 752.7,732.5 752.9,732.8 753.1,733.1 753.3,733.4 753.5,733.7 753.8,734.0 754.0,734.4 754.2,734.7 754.4,735.0 754.7,735.3 754.9,735.6 755.1,735.9 755.3,736.2 755.5,736.5 755.8,736.8 756.0,737.0 756.2,737.3 756.4,737.6 756.6,737.9 756.9,738.2 757.1,738.5 757.3,738.8 757.5,739.1 757.7,739.4 758.0,739.6 758.2,739.9 758.4,740.2 758.6,740.5 758.8,740.8 759.1,741.0 759.3,741.3 759.5,741.6 759.7,741.9 760.0,742.1 760.2,742.4 760.4,742.7 760.6,743.0 760.8,743.2 761.1,743.5 761.3,743.8 761.5,744.0 761.7,744.3 761.9,744.6 762.2,744.8 762.4,745.1 762.6,745.3 762.8,745.6 763.0,745.9 763.3,746.1 763.5,746.4 763.7,746.6 763.9,746.9 764.1,747.1 764.4,747.4 764.6,747.7 764.8,747.9 765.0,748.2 765.2,748.4 765.5,748.7 765.7,748.9 765.9,749.2 766.1,749.4 766.4,749.7 766.6,749.9 766.8,750.2 767.0,750.4 767.2,750.6 767.5,750.9 767.7,751.1 767.9,751.4 768.1,751.6 768.3,751.9 768.6,752.1 768.8,752.3 769.0,752.6 769.2,752.8 769.4,753.1 769.7,753.3 769.9,753.5 770.1,753.8 770.3,754.0 770.5,754.2 770.8,754.5 771.0,754.7 771.2,754.9 771.4,755.2 771.6,755.4 771.9,755.6 772.1,755.9 772.3,756.1 772.5,756.3 772.8,756.5 773.0,756.8 773.2,757.0 773.4,757.2 773.6,757.5 773.9,757.7 774.1,757.9 774.3,758.1 774.5,758.4 774.7,758.6 775.0,758.8 775.2,759.0 775.4,759.3 775.6,759.5 775.8,759.7 776.1,759.9 776.3,760.1 776.5,760.4 776.7,760.6 776.9,760.8 777.2,761.0 777.4,761.2 777.6,761.5 777.8,761.7 778.1,761.9 778.3,762.1 778.5,762.3 778.7,762.6 778.9,762.8 779.2,763.0 779.4,763.2 779.6,763.4 779.8,763.6 780.0,763.8 780.3,764.1 780.5,764.3 780.7,764.5 780.9,764.7 781.1,764.9 781.4,765.1 781.6,765.3 781.8,765.5 782.0,765.8 782.2,766.0 782.5,766.2 782.7,766.4 782.9,766.6 783.1,766.8 783.3,767.0 783.6,767.2 783.8,767.4 784.0,767.6 784.2,767.9 784.5,768.1 784.7,768.3 784.9,768.5 785.1,768.7 785.3,768.9 785.6,769.1 785.8,769.3 786.0,769.5 786.2,769.7 786.4,769.9 786.7,770.1 786.9,770.3 787.1,770.5 787.3,770.7 787.5,770.9 787.8,771.2 788.0,771.4 788.2,771.6 788.4,771.8 788.9,772.2 789.3,772.6 789.8,773.0 790.2,773.4 790.6,773.8 791.1,774.2 791.5,774.6 792.0,775.0 792.4,775.4 792.8,775.8 793.3,776.2 793.7,776.6 794.2,777.0 794.6,777.4 795.0,777.8 795.5,778.2 795.9,778.6 796.4,779.0 796.8,779.4 797.3,779.7 797.7,780.1 798.1,780.5 798.6,780.9 799.0,781.3 799.5,781.7 799.9,782.1 800.3,782.5 800.8,782.9 801.2,783.3 801.7,783.7 802.1,784.1 802.6,784.4 803.0,784.8 803.4,785.2 803.9,785.6 804.3,786.0 804.8,786.4 805.2,786.8 805.6,787.2 806.1,787.6 806.5,787.9 807.0,788.3 807.4,788.7 807.9,789.1 808.3,789.5 808.7,789.9 809.2,790.3 809.6,790.7 810.1,791.0 810.5,791.4 810.9,791.8 811.4,792.2 811.8,792.6 812.3,793.0 812.7,793.4 813.2,793.8 813.6,794.2 814.0,794.6 814.5,794.9 814.9,795.3 815.4,795.7 815.8,796.1 816.2,796.5 816.7,796.9 817.1,797.3 817.6,797.7 818.0,798.1 818.4,798.5 818.9,798.9 819.3,799.3 819.8,799.7 820.2,800.1 820.7,800.5 821.1,800.8 821.5,801.2 822.0,801.6 822.4,802.0 822.9,802.4 823.3,802.8 823.7,803.2 824.2,803.6 824.6,804.0 825.1,804.4 825.5,804.9 826.0,805.3 826.4,805.7 826.8,806.1 827.1,806.3 827.3,806.5 827.5,806.7 827.7,806.9 827.9,807.1 828.2,807.3 828.4,807.5 828.6,807.7 828.8,807.9 829.0,808.1 829.3,808.3 829.5,808.5 829.7,808.7 829.9,808.9 830.1,809.1 830.4,809.3 830.6,809.6 830.8,809.8 831.0,810.0 831.3,810.2 831.5,810.4 831.7,810.6 831.9,810.8 832.1,811.0 832.4,811.2 832.6,811.4 832.8,811.6 833.0,811.8 833.2,812.1 833.5,812.3 833.7,812.5 833.9,812.7 834.1,812.9 834.3,813.1 834.6,813.3 834.8,813.5 835.0,813.8 835.2,814.0 835.4,814.2 835.7,814.4 835.9,814.6 836.1,814.8 836.3,815.0 836.5,815.3 836.8,815.5 837.0,815.7 837.2,815.9 837.4,816.1 837.7,816.3 837.9,816.6 838.1,816.8 838.3,817.0 838.5,817.2 838.8,817.4 839.0,817.6 839.2,817.9 839.4,818.1 839.6,818.3 839.9,818.5 840.1,818.8 840.3,819.0 840.5,819.2 840.7,819.4 841.0,819.6 841.2,819.9 841.4,820.1 841.6,820.3 841.8,820.5 842.1,820.8 842.3,821.0 842.5,821.2 842.7,821.4 843.0,821.7 843.2,821.9 843.4,822.1 843.6,822.4 843.8,822.6 844.1,822.8 844.3,823.1 844.5,823.3 844.7,823.5 844.9,823.8 845.2,824.0 845.4,824.2 845.6,824.5 845.8,824.7 846.0,824.9 846.3,825.2 846.5,825.4 846.7,825.6 846.9,825.9 847.1,826.1 847.4,826.3 847.6,826.6 847.8,826.8 848.0,827.1 848.2,827.3 848.5,827.6 848.7,827.8 848.9,828.0 849.1,828.3 849.4,828.5 849.6,828.8 849.8,829.0 850.0,829.3 850.2,829.5 850.5,829.8 850.7,830.0 850.9,830.3 851.1,830.5 851.3,830.8 851.6,831.0 851.8,831.3 852.0,831.5 852.2,831.8 852.4,832.0 852.7,832.3 852.9,832.6 853.1,832.8 853.3,833.1 853.5,833.3 853.8,833.6 854.0,833.9 854.2,834.1 854.4,834.4 854.7,834.7 854.9,834.9 855.1,835.2 855.3,835.4 855.5,835.7 855.8,836.0 856.0,836.3 856.2,836.5 856.4,836.8 856.6,837.1 856.9,837.4 857.1,837.6 857.3,837.9 857.5,838.2 857.7,838.5 858.0,838.7 858.2,839.0 858.4,839.3 858.6,839.6 858.8,839.9 859.1,840.2 859.3,840.4 859.5,840.7 859.7,841.0 859.9,841.3 860.2,841.6 860.4,841.9 860.6,842.2 860.8,842.5 861.1,842.8 861.3,843.1 861.5,843.4 861.7,843.7 861.9,844.0 862.2,844.3 862.4,844.6 862.6,844.9 862.8,845.2 863.0,845.5 863.3,845.8 863.5,846.2 863.7,846.5 863.9,846.8 864.1,847.1 864.4,847.4 864.6,847.7 864.8,848.1 865.0,848.4 865.2,848.7 865.5,849.1 865.7,849.4 865.9,849.7 866.1,850.0 866.4,850.4 866.6,850.7 866.8,851.1 867.0,851.4 867.2,851.8 867.5,852.1 867.7,852.4 867.9,852.8 868.1,853.1 868.3,853.5 868.6,853.9 868.8,854.2 869.0,854.6 869.2,854.9 869.4,855.3 869.7,855.7 869.9,856.1 870.1,856.4 870.3,856.8 870.5,857.2 870.8,857.6 871.0,858.0 871.2,858.3 871.4,858.7 871.6,859.1 871.9,859.5 872.1,859.9 872.3,860.3 872.5,860.7 872.8,861.1 873.0,861.6 873.2,862.0 873.4,862.4 873.6,862.8 873.9,863.2 874.1,863.7 874.3,864.1 874.5,864.5 874.7,865.0 875.0,865.4 875.1,865.8 875.4,866.3 875.6,866.8 875.8,867.2 876.1,867.7 876.3,868.2 876.5,868.6 876.7,869.1 876.9,869.6 877.2,870.1 877.4,870.6 877.6,871.1 877.8,871.6 878.0,872.1 878.3,872.6 878.5,873.1 878.7,873.7 878.9,874.2 879.2,874.7 879.4,875.3 879.6,875.8 879.8,876.4 880.0,877.0 880.3,877.5 880.5,878.1 880.7,878.7 880.9,879.3 881.1,879.9 881.4,880.5 881.6,881.1 881.8,881.8 882.0,882.4 882.2,883.0 882.5,883.7 882.7,884.4 882.9,885.0 883.1,885.7 883.2,886.1 883.3,886.4 883.6,887.1 883.8,887.8 884.0,888.6 884.2,889.3 884.5,890.1 884.7,890.8 884.9,891.6 885.1,892.4 885.3,893.2 885.6,894.1 885.8,894.9 886.0,895.8 886.2,896.7 886.4,897.6 886.7,898.5 886.8,899.1 886.9,899.4 887.1,900.4 887.3,901.4 887.5,902.4 887.8,903.4 888.0,904.5 888.2,905.5 888.4,906.7 888.6,907.9 888.9,909.1 889.1,910.3 889.3,911.6 889.5,912.9 889.7,914.2 890.0,915.6 890.2,917.0 890.4,918.1 890.4,918.5 890.6,920.1 890.9,921.7 891.1,923.4 891.2,924.4 891.3,925.2 891.5,927.0 891.7,929.0 891.9,930.7 892.0,931.0 892.2,933.2 892.4,935.5 892.5,936.9 892.6,937.9 892.8,940.5 893.0,943.1 893.3,946.3 893.5,949.2 893.5,949.6 893.7,953.1 893.9,955.4 893.9,957.1 894.2,961.5 894.4,966.5 894.4,967.7 894.6,972.2 894.7,973.8 894.8,979.0 894.9,979.9 895.0,986.0 895.0,987.3 895.2,992.1 895.3,997.9 895.4,1004.3 895.5,1010.4 895.5,1013.0 895.5,1016.5 895.6,1022.6 895.6,1028.7 895.7,1034.7 895.7,1038.6 895.7,1040.8 895.8,1046.9 895.8,1053.0 895.8,1059.0 895.8,1065.1 895.8,1071.2 895.9,1077.3 895.9,1083.3 895.9,1089.4 895.9,1095.5 895.9,1101.6 895.9,1102.0" stroke="#ff0000" stroke-width="2.6" stroke-linecap="round"/>
<path d="M582.9,570.0 583.1,574.9 583.2,576.1 583.5,582.2 583.5,583.1 583.8,588.3 583.9,589.9 584.2,594.4 584.3,595.6 584.7,600.6 585.1,605.0 585.2,606.7 585.5,608.9 585.9,612.5 585.9,612.8 586.3,615.8 586.7,618.8 587.1,621.5 587.4,624.1 587.6,625.2 587.8,626.6 588.2,628.9 588.6,631.0 588.7,631.4 589.0,633.1 589.4,635.0 589.8,636.9 590.0,637.7 590.2,638.6 590.6,640.3 591.0,642.0 591.4,643.5 591.5,643.9 591.8,645.0 592.2,646.5 592.6,647.9 593.0,649.3 593.3,650.3 593.7,651.8 594.1,653.1 594.5,654.3 594.9,655.4 595.3,656.6 595.7,657.7 596.1,658.8 596.5,659.8 596.9,660.8 597.3,661.8 597.7,662.8 597.8,663.2 598.1,663.8 598.5,664.7 598.9,665.6 599.2,666.5 599.6,667.4 600.0,668.3 600.4,669.1 600.7,669.8 601.2,670.8 601.6,671.6 602.0,672.4 602.4,673.1 602.8,673.9 603.2,674.6 603.6,675.4 604.0,676.1 604.2,676.5 604.4,676.8 604.8,677.5 605.2,678.2 605.5,678.9 605.9,679.6 606.3,680.2 606.7,680.9 607.1,681.5 607.5,682.2 607.9,682.8 608.2,683.3 608.7,684.0 609.1,684.7 609.5,685.3 609.9,685.8 610.3,686.4 610.7,687.0 611.1,687.6 611.4,688.1 611.8,688.7 612.2,689.3 612.6,689.8 613.0,690.3 613.4,690.9 613.8,691.4 614.2,691.9 614.6,692.5 615.0,693.0 615.4,693.5 615.8,694.0 616.2,694.5 616.6,695.0 617.0,695.5 617.3,696.0 617.7,696.4 618.1,696.9 618.5,697.4 618.9,697.9 619.3,698.3 619.7,698.8 620.1,699.3 620.5,699.7 620.9,700.2 621.3,700.6 621.7,701.1 622.1,701.5 622.5,701.9 622.9,702.4 623.3,702.8 623.6,703.2 624.0,703.7 624.4,704.1 624.8,704.5 625.2,704.9 625.6,705.3 626.0,705.7 626.4,706.2 626.8,706.6 627.2,707.0 627.6,707.4 628.0,707.8 628.4,708.2 628.8,708.5 629.2,708.9 629.5,709.3 629.9,709.7 630.3,710.1 630.7,710.5 631.1,710.9 631.5,711.2 631.9,711.6 632.3,712.0 632.7,712.4 633.0,712.7 633.5,713.1 633.9,713.5 634.3,713.8 634.7,714.2 635.1,714.5 635.4,714.9 635.8,715.2 636.2,715.6 636.6,716.0 637.0,716.3 637.4,716.7 637.8,717.0 638.2,717.3 638.6,717.7 639.0,718.0 639.4,718.4 639.8,718.7 640.2,719.0 640.6,719.4 641.0,719.7 641.4,720.1 641.7,720.4 642.1,720.7 642.5,721.0 642.9,721.4 643.3,721.7 643.7,722.0 644.1,722.3 644.5,722.7 644.9,723.0 645.3,723.3 645.7,723.6 646.1,723.9 646.5,724.3 646.9,724.6 647.3,724.9 647.6,725.2 648.0,725.5 648.4,725.8 648.8,726.1 649.2,726.4 649.6,726.7 650.0,727.0 650.4,727.3 650.8,727.6 651.2,728.0 651.6,728.3 652.0,728.6 652.4,728.9 652.8,729.1 653.1,729.4 653.5,729.7 653.9,730.0 654.3,730.3 654.7,730.6 655.1,730.9 655.5,731.2 655.9,731.5 656.3,731.8 656.7,732.1 657.1,732.4 657.5,732.6 657.9,732.9 658.3,733.2 658.7,733.5 659.1,733.8 659.5,734.1 659.8,734.3 660.2,734.6 660.6,734.9 661.0,735.2 661.4,735.5 661.8,735.7 662.2,736.0 662.6,736.3 663.0,736.6 663.4,736.9 663.8,737.1 664.2,737.4 664.6,737.7 665.0,737.9 665.4,738.2 665.7,738.5 666.1,738.8 666.5,739.0 666.9,739.3 667.3,739.6 667.7,739.8 668.1,740.1 668.5,740.4 668.9,740.6 669.3,740.9 669.7,741.2 670.1,741.4 670.5,741.7 670.9,742.0 671.3,742.2 671.6,742.5 672.0,742.7 672.4,743.0 672.8,743.3 673.2,743.5 673.6,743.8 674.0,744.0 674.4,744.3 674.8,744.6 675.2,744.8 675.6,745.1 676.0,745.3 676.4,745.6 676.8,745.9 677.2,746.1 677.6,746.4 677.9,746.6 678.3,746.9 678.7,747.1 679.1,747.4 679.5,747.6 679.9,747.9 680.3,748.1 680.7,748.4 681.0,748.6 681.5,748.9 681.9,749.2 682.3,749.4 682.7,749.7 683.1,749.9 683.5,750.2 683.8,750.4 684.2,750.7 684.6,750.9 685.0,751.2 685.4,751.4 685.8,751.7 686.2,751.9 686.6,752.2 687.0,752.4 687.4,752.6 687.8,752.9 688.2,753.1 688.6,753.4 689.0,753.6 689.4,753.9 689.7,754.1 690.1,754.4 690.5,754.6 690.9,754.9 691.3,755.1 691.7,755.4 692.1,755.6 692.5,755.9 692.9,756.1 693.3,756.3 693.7,756.6 694.1,756.8 694.5,757.1 694.9,757.3 695.3,757.6 695.7,757.8 696.0,758.0 696.4,758.3 696.8,758.5 697.2,758.8 697.6,759.0 698.0,759.3 698.4,759.5 698.8,759.7 699.2,760.0 699.6,760.2 700.0,760.5 700.4,760.7 700.8,760.9 701.2,761.2 701.6,761.4 701.9,761.7 702.3,761.9 702.7,762.1 703.1,762.4 703.5,762.6 703.9,762.9 704.3,763.1 704.7,763.3 705.1,763.6 705.5,763.8 705.9,764.1 706.3,764.3 706.7,764.5 707.1,764.8 707.5,765.0 707.8,765.2 708.2,765.5 708.6,765.7 709.0,766.0 709.4,766.2 709.8,766.4 710.2,766.7 710.6,766.9 711.0,767.1 711.4,767.4 711.8,767.6 712.2,767.9 712.6,768.1 713.0,768.3 713.4,768.6 713.8,768.8 714.1,769.0 714.5,769.3 714.9,769.5 715.3,769.7 715.7,770.0 716.1,770.2 716.5,770.4 716.9,770.7 717.3,770.9 717.7,771.1 718.1,771.4 718.5,771.6 718.9,771.8 719.3,772.1 719.7,772.3 720.0,772.5 720.4,772.8 720.8,773.0 721.2,773.2 721.6,773.5 722.0,773.7 722.4,773.9 722.8,774.2 723.2,774.4 723.6,774.6 724.0,774.8 724.4,775.1 724.8,775.3 725.2,775.5 725.6,775.8 725.9,776.0 726.3,776.2 726.7,776.5 727.1,776.7 727.5,776.9 727.9,777.1 728.3,777.4 728.7,777.6 729.1,777.8 729.5,778.1 729.9,778.3 730.3,778.5 730.7,778.7 731.1,779.0 731.5,779.2 731.8,779.4 732.2,779.7 732.6,779.9 733.0,780.1 733.4,780.3 733.8,780.6 734.2,780.8 734.6,781.0 735.0,781.3 735.4,781.5 735.8,781.7 736.2,781.9 736.6,782.2 737.0,782.4 737.4,782.6 737.8,782.8 738.1,783.1 738.5,783.3 738.9,783.5 739.3,783.7 739.7,784.0 740.1,784.2 740.5,784.4 740.9,784.6 741.3,784.9 741.7,785.1 742.1,785.3 742.5,785.5 742.9,785.8 743.3,786.0 743.7,786.2 744.0,786.4 744.4,786.7 744.8,786.9 745.2,787.1 745.6,787.3 746.0,787.6 746.4,787.8 746.8,788.0 747.2,788.2 747.6,788.5 748.0,788.7 748.4,788.9 748.8,789.1 749.2,789.4 749.6,789.6 749.9,789.8 750.3,790.0 750.7,790.3 751.1,790.5 751.5,790.7 751.9,790.9 752.3,791.2 752.7,791.4 753.1,791.6 753.5,791.8 753.9,792.1 754.3,792.3 754.7,792.5 755.1,792.7 755.5,793.0 755.9,793.2 756.2,793.4 756.6,793.6 757.0,793.9 757.4,794.1 757.8,794.3 758.2,794.5 758.6,794.8 759.0,795.0 759.4,795.2 759.8,795.4 760.2,795.7 760.6,795.9 761.0,796.1 761.4,796.3 761.8,796.6 762.1,796.8 762.5,797.0 762.9,797.2 763.3,797.5 763.7,797.7 764.1,797.9 764.5,798.1 764.9,798.4 765.3,798.6 765.7,798.8 766.1,799.0 766.5,799.3 766.9,799.5 767.3,799.7 767.7,799.9 768.0,800.2 768.4,800.4 768.8,800.6 769.2,800.8 769.6,801.1 770.0,801.3 770.4,801.5 770.8,801.8 771.2,802.0 771.6,802.2 772.0,802.4 772.4,802.7 772.8,802.9 773.2,803.1 773.6,803.4 774.0,803.6 774.3,803.8 774.7,804.0 775.1,804.3 775.5,804.5 775.9,804.7 776.3,805.0 776.7,805.2 777.1,805.4 777.5,805.6 777.9,805.9 778.3,806.1 778.7,806.3 779.1,806.6 779.5,806.8 779.9,807.0 780.2,807.3 780.6,807.5 781.0,807.7 781.4,808.0 781.8,808.2 782.2,808.4 782.6,808.7 783.0,808.9 783.4,809.1 783.8,809.4 784.2,809.6 784.6,809.8 785.0,810.1 785.4,810.3 785.8,810.5 786.1,810.8 786.5,811.0 786.9,811.2 787.3,811.5 787.7,811.7 788.1,811.9 788.5,812.2 788.9,812.4 789.3,812.7 789.7,812.9 790.1,813.1 790.5,813.4 790.9,813.6 791.3,813.8 791.7,814.1 792.1,814.3 792.4,814.6 792.8,814.8 793.2,815.1 793.6,815.3 794.0,815.5 794.4,815.8 794.8,816.0 795.2,816.3 795.6,816.5 796.0,816.7 796.4,817.0 796.8,817.2 797.2,817.5 797.6,817.7 798.0,818.0 798.3,818.2 798.7,818.5 799.1,818.7 799.5,819.0 799.9,819.2 800.3,819.5 800.7,819.7 801.1,820.0 801.5,820.2 801.9,820.5 802.3,820.7 802.7,821.0 803.1,821.2 803.5,821.5 803.9,821.7 804.2,822.0 804.6,822.2 805.0,822.5 805.4,822.7 805.8,823.0 806.2,823.2 806.6,823.5 807.0,823.7 807.4,824.0 807.8,824.3 808.2,824.5 808.6,824.8 809.0,825.0 809.4,825.3 809.8,825.6 810.2,825.8 810.5,826.1 810.9,826.3 811.3,826.6 811.6,826.8 812.1,827.1 812.5,827.4 812.9,827.7 813.3,827.9 813.7,828.2 814.1,828.5 814.5,828.7 814.9,829.0 815.3,829.3 815.7,829.5 816.1,829.8 816.4,830.1 816.8,830.4 817.2,830.6 817.6,830.9 818.0,831.2 818.4,831.5 818.8,831.7 819.2,832.0 819.6,832.3 820.0,832.6 820.4,832.8 820.8,833.1 821.2,833.4 821.6,833.7 822.0,834.0 822.3,834.2 822.7,834.5 823.1,834.8 823.5,835.1 823.9,835.4 824.3,835.7 824.7,836.0 825.1,836.3 825.5,836.5 825.9,836.8 826.3,837.1 826.7,837.4 827.1,837.7 827.5,838.0 827.9,838.3 828.3,838.6 828.6,838.9 829.0,839.2 829.4,839.5 829.8,839.8 830.2,840.1 830.6,840.4 831.0,840.7 831.4,841.0 831.8,841.3 832.2,841.7 832.6,842.0 833.0,842.3 833.4,842.6 833.8,842.9 834.2,843.2 834.5,843.5 834.9,843.8 835.2,844.1 835.7,844.5 836.1,844.8 836.5,845.1 836.9,845.5 837.3,845.8 837.7,846.1 838.1,846.4 838.5,846.8 838.9,847.1 839.3,847.4 839.7,847.8 840.1,848.1 840.4,848.4 840.8,848.8 841.2,849.1 841.6,849.5 842.0,849.8 842.4,850.2 842.8,850.5 843.2,850.9 843.6,851.2 844.0,851.6 844.4,851.9 844.8,852.3 845.2,852.6 845.6,853.0 846.0,853.4 846.4,853.7 846.7,854.1 847.1,854.5 847.5,854.9 847.9,855.2 848.3,855.6 848.7,856.0 849.1,856.4 849.5,856.8 849.9,857.1 850.3,857.5 850.7,857.9 851.1,858.3 851.5,858.7 851.9,859.1 852.2,859.5 852.6,859.9 853.0,860.3 853.4,860.8 853.8,861.2 854.2,861.6 854.6,862.0 855.0,862.4 855.4,862.9 855.8,863.3 856.2,863.7 856.6,864.2 857.0,864.6 857.4,865.0 857.8,865.5 858.2,865.9 858.5,866.4 858.9,866.8 859.3,867.3 859.7,867.8 860.1,868.3 860.5,868.7 860.9,869.2 861.3,869.7 861.7,870.2 862.1,870.7 862.5,871.2 862.9,871.7 863.3,872.2 863.7,872.7 864.1,873.2 864.5,873.8 864.8,874.3 865.2,874.8 865.6,875.4 866.0,875.9 866.4,876.5 866.8,877.0 867.2,877.6 867.6,878.2 868.0,878.7 868.4,879.3 868.8,879.9 869.2,880.5 869.6,881.1 870.0,881.8 870.4,882.4 870.7,883.0 871.1,883.7 871.5,884.3 871.9,885.0 872.3,885.7 872.7,886.3 873.1,887.0 873.3,887.4 873.5,887.7 873.9,888.4 874.3,889.2 874.7,889.9 875.1,890.7 875.5,891.4 875.9,892.2 876.3,893.0 876.6,893.8 877.0,894.6 877.4,895.5 877.8,896.3 878.2,897.2 878.6,898.1 879.0,899.0 879.4,899.9 879.6,900.5 879.8,900.9 880.2,901.8 880.6,902.8 881.0,903.8 881.4,904.9 881.8,906.0 882.1,906.9 882.6,908.2 882.9,909.3 883.3,910.5 883.7,911.8 884.1,913.0 884.5,914.3 884.9,915.7 885.3,917.1 885.7,918.5 886.0,919.6 886.1,920.0 886.5,921.6 886.9,923.2 887.3,924.9 887.5,925.9 887.7,926.7 888.1,928.6 888.5,930.5 888.8,932.2 888.8,932.6 889.2,934.7 889.6,937.0 889.9,938.4 890.0,939.5 890.4,942.1 890.8,944.6 891.2,947.9 891.6,950.8 891.6,951.1 892.0,954.7 892.2,956.9 892.4,958.6 892.8,963.1 893.2,968.0 893.3,969.2 893.6,973.8 893.7,975.4 894.0,980.6 894.0,981.5 894.3,987.6 894.4,988.9 894.5,993.7 894.7,999.5 894.9,1005.9 895.1,1012.0 895.1,1014.5 895.2,1018.1 895.3,1024.2 895.4,1030.2 895.5,1036.3 895.5,1040.2 895.6,1042.4 895.6,1048.5 895.7,1054.6 895.7,1060.6 895.7,1066.7 895.8,1072.8 895.8,1078.9 895.8,1084.9 895.8,1091.0 895.8,1097.1 895.9,1102.0" stroke="#ff0000" stroke-width="2.6" stroke-dasharray="9 9.5" stroke-dashoffset="13.20"/>
</g>
<text transform="translate(110.93,1102.80) scale(0.2894,0.2809)" class="g">2</text>
<rect x="92.60" y="1095.25" width="16.40" height="1.30" fill="#000"/>
<text transform="translate(305.70,1102.80) scale(0.2613,0.2787)" class="g">1</text>
<rect x="287.10" y="1095.25" width="16.30" height="1.30" fill="#000"/>
<text transform="translate(500.05,1103.03) scale(0.2761,0.2801)" class="g">0</text>
<text transform="translate(694.80,1102.80) scale(0.2613,0.2787)" class="g">1</text>
<text transform="translate(888.93,1102.80) scale(0.2894,0.2809)" class="g">2</text>
<text transform="translate(52.90,1079.50) scale(0.2613,0.2711)" class="g">1</text>
<text transform="translate(66.02,1079.93) scale(0.2831,0.2816)" class="g">0</text>
<rect x="82.00" y="1064.30" width="13.10" height="1.00" fill="#000"/>
<text transform="translate(96.60,1070.10) scale(0.2045,0.1893)" class="g">1</text>
<text transform="translate(69.82,909.70) scale(0.2599,0.2772)" class="g">1</text>
<text transform="translate(82.90,910.31) scale(0.2879,0.2919)" class="g">0</text>
<text transform="translate(96.77,900.50) scale(0.2171,0.2060)" class="g">0</text>
<text transform="translate(69.82,739.70) scale(0.2599,0.2772)" class="g">1</text>
<text transform="translate(82.90,740.31) scale(0.2879,0.2919)" class="g">0</text>
<text transform="translate(96.05,730.00) scale(0.2102,0.1984)" class="g">1</text>
<text transform="translate(452.62,1141.33) scale(0.2920,0.3275)" class="g">(</text>
<text transform="translate(463.05,1141.10) scale(0.2784,0.3014)" class="g">1</text>
<rect x="486.90" y="1132.85" width="17.60" height="1.30" fill="#000"/>
<text transform="translate(514.97,1141.50) scale(0.3306,0.3028)" class="g" font-style="italic">z</text>
<text transform="translate(528.98,1141.56) scale(0.2842,0.3309)" class="g">)</text>
<text transform="translate(541.60,1147.58) scale(0.4103,0.4350)" class="g">/</text>
<text transform="translate(556.17,1141.08) scale(0.3031,0.2873)" class="g" font-style="italic">ρ</text>
<text transform="translate(569.87,1130.20) scale(0.2345,0.2175)" class="g">2</text>
<text transform="translate(26.72,869.82) rotate(-90) scale(0.2783,0.2863)" class="g" font-style="italic">ω</text>
<text transform="translate(33.47,848.10) rotate(-90) scale(0.4103,0.4440)" class="g">/</text>
<text transform="translate(26.72,836.05) rotate(-90) scale(0.2846,0.2863)" class="g" font-style="italic">ω</text>
<text transform="translate(30.72,815.94) rotate(-90) scale(0.2158,0.2105)" class="g" font-style="italic">p</text>
<text transform="translate(1.60,615.57) scale(0.3193,0.2834)" class="g">(</text>
<text transform="translate(11.66,616.41) scale(0.3074,0.2942)" class="g" font-style="italic">b</text>
<text transform="translate(26.98,615.57) scale(0.3154,0.2834)" class="g">)</text>
</svg></body></html>
